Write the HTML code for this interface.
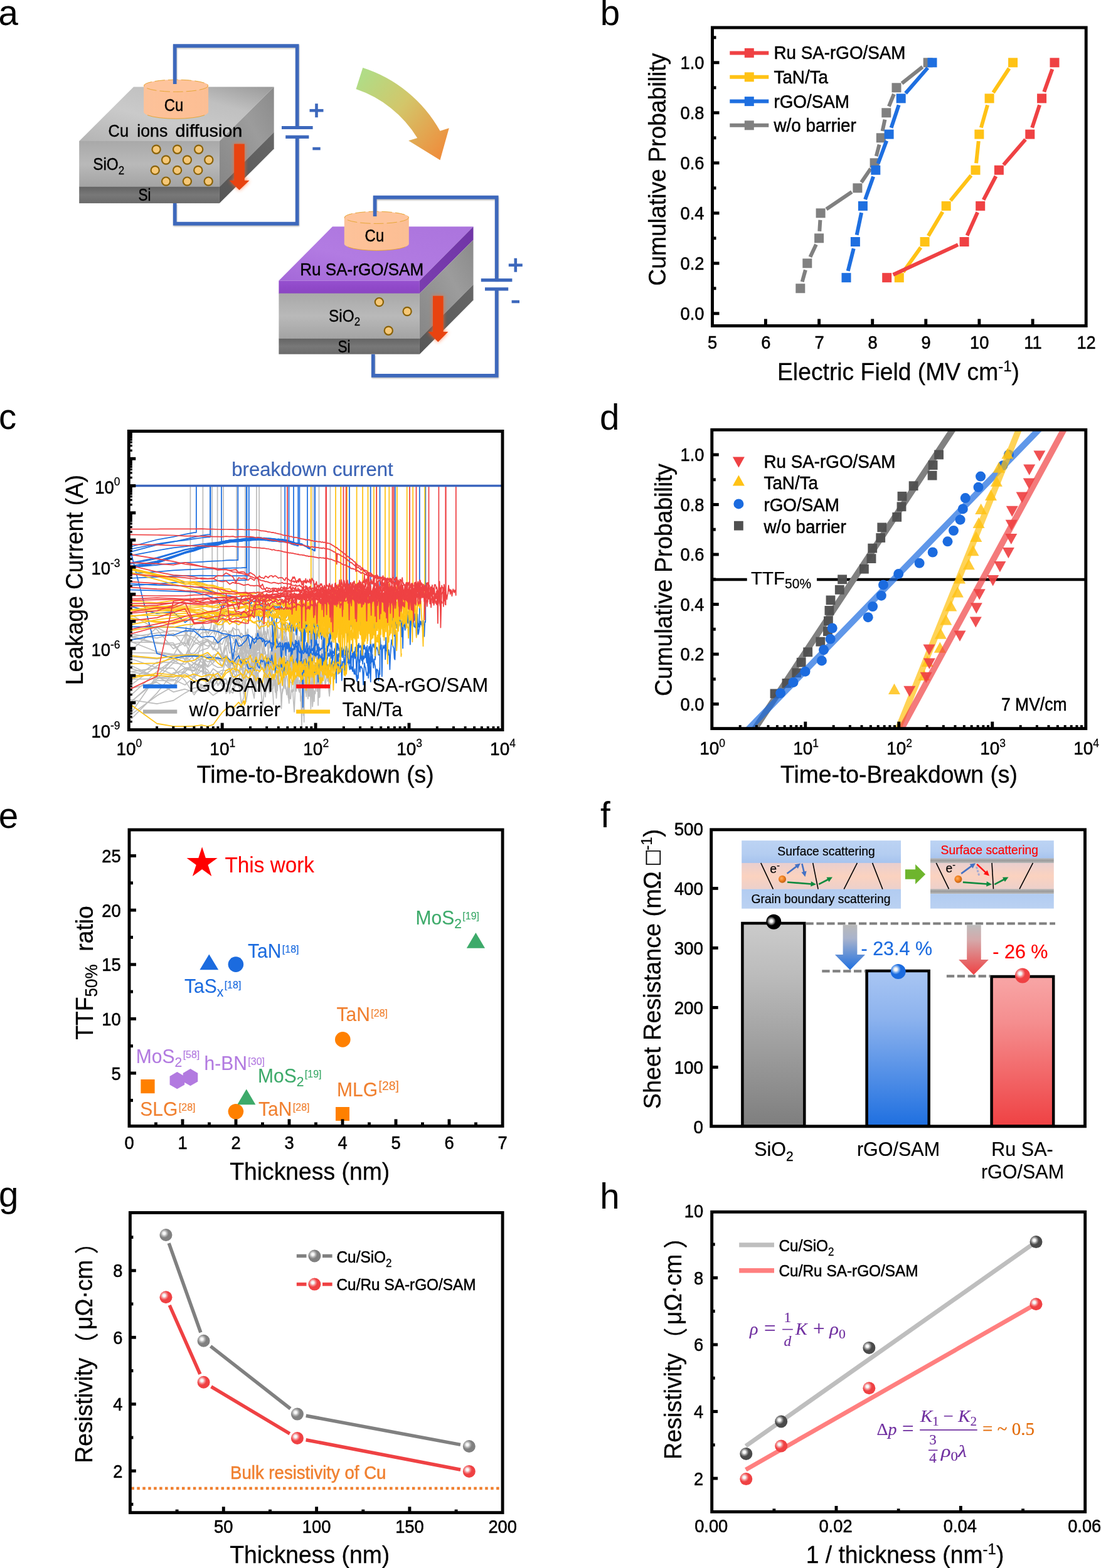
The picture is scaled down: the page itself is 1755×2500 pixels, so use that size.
<!DOCTYPE html>
<html lang="en"><head><meta charset="utf-8"><title>Figure</title>
<style>
html,body{margin:0;padding:0;background:#fff}
body{width:1755px;height:2500px;overflow:hidden}
svg{display:block}
svg text{font-family:"Liberation Sans","Noto Sans CJK SC",sans-serif;white-space:pre}
</style></head><body>
<svg width="1755" height="2500" viewBox="0 0 1755 2500">
<defs>
<linearGradient id="cu" x1="0" y1="0" x2="1" y2="0"><stop offset="0" stop-color="#FCC29A"/><stop offset="0.5" stop-color="#FEC096"/><stop offset="1" stop-color="#FBBE94"/></linearGradient>
<linearGradient id="at" x1="0" y1="1" x2="1" y2="0"><stop offset="0" stop-color="#b4b4b4"/><stop offset="0.4" stop-color="#cacaca"/><stop offset="0.7" stop-color="#c0c0c0"/><stop offset="1" stop-color="#999"/></linearGradient>
<linearGradient id="af" x1="0" y1="0" x2="0" y2="1"><stop offset="0" stop-color="#a9a9a9"/><stop offset="0.5" stop-color="#b9b9b9"/><stop offset="1" stop-color="#a3a3a3"/></linearGradient>
<linearGradient id="afs" x1="0" y1="0" x2="0" y2="1"><stop offset="0" stop-color="#646464"/><stop offset="0.5" stop-color="#787878"/><stop offset="1" stop-color="#6a6a6a"/></linearGradient>
<linearGradient id="ar" x1="0" y1="1" x2="1" y2="0"><stop offset="0" stop-color="#868686"/><stop offset="0.6" stop-color="#9c9c9c"/><stop offset="1" stop-color="#8a8a8a"/></linearGradient>
<linearGradient id="ars" x1="0" y1="1" x2="1" y2="0"><stop offset="0" stop-color="#565656"/><stop offset="1" stop-color="#666"/></linearGradient>
<linearGradient id="pt" x1="0" y1="1" x2="1" y2="0"><stop offset="0" stop-color="#a468d8"/><stop offset="0.4" stop-color="#b27be2"/><stop offset="1" stop-color="#ab74dd"/></linearGradient>
<linearGradient id="pf" x1="0" y1="0" x2="0" y2="1"><stop offset="0" stop-color="#9650cf"/><stop offset="0.5" stop-color="#9049c9"/><stop offset="1" stop-color="#8a45c2"/></linearGradient>
<linearGradient id="pr" x1="0" y1="1" x2="1" y2="0"><stop offset="0" stop-color="#7a3eaf"/><stop offset="1" stop-color="#7035a6"/></linearGradient>
<linearGradient id="ca" gradientUnits="userSpaceOnUse" x1="575" y1="125" x2="710" y2="235"><stop offset="0" stop-color="#b1dc86"/><stop offset="0.45" stop-color="#d3c66a"/><stop offset="1" stop-color="#ee8f3e"/></linearGradient>
<filter id="glow" x="-60%" y="-30%" width="220%" height="160%"><feGaussianBlur stdDeviation="3.2"/></filter>
<filter id="wsh" x="-5%" y="-5%" width="110%" height="110%"><feGaussianBlur stdDeviation="1.2"/></filter>
<linearGradient id="fb1" x1="0" y1="0" x2="0" y2="1"><stop offset="0" stop-color="#cbcbcb"/><stop offset="0.25" stop-color="#bcbcbc"/><stop offset="1" stop-color="#7e7e7e"/></linearGradient>
<linearGradient id="fb2" x1="0" y1="0" x2="0" y2="1"><stop offset="0" stop-color="#a9c6f3"/><stop offset="0.3" stop-color="#8db3ee"/><stop offset="1" stop-color="#1e6fe0"/></linearGradient>
<linearGradient id="fb3" x1="0" y1="0" x2="0" y2="1"><stop offset="0" stop-color="#f8a6a6"/><stop offset="0.3" stop-color="#f58e8f"/><stop offset="1" stop-color="#ef4143"/></linearGradient>
<linearGradient id="fa1" x1="0" y1="0" x2="0" y2="1"><stop offset="0" stop-color="#b9b9b9"/><stop offset="0.3" stop-color="#a9b3cc"/><stop offset="1" stop-color="#1e6fe0"/></linearGradient>
<linearGradient id="fa2" x1="0" y1="0" x2="0" y2="1"><stop offset="0" stop-color="#bdbdbd"/><stop offset="0.3" stop-color="#d5a9aa"/><stop offset="1" stop-color="#ef4143"/></linearGradient>
<linearGradient id="fi1" x1="0" y1="0" x2="0" y2="1"><stop offset="0" stop-color="#bcd3f3"/><stop offset="0.6" stop-color="#b4cdf1"/><stop offset="1" stop-color="#a6c3ee"/></linearGradient>
<linearGradient id="fi2" x1="0" y1="0" x2="0" y2="1"><stop offset="0" stop-color="#e9cfcf"/><stop offset="0.5" stop-color="#fbd2bf"/><stop offset="1" stop-color="#ecd0cb"/></linearGradient>
<linearGradient id="fi3" x1="0" y1="0" x2="0" y2="1"><stop offset="0" stop-color="#b2ccf1"/><stop offset="1" stop-color="#bad1f2"/></linearGradient>
<linearGradient id="fi4" x1="0" y1="0" x2="0" y2="1"><stop offset="0" stop-color="#b9b9b9"/><stop offset="0.5" stop-color="#9a9a9a"/><stop offset="1" stop-color="#bdbdbd"/></linearGradient>
<radialGradient id="so" cx="0.4" cy="0.4" r="0.65"><stop offset="0" stop-color="#ffb060"/><stop offset="0.5" stop-color="#f08020"/><stop offset="1" stop-color="#b85a10"/></radialGradient>
<radialGradient id="sg" cx="0.36" cy="0.37" r="0.36"><stop offset="0" stop-color="#fff"/><stop offset="0.3" stop-color="#f2f2f2"/><stop offset="0.62" stop-color="#b4b4b4"/><stop offset="1" stop-color="#808080"/></radialGradient>
<radialGradient id="sr" cx="0.36" cy="0.37" r="0.36"><stop offset="0" stop-color="#fff"/><stop offset="0.3" stop-color="#f2f2f2"/><stop offset="0.62" stop-color="#f59092"/><stop offset="1" stop-color="#EF4143"/></radialGradient>
<radialGradient id="sk" cx="0.36" cy="0.37" r="0.36"><stop offset="0" stop-color="#fff"/><stop offset="0.3" stop-color="#f2f2f2"/><stop offset="0.62" stop-color="#9a9a9a"/><stop offset="1" stop-color="#4a4a4a"/></radialGradient>
<radialGradient id="sb" cx="0.34" cy="0.36" r="0.34"><stop offset="0" stop-color="#fff"/><stop offset="0.3" stop-color="#f2f2f2"/><stop offset="0.62" stop-color="#7fb0f0"/><stop offset="1" stop-color="#1b6bdf"/></radialGradient>
<radialGradient id="sK" cx="0.34" cy="0.45" r="0.3"><stop offset="0" stop-color="#fff"/><stop offset="0.3" stop-color="#f2f2f2"/><stop offset="0.62" stop-color="#8c8c8c"/><stop offset="1" stop-color="#000"/></radialGradient>
<radialGradient id="sR" cx="0.34" cy="0.36" r="0.34"><stop offset="0" stop-color="#fff"/><stop offset="0.3" stop-color="#f2f2f2"/><stop offset="0.62" stop-color="#f59092"/><stop offset="1" stop-color="#EF4143"/></radialGradient>
</defs>
<rect width="1755" height="2500" fill="#fff"/>
<g>
<text x="-2.4" y="40.3" font-size="56.5">a</text>
<path d="M278.7 134V73.1H473.7V203.5M473.7 218.4V356.6H278.7V324" fill="none" stroke="#000" stroke-opacity="0.28" stroke-width="5.7" transform="translate(0.6 1.6)" filter="url(#wsh)"/>
<polygon points="126.2,224.9 349.9,224.9 436.7,138.6 213,138.6" fill="url(#at)"/>
<rect x="126.2" y="224.9" width="223.7" height="73.4" fill="url(#af)"/>
<rect x="126.2" y="297.8" width="223.7" height="26.3" fill="url(#afs)"/>
<polygon points="349.9,224.9 436.7,138.6 436.7,210.7 349.9,297.8" fill="url(#ar)"/>
<polygon points="349.9,297.8 436.7,210.7 436.7,237.3 349.9,324.1" fill="url(#ars)"/>
<path d="M229.1 136.7A51.5 9.6 0 0 1 332.1 136.7V178.6A51.5 10.6 0 0 1 229.1 178.6Z" fill="url(#cu)"/>
<path d="M235.1 183.6A51.5 10.6 0 0 0 326.1 183.6" fill="none" stroke="#E3A32A" stroke-width="0.9"/>
<ellipse cx="280.6" cy="136.7" rx="51" ry="9.6" fill="#FEC49C" stroke="#E3A32A" stroke-width="0.9" stroke-dasharray="16 5"/>
<path d="M278.7 134V73.1H473.7V203.5M473.7 218.4V356.6H278.7V324" fill="none" stroke="#3D68BC" stroke-width="5.7"/>
<line x1="449" y1="203.5" x2="498.6" y2="203.5" stroke="#3D68BC" stroke-width="5.2"/>
<line x1="455.2" y1="218.4" x2="492.4" y2="218.4" stroke="#3D68BC" stroke-width="5.2"/>
<line x1="493.5" y1="176.2" x2="515.5" y2="176.2" stroke="#3D68BC" stroke-width="4.6"/>
<line x1="504.5" y1="165.2" x2="504.5" y2="187.2" stroke="#3D68BC" stroke-width="4.6"/>
<line x1="498.3" y1="237" x2="510.7" y2="237" stroke="#3D68BC" stroke-width="4.6"/>
<text font-size="26.5" stroke="#000" stroke-width="0.4" transform="translate(261.7 176.7) scale(1 1.02)" textLength="30.6" lengthAdjust="spacingAndGlyphs">Cu</text>
<text font-size="26.5" stroke="#000" stroke-width="0.4" transform="translate(0 218) scale(1 1.02)"><tspan x="172.6" textLength="32.4" lengthAdjust="spacingAndGlyphs">Cu</tspan><tspan> </tspan><tspan x="218.3" textLength="49" lengthAdjust="spacingAndGlyphs">ions</tspan><tspan> </tspan><tspan x="279.6" textLength="106.8" lengthAdjust="spacingAndGlyphs">diffusion</tspan></text>
<text font-size="26.5" stroke="#000" stroke-width="0.4" transform="translate(148.2 271.4) scale(1 1.02)" textLength="50" lengthAdjust="spacingAndGlyphs">SiO<tspan font-size="18.5" dy="6" stroke-width="0.25">2</tspan></text>
<text font-size="26.5" stroke="#000" stroke-width="0.4" transform="translate(220.6 319.5) scale(1 1.02)" textLength="20" lengthAdjust="spacingAndGlyphs">Si</text>
<circle cx="249.1" cy="238.2" r="6.6" fill="#F6C878" stroke="#8A6208" stroke-width="2.2"/>
<circle cx="282.6" cy="238.2" r="6.6" fill="#F6C878" stroke="#8A6208" stroke-width="2.2"/>
<circle cx="316.7" cy="238.2" r="6.6" fill="#F6C878" stroke="#8A6208" stroke-width="2.2"/>
<circle cx="264.6" cy="255" r="6.6" fill="#F6C878" stroke="#8A6208" stroke-width="2.2"/>
<circle cx="298.4" cy="255" r="6.6" fill="#F6C878" stroke="#8A6208" stroke-width="2.2"/>
<circle cx="332.8" cy="255" r="6.6" fill="#F6C878" stroke="#8A6208" stroke-width="2.2"/>
<circle cx="247.2" cy="271.4" r="6.6" fill="#F6C878" stroke="#8A6208" stroke-width="2.2"/>
<circle cx="282.6" cy="271.4" r="6.6" fill="#F6C878" stroke="#8A6208" stroke-width="2.2"/>
<circle cx="315.8" cy="271.4" r="6.6" fill="#F6C878" stroke="#8A6208" stroke-width="2.2"/>
<circle cx="264.6" cy="289.1" r="6.6" fill="#F6C878" stroke="#8A6208" stroke-width="2.2"/>
<circle cx="298.4" cy="289.1" r="6.6" fill="#F6C878" stroke="#8A6208" stroke-width="2.2"/>
<circle cx="332.2" cy="289.1" r="6.6" fill="#F6C878" stroke="#8A6208" stroke-width="2.2"/>
<polygon points="373.2,229.5 389.8,229.5 389.8,287.8 397.5,287.8 381.5,303 365.5,287.8 373.2,287.8" fill="#FF6A30" filter="url(#glow)" opacity="0.85"/>
<polygon points="373.2,229.5 389.8,229.5 389.8,287.8 397.5,287.8 381.5,303 365.5,287.8 373.2,287.8" fill="#E84310"/>
<path d="M578.3 108A216.7 216.7 0 0 1 701.5 208.8L715.8 204.2L701.5 255.3L651.2 224.3L665.2 220A182.6 182.6 0 0 0 567.5 142.1Z" fill="url(#ca)"/>
<path d="M597.6 345V314.7H791.7V446.6M791.7 460.8V598.9H594.8V564.7" fill="none" stroke="#000" stroke-opacity="0.28" stroke-width="5.7" transform="translate(0.6 1.6)" filter="url(#wsh)"/>
<polygon points="444.4,447.5 668.9,447.5 754.5,361.3 530,361.3" fill="url(#pt)"/>
<rect x="444.4" y="447.5" width="224.5" height="20.7" fill="url(#pf)"/>
<rect x="444.4" y="467.7" width="224.5" height="72.7" fill="url(#af)"/>
<rect x="444.4" y="539.9" width="224.5" height="24.8" fill="url(#afs)"/>
<polygon points="668.9,447.5 754.5,361.3 754.5,382.5 668.9,467.7" fill="url(#pr)"/>
<polygon points="668.9,467.7 754.5,382.5 754.5,453.7 668.9,539.9" fill="url(#ar)"/>
<polygon points="668.9,539.9 754.5,453.7 754.5,478.5 668.9,564.7" fill="url(#ars)"/>
<path d="M548.8 346.8A51.5 9.6 0 0 1 651.8 346.8V388.8A51.5 10.6 0 0 1 548.8 388.8Z" fill="url(#cu)"/>
<path d="M554.8 393.8A51.5 10.6 0 0 0 645.8 393.8" fill="none" stroke="#E3A32A" stroke-width="0.9"/>
<ellipse cx="600.3" cy="346.8" rx="51" ry="9.6" fill="#FEC49C" stroke="#E3A32A" stroke-width="0.9" stroke-dasharray="16 5"/>
<path d="M597.6 345V314.7H791.7V446.6M791.7 460.8V598.9H594.8V564.7" fill="none" stroke="#3D68BC" stroke-width="5.7"/>
<line x1="766.8" y1="446.6" x2="816.4" y2="446.6" stroke="#3D68BC" stroke-width="5.2"/>
<line x1="773" y1="460.8" x2="810.2" y2="460.8" stroke="#3D68BC" stroke-width="5.2"/>
<line x1="810.8" y1="422.7" x2="832.8" y2="422.7" stroke="#3D68BC" stroke-width="4.6"/>
<line x1="821.8" y1="411.7" x2="821.8" y2="433.7" stroke="#3D68BC" stroke-width="4.6"/>
<line x1="815.6" y1="481" x2="828" y2="481" stroke="#3D68BC" stroke-width="4.6"/>
<text font-size="26.5" stroke="#000" stroke-width="0.4" transform="translate(581.6 385.2) scale(1 1.02)" textLength="30.6" lengthAdjust="spacingAndGlyphs">Cu</text>
<text font-size="26.5" stroke="#000" stroke-width="0.4" transform="translate(478.2 438.8) scale(1 1.02)" textLength="197" lengthAdjust="spacingAndGlyphs">Ru SA-rGO/SAM</text>
<text font-size="26.5" stroke="#000" stroke-width="0.4" transform="translate(524.1 512.6) scale(1 1.02)" textLength="50" lengthAdjust="spacingAndGlyphs">SiO<tspan font-size="18.5" dy="6" stroke-width="0.25">2</tspan></text>
<text font-size="26.5" stroke="#000" stroke-width="0.4" transform="translate(538.6 561.6) scale(1 1.02)" textLength="20" lengthAdjust="spacingAndGlyphs">Si</text>
<circle cx="604.4" cy="481.6" r="6.6" fill="#F6C878" stroke="#8A6208" stroke-width="2.2"/>
<circle cx="649.1" cy="496.5" r="6.6" fill="#F6C878" stroke="#8A6208" stroke-width="2.2"/>
<circle cx="619.3" cy="527.2" r="6.6" fill="#F6C878" stroke="#8A6208" stroke-width="2.2"/>
<polygon points="690,471.7 706.6,471.7 706.6,529.1 714.3,529.1 698.3,545.2 682.3,529.1 690,529.1" fill="#FF6A30" filter="url(#glow)" opacity="0.85"/>
<polygon points="690,471.7 706.6,471.7 706.6,529.1 714.3,529.1 698.3,545.2 682.3,529.1 690,529.1" fill="#E84310"/>
</g>
<g>
<text x="956.7" y="40.2" font-size="56.5">b</text>
<path d="M1278.7 449.2L1283.9 430.4M1291.5 409.8L1300.9 389.8M1306.3 368.8L1307.4 350.8M1317.2 333.6L1357.8 306M1373 290.7L1387.9 268.9M1396.8 249.1L1401.6 230.5M1406.6 209L1410.5 190.6M1416.9 169.6L1424.9 150M1437.6 132.9L1470.6 106.7" stroke="#808080" stroke-width="6" fill="none"/>
<rect x="1268.3" y="452.3" width="15" height="15" fill="#808080"/>
<rect x="1279.3" y="412.3" width="15" height="15" fill="#808080"/>
<rect x="1298.1" y="372.3" width="15" height="15" fill="#808080"/>
<rect x="1300.6" y="332.3" width="15" height="15" fill="#808080"/>
<rect x="1359.4" y="292.3" width="15" height="15" fill="#808080"/>
<rect x="1386.6" y="252.3" width="15" height="15" fill="#808080"/>
<rect x="1396.8" y="212.3" width="15" height="15" fill="#808080"/>
<rect x="1405.3" y="172.3" width="15" height="15" fill="#808080"/>
<rect x="1421.5" y="132.3" width="15" height="15" fill="#808080"/>
<rect x="1471.7" y="92.3" width="15" height="15" fill="#808080"/>
<path d="M1351.7 432L1360.7 396.2M1365.7 374.7L1373.1 339.1M1379.1 318L1392.1 281.6M1399.6 260.9L1413.2 224.4M1420.6 203.7L1432.7 167.4M1443.5 148.7L1478.8 108.1" stroke="#1E6FE0" stroke-width="6" fill="none"/>
<rect x="1341.5" y="435.2" width="15" height="15" fill="#1E6FE0"/>
<rect x="1355.9" y="378" width="15" height="15" fill="#1E6FE0"/>
<rect x="1367.9" y="320.9" width="15" height="15" fill="#1E6FE0"/>
<rect x="1388.3" y="263.7" width="15" height="15" fill="#1E6FE0"/>
<rect x="1409.6" y="206.6" width="15" height="15" fill="#1E6FE0"/>
<rect x="1428.7" y="149.4" width="15" height="15" fill="#1E6FE0"/>
<rect x="1478.5" y="92.3" width="15" height="15" fill="#1E6FE0"/>
<path d="M1439.7 433.7L1467.7 394.5M1479.7 376.1L1502.5 337.8M1515.1 319.9L1548 279.7M1556.1 260.3L1559.8 225M1563.9 203.5L1574.1 167.5M1583.2 147.7L1608.6 109" stroke="#FFC215" stroke-width="6" fill="none"/>
<rect x="1425.8" y="435.2" width="15" height="15" fill="#FFC215"/>
<rect x="1466.6" y="378" width="15" height="15" fill="#FFC215"/>
<rect x="1500.7" y="320.9" width="15" height="15" fill="#FFC215"/>
<rect x="1547.5" y="263.7" width="15" height="15" fill="#FFC215"/>
<rect x="1553.4" y="206.6" width="15" height="15" fill="#FFC215"/>
<rect x="1569.6" y="149.4" width="15" height="15" fill="#FFC215"/>
<rect x="1607.1" y="92.3" width="15" height="15" fill="#FFC215"/>
<path d="M1423.7 438L1527.1 390.1M1541.6 375.5L1558.2 338.4M1567.7 318.6L1587.4 281M1599.6 262.9L1634.6 222.4M1645.2 203.6L1657.1 167.4M1664.3 146.6L1677.3 110.2" stroke="#EF4143" stroke-width="6" fill="none"/>
<rect x="1406.2" y="435.2" width="15" height="15" fill="#EF4143"/>
<rect x="1529.6" y="378" width="15" height="15" fill="#EF4143"/>
<rect x="1555.2" y="320.9" width="15" height="15" fill="#EF4143"/>
<rect x="1584.9" y="263.7" width="15" height="15" fill="#EF4143"/>
<rect x="1634.3" y="206.6" width="15" height="15" fill="#EF4143"/>
<rect x="1653.1" y="149.4" width="15" height="15" fill="#EF4143"/>
<rect x="1673.5" y="92.3" width="15" height="15" fill="#EF4143"/>
<line x1="1163.3" y1="84.4" x2="1225.3" y2="84.4" stroke="#EF4143" stroke-width="6"/>
<rect x="1186.8" y="76.9" width="15" height="15" fill="#EF4143"/>
<text font-size="27.8" stroke="#000" stroke-width="0.5" transform="translate(1233.5 94.4) scale(1 1.08)">Ru SA-rGO/SAM</text>
<line x1="1163.3" y1="122.8" x2="1225.3" y2="122.8" stroke="#FFC215" stroke-width="6"/>
<rect x="1186.8" y="115.3" width="15" height="15" fill="#FFC215"/>
<text font-size="27.8" stroke="#000" stroke-width="0.5" transform="translate(1233.5 132.8) scale(1 1.08)">TaN/Ta</text>
<line x1="1163.3" y1="161.6" x2="1225.3" y2="161.6" stroke="#1E6FE0" stroke-width="6"/>
<rect x="1186.8" y="154.1" width="15" height="15" fill="#1E6FE0"/>
<text font-size="27.8" stroke="#000" stroke-width="0.5" transform="translate(1233.5 171.6) scale(1 1.08)">rGO/SAM</text>
<line x1="1163.3" y1="199.8" x2="1225.3" y2="199.8" stroke="#808080" stroke-width="6"/>
<rect x="1186.8" y="192.3" width="15" height="15" fill="#808080"/>
<text font-size="27.8" stroke="#000" stroke-width="0.5" transform="translate(1233.5 209.8) scale(1 1.08)">w/o barrier</text>
<rect x="1135.5" y="44" width="595.7" height="475.5" fill="none" stroke="#000" stroke-width="4.9"/>
<line x1="1220.4" y1="519.5" x2="1220.4" y2="508.5" stroke="#000" stroke-width="4.9"/>
<line x1="1305.6" y1="519.5" x2="1305.6" y2="508.5" stroke="#000" stroke-width="4.9"/>
<line x1="1390.7" y1="519.5" x2="1390.7" y2="508.5" stroke="#000" stroke-width="4.9"/>
<line x1="1475.8" y1="519.5" x2="1475.8" y2="508.5" stroke="#000" stroke-width="4.9"/>
<line x1="1560.9" y1="519.5" x2="1560.9" y2="508.5" stroke="#000" stroke-width="4.9"/>
<line x1="1646.1" y1="519.5" x2="1646.1" y2="508.5" stroke="#000" stroke-width="4.9"/>
<line x1="1135.5" y1="499.8" x2="1146.5" y2="499.8" stroke="#000" stroke-width="4.9"/>
<line x1="1135.5" y1="419.8" x2="1146.5" y2="419.8" stroke="#000" stroke-width="4.9"/>
<line x1="1135.5" y1="339.8" x2="1146.5" y2="339.8" stroke="#000" stroke-width="4.9"/>
<line x1="1135.5" y1="259.8" x2="1146.5" y2="259.8" stroke="#000" stroke-width="4.9"/>
<line x1="1135.5" y1="179.8" x2="1146.5" y2="179.8" stroke="#000" stroke-width="4.9"/>
<line x1="1135.5" y1="99.8" x2="1146.5" y2="99.8" stroke="#000" stroke-width="4.9"/>
<line x1="1135.5" y1="459.8" x2="1141.5" y2="459.8" stroke="#000" stroke-width="4.9"/>
<line x1="1135.5" y1="379.8" x2="1141.5" y2="379.8" stroke="#000" stroke-width="4.9"/>
<line x1="1135.5" y1="299.8" x2="1141.5" y2="299.8" stroke="#000" stroke-width="4.9"/>
<line x1="1135.5" y1="219.8" x2="1141.5" y2="219.8" stroke="#000" stroke-width="4.9"/>
<line x1="1135.5" y1="139.8" x2="1141.5" y2="139.8" stroke="#000" stroke-width="4.9"/>
<line x1="1135.5" y1="59.8" x2="1141.5" y2="59.8" stroke="#000" stroke-width="4.9"/>
<text font-size="27.3" text-anchor="middle" stroke="#000" stroke-width="0.5" transform="translate(1135.7 556.2) scale(1 1.08)">5</text>
<text font-size="27.3" text-anchor="middle" stroke="#000" stroke-width="0.5" transform="translate(1220.8 556.2) scale(1 1.08)">6</text>
<text font-size="27.3" text-anchor="middle" stroke="#000" stroke-width="0.5" transform="translate(1306 556.2) scale(1 1.08)">7</text>
<text font-size="27.3" text-anchor="middle" stroke="#000" stroke-width="0.5" transform="translate(1391.1 556.2) scale(1 1.08)">8</text>
<text font-size="27.3" text-anchor="middle" stroke="#000" stroke-width="0.5" transform="translate(1476.2 556.2) scale(1 1.08)">9</text>
<text font-size="27.3" text-anchor="middle" stroke="#000" stroke-width="0.5" transform="translate(1561.3 556.2) scale(1 1.08)">10</text>
<text font-size="27.3" text-anchor="middle" stroke="#000" stroke-width="0.5" transform="translate(1646.5 556.2) scale(1 1.08)">11</text>
<text font-size="27.3" text-anchor="middle" stroke="#000" stroke-width="0.5" transform="translate(1731.6 556.2) scale(1 1.08)">12</text>
<text font-size="27.3" text-anchor="end" stroke="#000" stroke-width="0.5" transform="translate(1122.5 510.2) scale(1 1.08)">0.0</text>
<text font-size="27.3" text-anchor="end" stroke="#000" stroke-width="0.5" transform="translate(1122.5 430.2) scale(1 1.08)">0.2</text>
<text font-size="27.3" text-anchor="end" stroke="#000" stroke-width="0.5" transform="translate(1122.5 350.2) scale(1 1.08)">0.4</text>
<text font-size="27.3" text-anchor="end" stroke="#000" stroke-width="0.5" transform="translate(1122.5 270.2) scale(1 1.08)">0.6</text>
<text font-size="27.3" text-anchor="end" stroke="#000" stroke-width="0.5" transform="translate(1122.5 190.2) scale(1 1.08)">0.8</text>
<text font-size="27.3" text-anchor="end" stroke="#000" stroke-width="0.5" transform="translate(1122.5 110.2) scale(1 1.08)">1.0</text>
<text font-size="37.3" text-anchor="middle" stroke="#000" stroke-width="0.3" transform="translate(1432 605.7) scale(1 1.03)">Electric Field (MV cm<tspan font-size="24" dy="-13" stroke-width="0.25">-1</tspan><tspan dy="13">)</tspan></text>
<text font-size="37.3" text-anchor="middle" stroke="#000" stroke-width="0.3" transform="translate(1061 270.2) rotate(-90) scale(1 1.03)">Cumulative Probability</text>
</g>
<g>
<text x="-2.1" y="683.8" font-size="56.5">c</text>
<clipPath id="cc"><rect x="205.3" y="687.5" width="595.7" height="479.1"/></clipPath>
<g clip-path="url(#cc)" fill="none" stroke-width="1.75" stroke-linejoin="round">
<g stroke-width="1.7">
<path d="M205.3 1023.8L250.1 1024.2L276.3 1028.4L294.9 1023.5L295.8 1002.8L296.7 999.5L297.6 1018.8L298.5 1025.3L299.4 1028.5L300.3 1018.5L301.2 1029.2L302.1 1020L303 1018L303.4 1020.5V774.5" stroke="#BDBDBD"/>
<path d="M205.3 1070.7L250.1 1078.2L276.3 1093.1L294.9 1066.7L309.4 1070.1L321.2 1060.3L322.1 1062.2L323 1068.4L323.4 1075.8V774.5" stroke="#BDBDBD"/>
<path d="M205.3 1094.6L250.1 1061.8L276.3 1045.4L294.9 1012L309.4 1016.4L321.2 999.4L331.1 1008L332 1010.8L332.9 1009.4L333.8 1002.8L334.7 1002L335.6 1002.9L336.5 997.7L337.4 982.7L338.2 981.4V774.5" stroke="#BDBDBD"/>
<path d="M205.3 1016L250.1 1009.4L276.3 1005.4L294.9 1007.6L309.4 1023L321.2 1008.9L331.1 1007.9L339.8 1004.7L340.7 996.7L341.6 1011.2L342.5 1007.4L343.4 992.9L344.3 974.5L345.2 994.3L346.1 1000.6L346.6 989.1V774.5" stroke="#BDBDBD"/>
<path d="M205.3 1040.4L250.1 1000.4L276.3 1014.1L294.9 1012.6L309.4 993.4L321.2 990.4L331.1 1016.2L339.8 1006.3L347.4 1008.6L354.2 999.7L355.1 973.8L356 992.1L356.1 1006V774.5" stroke="#BDBDBD"/>
<path d="M205.3 1115.3L250.1 1122.2L276.3 1116.9L294.9 1104.9L309.4 1096.8L321.2 1096.1L331.1 1100.7L339.8 1072.6L347.4 1093.3L354.2 1084L360.4 1083.5L366 1090.3L371.2 1074.3L376 1059.5L376.9 1067.2L377.2 1076.1V774.5" stroke="#BDBDBD"/>
<path d="M205.3 1098.5L250.1 1087.9L276.3 1103.3L294.9 1098.7L309.4 1104L321.2 1097.7L331.1 1089.4L339.8 1086.5L347.4 1076.3L354.2 1094.3L360.4 1088.8L366 1098.5L371.2 1069L376 1080.9L380.4 1095.2L384.6 1094.4L388.5 1079L389.4 1082L390.3 1076.6L390.9 1076.4V774.5" stroke="#BDBDBD"/>
<path d="M205.3 1141.8L250.1 1109.2L276.3 1094L294.9 1076L309.4 1080.2L321.2 1069.2L331.1 1078.9L339.8 1066.2L347.4 1072L354.2 1068.6L360.4 1069.2L366 1069.8L371.2 1088.4L376 1080.2L380.4 1092L384.6 1052.7L388.5 1047.6L392.2 1055.5L395.7 1058L399 1073.8L402.2 1067.3L405.2 1091.4L408.1 1065.7L408.9 1064.7V774.5" stroke="#BDBDBD"/>
<path d="M205.3 1046.9L250.1 1050.7L276.3 1045.8L294.9 1050.3L309.4 1044.1L321.2 1036.6L331.1 1033.6L339.8 1023.7L347.4 1002.7L354.2 1046.9L360.4 1018.3L366 1007.8L371.2 1003.5L376 1024.6L380.4 1013.7L384.6 1021.4L388.5 1037.6L392.2 1040.1L395.7 1056L399 1037.5L402.2 1014.3L405.2 1026.6L408.1 1032.8L410.8 1026.6L411.7 1019.5L412.6 1028.5L413.1 1036.9V774.5" stroke="#BDBDBD"/>
<path d="M205.3 1111.6L250.1 1070.6L276.3 1052L294.9 1064.4L309.4 1064.8L321.2 1024.6L331.1 1022.5L339.8 1033.7L347.4 1039.2L354.2 1047.4L360.4 1044.4L366 1068.1L371.2 1025.3L376 1023.4L380.4 1032.2L384.6 1027.9L388.5 1046.1L392.2 1015.9L395.7 1044.3L399 1032L402.2 1018.5L405.2 1044.3L408.1 1030L410.8 1037.5L413.5 997.7L416 1004.4L418.4 1018.3L420.8 997.7L423.1 1021L425.2 1017.3L427.4 972.6L429.4 992.1L431.4 1013.2L433.3 1043.1L435.2 1047.8L437 1021.7L438.8 1020.7L440.5 1027.4L442.2 997.9L443.8 1016.9L445.4 1017.1L447 1007.2L447.9 985.8V774.5" stroke="#BDBDBD"/>
<path d="M205.3 1059.5L250.1 1080.6L276.3 1083.3L294.9 1092L309.4 1079.7L321.2 1093.9L331.1 1091.3L339.8 1076.2L347.4 1091.7L354.2 1083.1L360.4 1082.1L366 1105.9L371.2 1096L376 1086L380.4 1082.9L384.6 1094.7L388.5 1080.3L392.2 1119.1L395.7 1096.6L399 1075.2L402.2 1059.8L405.2 1084.9L408.1 1079.4L410.8 1072.6L413.5 1085.6L416 1099.1L418.4 1127.6L420.8 1105.6L423.1 1060.3L425.2 1089.5L427.4 1088.8L429.4 1104.8L431.4 1037.7L433.3 1083.7L435.2 1079.5L437 1093.1L438.8 1083.7L440.5 1113.1L442.2 1089.4L443.8 1065L445.4 1090.9L447 1086.9L448.5 1129.8L450 1098.5L451.5 1098.2L452.9 1094L454.3 1089.4L455.6 1096.4L457 1107.9L458.3 1095.2L459.6 1112.7L460.8 1088.2L462 1113.6L463.3 1114.4L464.4 1100.2L465.6 1103.2L466.7 1101.2L467.9 1120L469 1135.1L470.1 1108.6L471.1 1080.6L472.2 1102.3L473.2 1089.8L474.2 1094.4L475.2 1097.4L476.2 1100.2L477.2 1103.6L478.2 1091.2L479.1 1117.9L480 1110.1L481 1116.8L481.9 1120.8L482.8 1110.7L483.7 1140.7L484.6 1101.8L485.5 1105.2L486.4 1098.6L487.3 1094L488.2 1104.7L489.1 1089.6L490 1100.5L490.9 1114.2L491.8 1089.4L492.7 1109.9L493.6 1099.7L494.5 1086.4L495.4 1130.3L496.3 1105.6L497.2 1069.1L498.1 1126.7L499 1116.9L499 1102V774.5" stroke="#BDBDBD"/>
<path d="M205.3 1064.4L250.1 1079.8L276.3 1079.9L294.9 1072.8L309.4 1080.8L321.2 1061.8L331.1 1047.4L339.8 1060L347.4 1064.2L354.2 1064L360.4 1051.9L366 1066.2L371.2 1064.6L376 1060.6L380.4 1073.5L384.6 1054.5L388.5 1045L392.2 1063.6L395.7 1044.2L399 1074.9L402.2 1062.1L405.2 1063.4L408.1 1069.9L410.8 1066.5L413.5 1038.8L416 1063.6L418.4 1063.8L420.8 1066.8L423.1 1111.3L425.2 1072L427.4 1036.6L429.4 1084L431.4 1067.3L433.3 1084.3L435.2 1084.2L437 1079.3L438.8 1103.9L440.5 1075.6L442.2 1083L443.8 1091.1L445.4 1059L447 1065.6L448.5 1054.1L450 1054.9L451.5 1069L452.9 1070.7L454.3 1048.4L455.6 1062.5L457 1045.6L458.3 1066L459.6 1063.4L460.8 1073.7L462 1045.6L463.3 1043L464.4 1063.9L465.6 1077L466.7 1062.1L467.9 1077.7L469 1049.8L470.1 1076.3L471.1 1062.8L472.2 1048.3L473.2 1053.9L474.2 1061.5L475.2 1039.8L476.2 1051.3L477.2 1049.4L478.2 1074.2L479.1 1023.1L480 1043.8L481 1051.6L481.9 1047.3L482.8 1016.5L483.7 1056.3L484.6 1024L485.5 1006.4L486.4 1031.1L487.3 1061.7L488.2 1029.7L489.1 1043.5L490 1023.5L490.9 1031.7L491.8 1007.9L492.7 1012.6L493.6 1060.8L494.5 1071.4L495.4 1062.9L496.3 1023L497.2 1012.5L498.1 1028.2L499 1014L499.9 1015.6L500.8 1050.5L501.7 1053.1L502.6 1027.3L503.5 1049.1L504.4 1036.4L505.3 1044.3L506.2 1064.6L507.1 1110.5L508 1039.4L508.5 1033.9V774.5" stroke="#BDBDBD"/>
<path d="M205.3 1013.2L250.1 1025.5L276.3 1025L294.9 1052.4L309.4 1064.5L321.2 1070.7L331.1 1072.2L339.8 1094.9L347.4 1083.9L354.2 1072.4L360.4 1105.8L366 1097.4L371.2 1081.7L376 1076.4L380.4 1076.7L384.6 1075L388.5 1102.9L392.2 1081.9L395.7 1063.5L399 1085.1L402.2 1094.4L405.2 1079.3L408.1 1096.4L410.8 1102.1L413.5 1089.6L416 1093.3L418.4 1090.6L420.8 1098.2L423.1 1104.3L425.2 1100.9L427.4 1079.7L429.4 1090.4L431.4 1102.1L433.3 1098.2L435.2 1097.8L437 1077.1L438.8 1070L440.5 1092.6L442.2 1101.1L443.8 1071.6L445.4 1090.7L447 1101.2L448.5 1108.6L450 1105.1L451.5 1098.4L452.9 1061L454.3 1098L455.6 1078.3L457 1077.3L458.3 1085.8L459.6 1109.4L460.8 1121.3L462 1083L463.3 1088.1L464.4 1087.9L465.6 1100.5L466.7 1100.1L467.9 1102.2L469 1085.3L470.1 1082L471.1 1097.4L472.2 1086.8L473.2 1078.3L474.2 1086.7L475.2 1096.6L476.2 1097.7L477.2 1084.6L478.2 1087.7L479.1 1098.6L480 1116.7L481 1158L481.9 1096.5L482.8 1084.1L483.7 1098.2L484.6 1100.2L485.5 1081.6L486.4 1074.6L487.3 1073.9L488.2 1110.8L489.1 1079.2L490 1087.1L490.9 1104L491.8 1093.1L492.7 1095L493.6 1091.9L494.5 1080.8L495.4 1101.3L496.3 1106.9L497.2 1103.4L498.1 1090.3L499 1096.5L499.9 1100.4L500.8 1118.5L501.7 1101.5L502.6 1106L503.5 1084.6L504.4 1075.8L505.3 1102.2L506.2 1068.4L507.1 1124.7L508 1075.6L508.9 1112.2L509.8 1110.8L510.7 1074.1L511.6 1066.4L512.5 1059.5L513.4 1061.5L514.3 1079.1L515.2 1083.2L516.1 1070.8L517 1055.9L517.9 1087.7L518.8 1097L519.7 1084L520.6 1080.2L521.5 1066.4L522.4 1086.1L523.3 1070.8L524.2 1101.7L525.1 1110L526 1098.2L526.4 1092.1V774.5" stroke="#BDBDBD"/>
<path d="M205.3 1015.4L250.1 1025.8L276.3 1028.4L294.9 1046.7L309.4 1058.1L321.2 1064.3L322.1 1061.1L323 1058.8L323.9 1051.9L324.8 1073.5L325.7 1056.7L326.6 1052.8L327.5 1063.4L328.4 1089.8L329.3 1073.4L330 1083.7" stroke="#BDBDBD"/>
<path d="M205.3 1021.7L250.1 1039.3L276.3 1043.2L294.9 1044.1L309.4 1041.2L321.2 1025.6L331.1 1030.2L339.8 1024.7L347.4 1024.3L354.2 1027.2L360.4 1012.2L361.3 1019L362.2 1015.8L363.1 1019L364 1034L364.9 1005.7L365 1018.6" stroke="#BDBDBD"/>
<path d="M205.3 1040.5L250.1 1041.3L276.3 1044.9L294.9 1044.3L309.4 1078.8L321.2 1049.7L331.1 1055.3L339.8 1052.6L347.4 1051.5L354.2 1053.9L360.4 1030.2L366 1067L371.2 1041.3L376 1053.8L380.4 1024.2L384.6 1029.4L388.5 1076.4L392.2 1058.8L395.7 1065.5L399 1068.2L402.2 1017.3L405.2 1049.1L408.1 1034L410.8 1035.9L413.5 1037.3L416 1044.7L418.4 1039.4L419.3 1041.7L420 1052.8" stroke="#BDBDBD"/>
<path d="M205.3 1142L250.1 1077.3L276.3 1051.1L294.9 1045.3L309.4 1027.2L321.2 1022.2L331.1 1019.3L339.8 1027.1L347.4 1025.6L354.2 1043.1L360.4 1030.4L366 1024.7L371.2 1062.2L376 1038.2L380.4 1043.6L384.6 1027.8L388.5 1034.2L392.2 1007.5L395.7 1030.9L399 1040.7L402.2 1045.8L405.2 1028.3L408.1 1010.1L410.8 1035.5L413.5 1007.5L416 1027L418.4 1013.6L420.8 1039.5L423.1 1015L425.2 1016.7L427.4 1038.6L429.4 1031.8L431.4 1016.5L433.3 1013.9L435.2 985.8L437 997.4L438.8 1020.4L440.5 1014L442.2 1011.4L443.8 1066.3L445.4 1033.3L447 1036.4L448.5 993.5L450 1041.2L451.5 1019.9L452.9 1006.8L454.3 1009.5L455.6 998.8L457 996.2L458.3 999.7L459.6 994.2L460.8 998.1L462 1025.3L463.3 1015L464.4 982.8L465.6 999.4L466.7 1019.8L467.9 1031.6L469 1036.1L469.9 1031.1L470 1042.7" stroke="#BDBDBD"/>
<path d="M205.3 1087.6L250.1 1055.8L276.3 1056L294.9 1046.5L309.4 1015.3L321.2 1027.4L331.1 1020.2L339.8 1024.7L347.4 1023.2L354.2 1005.7L360.4 1006.2L366 1014.7L371.2 1016.6L376 1029.1L380.4 1018.9L384.6 1009.3L388.5 1014.5L392.2 1041.4L395.7 1038.6L399 1032.2L402.2 1024L405.2 1021.5L408.1 1034.6L410.8 1005.2L413.5 1016.4L416 1003.9L418.4 987.4L420.8 1012.3L423.1 1008.1L425.2 1012.8L427.4 1003.4L429.4 1021L431.4 1032.8L433.3 1032.3L435.2 1010.5L437 1028.9L438.8 1015.3L440.5 1018.5L442.2 1013.1L443.8 1034.7L445.4 1046.2L447 1044.8L448.5 1019.1L450 1008.1L451.5 1007.2L452.9 1007.3L454.3 988.6L455.6 997.2L457 1028.6L458.3 1024L459.6 1046.8L460.8 1052.1L462 1041.2L463.3 1014.9L464.4 999.9L465.6 1026.5L466.7 1001.1L467.9 1038.6L469 1043.5L470.1 1055.8L471.1 1021.4L472.2 1025.1L473.2 1009.6L474.2 1017.2L475.2 1047.3L476.2 1039.5L477.2 1014.8L478.2 1027.3L479.1 1051.3L480 1048.1L481 1023.6L481.9 1037.5L482.8 1019.8L483.7 1042.6L484.6 1045.8L485 1065.5" stroke="#BDBDBD"/>
<path d="M205.3 1071.4L250.1 1065.2L276.3 1065.3L294.9 1085.1L309.4 1107.9L321.2 1090.8L331.1 1100.8L339.8 1108.6L347.4 1103.5L354.2 1097.4L360.4 1100L366 1101.2L371.2 1105.1L376 1089.6L380.4 1082.8L384.6 1121.2L388.5 1112.7L392.2 1085.7L395.7 1081.9L399 1084.1L402.2 1100L405.2 1113.3L408.1 1077.3L410.8 1089.9L413.5 1080.7L416 1097.6L418.4 1088.9L420.8 1096.5L423.1 1080.1L425.2 1074.7L427.4 1084.7L429.4 1094.2L431.4 1103.7L433.3 1080.7L435.2 1107.7L436 1123.8" stroke="#BDBDBD"/>
<path d="M205.3 1010.4L250.1 1017.4L276.3 1009.9L294.9 1030.2L309.4 1001.1L321.2 1016.4L331.1 1019.7L339.8 1036L347.4 1017L354.2 1012.2L360.4 1014.7L366 1016.2L371.2 1000.7L376 1004.5L380.4 1003.4L384.6 1015.3L388.5 1024.2L392.2 1034.3L393.1 1010.9L394 1022.6L394.9 1029.9L395 1002.6" stroke="#BDBDBD"/>
<path d="M205.3 1150.2L250.1 1105.1L276.3 1072.5L294.9 1071.2L309.4 1057L321.2 1049.1L331.1 1043.2L339.8 1054.2L347.4 1047.2L354.2 1053L360.4 1053.7L366 1058.7L371.2 1047.7L376 1056.6L380.4 1051.7L384.6 1029.8L388.5 1059.4L392.2 1058.6L395.7 1066L399 1035.2L402.2 1028.1L405.2 1058L408.1 1065.3L410.8 1078L413.5 1066.9L416 1042L418.4 1052L420.8 1073.2L423.1 1070.8L425.2 1076.9L427.4 1067.8L429.4 1063.5L431.4 1041.9L433.3 1077.1L435.2 1067.3L437 1036.7L438.8 1062.5L440.5 1054.1L442.2 1069.2L443.8 1064.8L445.4 1062.5L447 1061.3L448.5 1060.8L450 1062.1L451.5 1081.6L452.9 1072.7L454.3 1068.9L455.6 1077.1L457 1062.9L458.3 1068.1L459.6 1061L460.8 1068.1L462 1080.3L463.3 1081L464.4 1060.3L465.6 1063.1L466.7 1046L467.9 1049L469 1048.8L470.1 1057.3L471.1 1044.5L472.2 1046.4L473.2 1054.1L474.2 1061L475.2 1067.4L476.2 1041.8L477.2 1041.3L478.2 1069.6L479.1 1047.1L480 1017L481 1047L481.9 1043.8L482.8 1041.5L483.7 1070.7L484.6 1077.7L485.5 1047.2L486.4 1047.5L487.3 1030.6L488.2 1051.4L489.1 1065.7L490 1058.5L490.9 1061.6L491.8 1045.4L492.7 1030.4L493.6 1062.7L494.5 1082L495.4 1066.1L496.3 1057.4L497.2 1052.8L498.1 1054L499 1050.2L499.9 1037.7L500 1039.8" stroke="#BDBDBD"/>
<path d="M205.3 978L250.1 1003.7L276.3 1034.3L294.9 1024.9L309.4 1053.1L321.2 1046.4L331.1 1044.4L339.8 1052.8L347.4 1049.3L354.2 1062.5L360.4 1052.8L366 1056.1L371.2 1054.5L376 1070.7L380.4 1051.5L384.6 1043.3L388.5 1028.5L392.2 1033L395.7 1071.8L399 1058.1L402.2 1059L405.2 1031.7L408.1 1059.9L410.8 1052.5L413.5 1063.5L416 1066.8L418.4 1034.9L420.8 1043L423.1 1039.2L425.2 1087.5L427.4 1051.1L429.4 1057.6L431.4 1052.2L433.3 1032.2L435.2 1032L437 1052.3L438.8 1042.8L440.5 1053.2L442.2 1038.6L443.8 1063.9L445.4 1022.6L447 1061L448.5 1055.5L450 1024.6L451.5 1017.8L452.9 1049.5L454.3 1049.7L455.6 1050.1L457 1046.9L458.3 1073.2L459.6 1060.5L460.8 1095.3L462 1048.8L463.3 1056.8L464.4 1068.2L465.6 1047.3L466.7 1066.7L467.9 1045.8L469 1068.3L470.1 1066.7L471.1 1042.9L472.2 1061.3L473.2 1088.8L474.2 1093.9L475.2 1084.8L476.2 1062.1L477.2 1055.6L478.2 1053.9L479.1 1082.7L480 1095L481 1074.3L481.9 1069.1L482.8 1089.2L483.7 1089.8L484.6 1151.3L485.5 1085L486.4 1095.3L487.3 1096.2L488.2 1076.4L489.1 1073.8L490 1089.1L490.9 1071.6L491.8 1070.2L492.7 1073.2L493.6 1110.1L494.5 1077.5L495.4 1056.2L496.3 1067.7L497.2 1058.2L498.1 1045.4L499 1054.2L499.9 1028.3L500.8 1047.4L501.7 1063.8L502.6 1074.8L503.5 1060.7L504.4 1089.7L505.3 1077.3L506.2 1064.6L507.1 1062.5L508 1042.9L508.9 1067.7L509.8 1091.5L510.7 1088.7L511.6 1068L512.5 1086.7L513.4 1094.1L514.3 1063.3L515 1068" stroke="#BDBDBD"/>
<path d="M205.3 1082.8L250.1 1082.4L276.3 1057.1L294.9 1059L309.4 1044.5L321.2 1055.6L331.1 1063.7L339.8 1056.9L347.4 1048.2L354.2 1051.9L360.4 1060.4L366 1067.1L371.2 1052L376 1059.1L380.4 1048.9L384.6 1066.3L388.5 1060.8L392.2 1044L395.7 1038.7L399 1047.2L402.2 1054.1L405.2 1021L408.1 1062.2L410.8 1040.7L413.5 1040.8L416 1009.7L418.4 1053.8L420.8 1016.9L423.1 1006.7L425.2 1017.3L427.4 1021.5L429.4 1056.9L431.4 1040.9L433.3 1037.5L435.2 1041.1L437 1031.6L438.8 1027.4L440.5 1023.2L442.2 1055.4L443.8 1044.6L445.4 1078.2L447 1042.1L448.5 1044.7L450 1030.1L451.5 1045.6L452.9 1033L454.3 1016.2L455 1007.7" stroke="#BDBDBD"/>
<path d="M205.3 1122.4L250.1 1082.3L276.3 1076.1L294.9 1053L309.4 1023.2L321.2 1029.6L331.1 1021.3L339.8 1034.3L347.4 1035.2L354.2 1008.6L360.4 1018.3L366 1041.4L371.2 1034.8L376 1039.8L380.4 1033.6L384.6 1035.2L388.5 1056.9L392.2 1043.1L395.7 1030.1L399 1027.2L402.2 1041.4L405.2 1047.6L408.1 1041.5L410.8 1015.4L413.5 1027.5L416 1060.3L418.4 1057.8L420.8 1030L423.1 1042.9L425.2 1049.8L427.4 1046L429.4 1057.2L431.4 1040.7L433.3 1046.6L435.2 1031.2L437 1020.7L438.8 1044L440.5 1054.8L442.2 1013.4L443.8 1026.2L445.4 1051.6L447 1025.5L448.5 1026.5L450 1042.8L451.5 1043.4L452.9 1060L454.3 1019.3L455.6 1020.8L457 1015.3L458.3 1020.9L459.6 1036.7L460.8 1038.4L462 1010.9L463.3 1025.3L464.4 1064.1L465.6 1046L466.7 1064.3L467.9 1034L469 1010.1L470.1 1051L471.1 1044.4L472.2 1033L473.2 1041.1L474.2 1041.7L475.2 1027.2L476.2 1035.5L477.2 1016.9L478.2 1032.9L479.1 1032.6L480 1019.9" stroke="#BDBDBD"/>
<path d="M205.3 1121.5L250.1 1085.1L276.3 1085.3L294.9 1070.7L309.4 1057.8L321.2 1060.9L331.1 1068.4L339.8 1082.9L347.4 1071.2L354.2 1075L360.4 1048.9L366 1062.4L371.2 1070.1L376 1071.5L380.4 1050.6L384.6 1039L388.5 1106.5L392.2 1076.1L395.7 1071.1L399 1072L402.2 1050.9L405.2 1064.2L408.1 1098.5L409 1069L409.9 1077.2L410 1079" stroke="#BDBDBD"/>
<path d="M205.3 1049L250.1 1064.8L276.3 1075.8L294.9 1064.8L309.4 1069L321.2 1049.9L331.1 1062.3L339.8 1044.7L347.4 1042.2L354.2 1043.7L360.4 1061.3L366 1058.2L371.2 1045L376 1043.5L380.4 1043.5L384.6 1067.9L388.5 1065.1L392.2 1066.5L395.7 1046.3L399 1047.8L402.2 1070.2L405.2 1047.5L408.1 1040.2L410.8 1057.1L413.5 1051.6L416 1017.6L418.4 1037.9L420.8 1055.4L423.1 1082.5L425.2 1044.2L427.4 1043.8L429.4 1051.5L431.4 1064.1L433.3 1067.3L435.2 1034.8L437 1063.2L438.8 1032L440.5 1046.5L442.2 1038.8L443.8 1066.8L445.4 1034.5L447 1076.3L448.5 1062.5L450 1032.3L451.5 1037.5L452.9 1014.1L454.3 1020.2L455.6 1031.8L457 1062.3L458.3 1075L459.6 1049.6L460.8 1054.5L462 1053.4L463.3 1026L464.4 1033.6L465.6 1011L466.7 1016.8L467.9 1021.6L469 1024.4L470.1 1058.9L471.1 1037.9L472.2 1026L473.2 1047.2L474.2 1003.9L475.2 1069.1L476.2 1035.2L477.2 1053.9L478.2 1043.5L479.1 1049.4L480 1037.1L481 1051L481.9 1058L482.8 1098.1L483.7 1052.3L484.6 1053.9L485.5 1037.6L486.4 1041.2L487.3 1042.3L488.2 1080.4L489.1 1050L490 1021.3L490.9 1044.5L491.8 1048.1L492.7 1037.9L493.6 1024.8L494.5 1023.9L495.4 995.9L496.3 1003.4L497.2 1029.8L498.1 1011.8L499 1039.2L499.9 1044.4L500.8 1041.9L501.7 1044.3L502.6 995.2L503.5 1031.3L504.4 1040.4L505.3 1027.1L506.2 1067.3L507.1 1079.9L508 1040.2L508.9 1045.1L509.8 1052.1L510.7 1065.4L511.6 1046.1L512.5 1028.4L513.4 1012.9L514.3 1037.6L515.2 1057.8L516.1 1053.5L517 1029L517.9 1063L518.8 1033.8L519.7 1038.3L520 1033.5" stroke="#BDBDBD"/>
</g>
<path d="M205.3 906.3L250.1 897.3L276.3 888.3L294.9 881.8L309.4 878.3L321.2 874.2L331.1 871.7L339.8 870.3L347.4 868.5L354.2 866.6L360.4 865L366 864.1L371.2 863.8L376 863.7L380.4 863.2L384.6 862.8L388.5 862.2L392.2 861.9L395.7 861.5L399 861.3L402.2 861L405.2 860.5L408.1 860.4L410.8 860.5L413.5 860.3L416 860.8L418.4 861.2L420.8 861.2L423.1 861.4L425.2 861.5L427.4 862L429.4 861.8L431.4 862.2L433.3 862.4L435.2 862.6L437 862.4L438.8 862.7L440.5 863.2L442.2 863.2L443.8 863.4L445.4 863.1L447 862.9L448.5 862.7L450 863.3L451.5 863.6L452.9 864L453.8 864.5L454.2 864.5V774.5" stroke="#1E6FE0"/>
<path d="M205.3 906L250.1 896.9L276.3 887.4L294.9 880.2L309.4 875.9L321.2 871L331.1 868.4L339.8 867.3L347.4 865.4L354.2 863.7L360.4 862.3L366 861.4L371.2 860.8L376 860.7L380.4 860.1L384.6 859.8L388.5 859.2L392.2 858.5L395.7 858.4L399 858L402.2 857.9L405.2 857.9L408.1 857.7L410.8 857.5L413.5 857.5L416 857.5L418.4 857.8L420.8 857.6L423.1 857.8L425.2 858.1L427.4 858.3L429.4 858.5L431.4 858.7L433.3 858.7L435.2 858.8L437 859.1L438.8 859.4L440.5 859.8L442.2 860L443.8 859.4L445.4 859.6L447 859.9L448.5 860.2L450 859.9L451.5 859.9L452.9 860.9L454.3 860.8L455.6 861.7L457 862L458.3 862.4L459.6 862.6L460.5 863L460.5 863.1V774.5" stroke="#1E6FE0"/>
<path d="M205.3 903.3L250.1 894.6L276.3 886.4L294.9 880.4L309.4 877.5L321.2 874L331.1 872.1L339.8 870.6L347.4 868.8L354.2 867L360.4 865.7L366 864.7L371.2 863.9L376 863.7L380.4 863.4L384.6 862.9L388.5 862.2L392.2 862.2L395.7 861.9L399 861.8L402.2 861.5L405.2 861.2L408.1 861.1L410.8 860.9L413.5 860.7L416 861L418.4 860.7L420.8 860.9L423.1 861.3L425.2 861.1L427.4 861.9L429.4 862.5L431.4 862.3L433.3 862.7L435.2 862.7L437 862.8L438.8 862.5L440.5 863.1L442.2 863.1L443.8 863.1L445.4 863.8L447 863.6L448.5 864L450 863.8L451.5 863.5L452.9 863.7L454.3 863.8L455.6 864.2L457 865L458.3 865.3L459.6 865.3L460.8 865.9L462 865.9L463.3 866.7L464.4 867.4L465.6 867.8L466.7 868L467.9 868.6L469 868.7L470.1 869.1L471.1 868.8L472.2 869.4L473.2 870L474.2 870L475.2 870.4L475.3 869.9V774.5" stroke="#1E6FE0"/>
<path d="M205.3 906.6L250.1 897.6L276.3 888.1L294.9 881L309.4 877.1L321.2 872.1L331.1 869.5L339.8 868.1L347.4 866.4L354.2 864.8L360.4 863.1L366 862.3L371.2 861.8L376 861.3L380.4 861.2L384.6 861L388.5 860.4L392.2 859.9L395.7 859.6L399 859.4L402.2 858.9L405.2 858.8L408.1 858.2L410.8 858.2L413.5 858.2L416 858.4L418.4 858.3L420.8 859L423.1 859.1L425.2 859.5L427.4 859.7L429.4 859.8L431.4 859.7L433.3 859.9L435.2 860.1L437 860L438.8 860.3L440.5 860.2L442.2 860.4L443.8 860.9L445.4 861.1L447 860.6L448.5 860.9L450 861.6L451.5 861.7L452.9 861.6L454.3 862L455.6 862.3L457 862.7L458.3 863.2L459.6 863.4L460.8 863.2L462 863.5L463.3 864L464.4 864.7L465.6 865.5L466.7 865.9L467.9 866.5L469 866.8L470.1 866.4L471.1 866.9L472.2 867L473.2 867.1L474.2 866.7L475.2 867.3L476.2 867.6L477.2 867.3L477.4 867.5V774.5" stroke="#1E6FE0"/>
<path d="M205.3 898L250.1 889L276.3 881.5L294.9 876L309.4 873.7L321.2 870.6L331.1 868.6L339.8 867L347.4 865.3L354.2 863.7L360.4 862.4L366 861.3L371.2 860.8L376 860.3L380.4 860.1L384.6 859.6L388.5 859.4L392.2 858.7L395.7 858.5L399 858.2L402.2 857.8L405.2 857.5L408.1 857.4L410.8 857.5L413.5 857.3L416 857.5L418.4 857.9L420.8 857.9L423.1 857.8L425.2 858.1L427.4 858.3L429.4 858.4L431.4 858.6L433.3 859L435.2 859L437 859.2L438.8 859.5L440.5 859.8L442.2 860.3L443.8 860.1L445.4 860.1L447 860.1L448.5 860.4L450 860.7L451.5 861L452.9 861L454.3 860.9L455.6 860.9L457 860.9L458.3 861.6L459.6 861.9L460.8 862.4L462 863L463.3 862.9L464.4 863.5L465.6 863.3L466.7 864.3L467.9 865L469 865L470.1 866.1L471.1 866.2L472.2 865.7L473.2 865.9L474.2 866.1L475.2 866.1L476.2 866.3L477.2 866.7L478.2 866.9L479.1 867.3L480 867.8L481 867.4L481.9 868.1L482.8 868.6L483.7 868.9L484.6 869.4L485.5 870L486.4 870.3L487.3 871L488.2 871.8L489.1 871.8L490 872L490.9 872.6L491.8 873.1L492.7 873.6L493.6 873.9L494.5 873.1L495.4 874.5L496.3 874.9L497.2 875.4L498.1 876L499 876.7L499.9 876.9L500.8 877.3L501.7 878.5L501.7 877.7V774.5" stroke="#1E6FE0"/>
<path d="M205.3 905.3L250.1 896.2L276.3 887.2L294.9 880.3L309.4 876.4L321.2 871.8L331.1 869.4L339.8 868.1L347.4 866.2L354.2 864.4L360.4 862.8L366 861.9L371.2 861.2L376 860.8L380.4 860.7L384.6 860.5L388.5 860L392.2 859.5L395.7 859.3L399 858.8L402.2 858.6L405.2 858.4L408.1 858.1L410.8 858L413.5 858.3L416 858.3L418.4 858.7L420.8 858.8L423.1 858.5L425.2 858.9L427.4 858.8L429.4 858.6L431.4 859L433.3 859.6L435.2 860L437 860.2L438.8 860L440.5 860.5L442.2 860.6L443.8 860.2L445.4 860.4L447 860.6L448.5 860.5L450 860.6L451.5 861.2L452.9 861.6L454.3 861.7L455.6 861.9L457 862.4L458.3 863L459.6 862.9L460.8 863.5L462 863.7L463.3 864.1L464.4 864.1L465.6 864.5L466.7 866.2L467.9 865.6L469 866.1L470.1 865.7L471.1 866.2L472.2 866.6L473.2 867.1L474.2 867.6L475.2 867.8L476.2 868.1L477.2 868.2L478.2 868.3L479.1 868.1L480 868.3L481 868.2L481.9 868.7L482.8 868.9L483.7 869.4L484.6 869.9L485.5 870.6L486.4 871.1L487.3 871L488.2 871.5L489.1 872L490 872.9L490.9 874.1L491.8 874L492.7 874.8L493.6 874.8L494.5 874.6L495.4 875.5L496.3 875.9L497.2 876.3L498.1 876.2L499 876.7L499.9 877.3L500.8 877.8L501.7 877.9L502.1 877.8V774.5" stroke="#1E6FE0"/>
<path d="M205.3 906.9L250.1 897.9L276.3 888.7L294.9 881.9L309.4 878.2L321.2 873.4L331.1 870.7L339.8 869.2L347.4 867.6L354.2 866.1L360.4 864.6L366 863.3L371.2 862.7L376 862.4L380.4 862L384.6 861.7L388.5 861.2L392.2 860.9L395.7 860.5L399 860.5L402.2 860L405.2 860.1L408.1 859.8L410.8 859.5L413.5 859.3L416 859.6L418.4 859.4L420.8 859.5L423.1 859.8L425.2 859.8L427.4 860.2L429.4 860.4L431.4 861L433.3 861.1L435.2 861.4L437 861.5L438.8 861.7L440.5 861.9L442.2 862L443.8 862.1L445.4 862.1L447 862.5L448.5 862.6L450 862.8L451.5 863L452.9 863.3L454.3 863.9L455.6 863.9L457 864.2L458.3 864.5L459.6 865.2L460.8 865.2L462 865.5L463.3 865.5L464.4 866.2L465.6 866.7L466.7 866.7L467.9 867.1L468 867.6V774.5" stroke="#1E6FE0"/>
<path d="M205.3 899.6L250.1 890.6L276.3 882.6L294.9 876.9L309.4 874L321.2 870.4L331.1 868.4L339.8 866.8L347.4 865.4L354.2 863.6L360.4 862.3L366 861.3L371.2 860.8L376 860.4L380.4 860.1L384.6 859.6L388.5 859.2L392.2 859.2L395.7 858.9L399 858.4L402.2 858L405.2 857.8L408.1 857.8L410.8 857.4L413.5 857.4L416 857.4L418.4 857.8L420.8 857.8L423.1 858.4L425.2 858.5L427.4 858.6L429.4 859L431.4 858.6L433.3 859.2L435.2 859.4L437 859.9L438.8 859.5L440.5 859.6L442.2 859.7L443.8 859.5L445.4 859.8L447 860L448.5 860.6L450 860.8L451.5 860.4L452.9 860.7L454.3 861.2L455.6 861.7L457 862.2L458.3 862.6L459.6 863.6L460.8 863L462 863.6L463.3 863.6L464.4 863.9L465.6 864.1L466.7 864.8L467.9 865.4L469 864.9L470.1 865.2L471.1 865.7L472.2 866.3L473.2 866.4L474.2 866.1L475.2 866.7L476.2 866.2L477.2 866.6L478.2 867.1L479.1 866.7L480 867.3L481 867.1L481.9 867.7L482.8 868.8L483.7 868.9L484.6 869.4L485.5 870.2L486.4 870.7L487.3 870.7L488.2 871L489.1 871.7L490 871.8L490 871.6V774.5" stroke="#1E6FE0"/>
<path d="M205.3 872.5L250.1 860.5L276.3 855.9L294.9 851.9L309.4 849.1L310.3 849L311.2 849L312.1 849L312.9 848.9V774.5" stroke="#1E6FE0"/>
<path d="M205.3 880.7L250.1 868.7L276.3 863.8L294.9 859.9L309.4 856.4L321.2 853.9L331.1 852.4L332 852.4L332.9 852.4L333.8 852.3L334.7 852.3L335 852.1V774.5" stroke="#1E6FE0"/>
<path d="M205.3 886.3L250.1 877.9L276.3 873.4L294.9 871.3L309.4 869.3L321.2 867.7L331.1 866.4L339.8 865.3L347.4 864.5L348.3 864.4L349.2 864.4L350.1 864.4L351 864.1L351.9 863.9L352.8 864.1L353 864.1V774.5" stroke="#1E6FE0"/>
<path d="M205.3 876L250.1 867.3L276.3 863.4L294.9 861.5L309.4 859.1L321.2 857.5L331.1 856.3L332 856.3L332.9 856.3L333.8 856.3L334.7 856.2L335.5 855.9V774.5" stroke="#1E6FE0"/>
<path d="M205.3 904.9L250.1 900.8L276.3 898.2L294.9 897L309.4 896.5L321.2 895.9L331.1 895.2L339.8 894.6L347.4 894.3L354.2 894L360.4 893.4L366 893.2L371.2 893.1L376 893L376.9 892.9L377.8 892.9L378.7 893L379.3 893.1V774.5" stroke="#1E6FE0"/>
<path d="M205.3 914.9L250.1 911.6L276.3 909.3L294.9 908.3L309.4 907.8L321.2 907.4L331.1 907L339.8 906.8L347.4 906.5L354.2 906.3L360.4 905.8L366 905.9L371.2 905.7L376 905.5L380.4 905.5L384.6 905.4L388.5 905.2L392.2 905.1L393 905V774.5" stroke="#1E6FE0"/>
<path d="M205.3 922L250.1 919.8L276.3 918.7L294.9 917.9L309.4 917.9L321.2 917.7L331.1 917.8L339.8 917.9L347.4 918L354.2 918.2L360.4 918L366 918.1L371.2 918L376 918.1L380.4 918.2L384.6 918.1L388.5 918L392.2 918L395.7 918.1L396.6 918.1L396.8 918V774.5" stroke="#1E6FE0"/>
<path d="M205.3 934L250.1 931L276.3 928.9L294.9 927.8L309.4 927.5L321.2 927.4L331.1 926.9L339.8 926.6L347.4 926L354.2 925.7L360.4 925.5L366 925.3L371.2 925.2L376 925L380.4 925.1L384.6 924.9L388.5 924.7L392.2 924.9L393.1 924.9L393.5 924.9V774.5" stroke="#1E6FE0"/>
<path d="M205.3 867.6L250.1 1042L276.3 1049.5L294.9 1046L309.4 1045.9L321.2 1046.1L331.1 1048.7L339.8 1047.9L347.4 1049.3L354.2 1050.4L360.4 1046.7L366 1051.7L371.2 1058.5L376 1050.9L380.4 1045.3L384.6 1057.5L388.5 1051.2L392.2 1055L395.7 1065.6L399 1066.5L402.2 1062.8L405.2 1068.8L408.1 1051.6L410.8 1061.8L413.5 1065.1L416 1052.5L418.4 1055.4L420.8 1050.3L423.1 1065.9L425.2 1049.5L427.4 1061.7L429.4 1049.8L431.4 1056.2L433.3 1044.5L435.2 1059.4L437 1058.1L438.8 1072.3L440.5 1059.9L442.2 1060.9L443.8 1060.1L445.4 1064.2L447 1060.8L448.5 1058.8L450 1066.2L451.5 1080.1L452.9 1066.6L454.3 1060.3L455.6 1056.4L457 1057.1L458.3 1053.5L459.6 1070L460.8 1067.9L462 1055.6L463.3 1050L464.4 1037.5L465.6 1048.3L466.7 1051.1L467.9 1058.3L469 1063L470.1 1066.3L471.1 1056.1L472.2 1052.8L473.2 1049.4L474.2 1053.7L475.2 1062.7L476.2 1056.2L477.2 1055.3L478.2 1053.8L479.1 1060.1L480 1044.9L481 1055.6L481.9 1074.4L482.8 1127.5L483.7 1055L484.6 1052L485.5 1072.3L486.4 1065.7L487.3 1050.5L488.2 1053.1L489.1 1060L490 1061.8L490.9 1064.5L491.8 1080.8L492.7 1047.8L493.6 1050.2L494.5 1044.7L495.4 1066.7L496.3 1051.6L497.2 1049.1L498.1 1059L499 1074.4L499.9 1078.4L500.8 1072.3L501.7 1072.1L502.6 1066.9L503.5 1057.4L504.4 1071.6L505.3 1070.3L506.2 1059.4L507.1 1087.4L508 1057.7L508.9 1052.4L509.8 1058.4L510.7 1060.3L511.6 1051.6L512.5 1059.9L513.4 1064.2L514.3 1050.7L515.2 1060L516.1 1056.4L517 1066L517.9 1067.8L518.8 1053.2L519.7 1056.3L520.6 1053.9L521.5 1063.1L522.4 1061L523.3 1074.8L524.2 1060.5L525.1 1062.1L526 1057.6L526.9 1056.9L527.8 1067.2L528.7 1054.8L529.6 1052.1L530.5 1058.6L531.4 1069L532.3 1059.6L533.2 1062.3L534.1 1045.7L535 1056.3L535.9 1051.6L536.8 1061.3L537.7 1066.2L538.6 1053.3L539.5 1049.2L540.4 1073.6L541.3 1070L542.2 1065L543.1 1051.5L544 1065L544.9 1084.9L545.8 1054.7L546.7 1058.5L547.6 1058.5L548.5 1047.1L549.4 1058.3L550.3 1075.7L551.2 1071L552.1 1062.2L553 1056.4L553.9 1056L554.8 1056.2L555.7 1050.4L556.6 1062L557.5 1067.6L558.4 1065.8L559.3 1055.8L560.2 1066.9L561.1 1063.3L562 1070.5L562.9 1065.6L563.8 1070.6L564.7 1074.8L565.6 1066.3L566.5 1075L567.4 1075L568.3 1080.1L569.2 1086.5L570.1 1076.7L571 1081.5L571.9 1056.4L572.8 1055.9L573.7 1071.1L574.6 1063.5L575.5 1062.2L576.4 1064.8L577.3 1065L578.2 1071.9L579.1 1091.6L580 1072.5L580.9 1057.1L581.8 1063.3L582.7 1064.1L583.6 1071.6L584.5 1076.9L585.4 1076.8L586.3 1071.5L587.2 1069.6L588.1 1073.3L589 1055.4L589.9 1069.8L590.8 1087.2L591.7 1046.6L592.6 1055.5L593.5 1043.9L594.4 1055.5L595.3 1064.9L596.2 1050.9L597.1 1057.9L598 1062.2L598.9 1068.9L599.8 1084.5L600.7 1066.8L601.6 1068.3L602.5 1068.9L603.4 1085L604.3 1079.1L605.2 1064.9L605.5 1075.3V774.5" stroke="#1E6FE0"/>
<path d="M205.3 965.9L250.1 978.1L276.3 975.7L294.9 992.2L309.4 982.4L321.2 983.5L331.1 987.8L339.8 987.3L347.4 986.8L354.2 978L360.4 974.5L366 978L371.2 979L376 981.2L380.4 983L384.6 980.1L388.5 981.2L392.2 982.2L395.7 980.2L399 980.8L402.2 977.1L405.2 978.7L408.1 982.5L410.8 979.3L413.5 992.1L416 989.6L418.4 984L420.8 980.2L423.1 973.8L425.2 980.7L427.4 981.6L429.4 984.6L431.4 978.1L433.3 983.8L435.2 1031.4L437 988.5L438.8 1017.4L440.5 989.9L442.2 981.6L443.8 984.9L445.4 984L447 988L448.5 994.8L450 998.7L451.5 994.5L452.9 995.9L454.3 998.3L455.6 1004.2L457 1003.9L458.3 1002.6L459.6 1000.4L460.8 1003.8L462 992.9L463.3 997.4L464.4 1007.3L465.6 998.7L466.7 987.7L467.9 1006.2L469 990.9L470.1 997.2L471.1 1001.1L472.2 1012.3L473.2 1006.1L474.2 990.6L475.2 999.9L476.2 997.6L477.2 995.3L478.2 994.7L479.1 995.6L480 1010.7L481 1003L481.9 998.9L482.8 1001L483.7 1004.9L484.6 1026.5L485.5 1018.2L486.4 1008.6L487.3 1000.5L488.2 996.4L489.1 993.6L490 1006.5L490.9 1009.9L491.8 1012L492.7 1005.4L493.6 1008L494.5 1000.9L495.4 1007.3L496.3 1037.1L497.2 999.3L498.1 1003.8L499 1002.9L499.9 1009.1L500.8 1012.4L501.7 1021.3L502.6 1007.2L503.5 1013L504.4 1011L505.3 1018.3L506.2 1005.1L507.1 1012.2L508 1001.2L508.9 992.4L509.8 1010.9L510.7 1003.6L511.6 1011.9L512.5 1019.2L513.4 1009.9L514.3 1005.5L515.2 1005.8L516.1 1024.9L517 1052.2L517.9 1009.7L518.8 1003.3L519.7 1004.9L520.6 1010L521.5 1014.3L522.4 1008.4L523.3 1027.3L524.2 1018.7L525.1 1017.4L526 1010.5L526.9 1018.8L527.8 1004.3L528.7 994.9L529.6 1005.6L530.5 1010.5L531.4 1004.7L532.3 1004.9L533.2 1007.2L534.1 1004.1L535 1011.2L535.9 1005.1L536.8 999.8L537.7 994L538.6 987.7L539.5 994.2L540.4 992L541.3 996.8L542.2 985L543.1 988.2L544 983.1L544.9 999.3L545.8 985.4L546.7 992.6L547.6 997L548.5 1001.3L549.4 993.9L550.3 998.6L551.2 988L552.1 989.5L553 990.5L553.9 1004L554.8 1002.1L555.7 991.3L556.6 990.7L557 986.8V774.5" stroke="#1E6FE0"/>
<path d="M205.3 999.4L250.1 999.7L276.3 999.6L294.9 1001.5L309.4 1003.6L321.2 1003.7L331.1 1004.1L339.8 1005.5L347.4 1006.9L354.2 1010.1L360.4 1010.8L366 1012L371.2 1014.1L376 1013.6L380.4 1013.2L384.6 1016.7L388.5 1013.6L392.2 1013.5L395.7 1012L399 1014.7L402.2 1017.5L405.2 1019.6L408.1 1016.3L410.8 1019.2L413.5 1016.8L416 1018.8L418.4 1017.9L420.8 1020L423.1 1023.4L425.2 1021.8L427.4 1023.4L429.4 1023.5L431.4 1024.9L433.3 1025.2L435.2 1030L437 1026.2L438.8 1027.9L440.5 1033L442.2 1029.8L443.8 1031.4L445.4 1031.1L447 1028.9L448.5 1030.7L450 1032.2L451.5 1030.4L452.9 1030L454.3 1030.9L455.6 1024.9L457 1028.8L458.3 1030.5L459.6 1025.7L460.8 1026.9L462 1033L463.3 1038.6L464.4 1030.4L465.6 1023.5L466.7 1026.4L467.9 1030.2L469 1027.9L470.1 1027.2L471.1 1027.5L472.2 1032.1L473.2 1029.6L474.2 1070.6L475.2 1025.7L476.2 1037.9L477.2 1039.9L478.2 1040.9L479.1 1032.9L480 1044L481 1038.2L481.9 1037.5L482.8 1040.3L483.7 1042L484.6 1040.9L485.5 1037L486.4 1039.4L487.3 1035.4L488.2 1041.5L489.1 1041.6L490 1034.3L490.9 1035.6L491.8 1057.2L492.7 1044L493.6 1038.5L494.5 1035.1L495.4 1037.7L496.3 1040L497.2 1043.1L498.1 1043.8L499 1042.6L499.9 1035L500.8 1029.5L501.7 1045.8L502.6 1040.9L503.5 1046.4L504.4 1037.4L505.3 1044.4L506.2 1043.7L507.1 1041.9L508 1047.1L508.9 1044L509.8 1044.5L510.7 1047L511.6 1053.2L512.5 1047.6L513.4 1042.5L514.3 1067.2L515.2 1048.9L516.1 1052.7L517 1050.6L517.9 1050.6L518.8 1039.6L519.7 1042.6L520.6 1052.9L521.5 1050.5L522.4 1047.2L523.3 1041L524.2 1045.8L525.1 1046.2L526 1035.2L526.9 1040.3L527.8 1049.6L528.7 1036.6L529.6 1039.8L530.5 1052.5L531.4 1045.2L532.3 1045L533.2 1043.7L534.1 1037.8L535 1044.8L535.9 1057.9L536.8 1049.8L537.7 1043.7L538.6 1056.9L539.5 1043L540.4 1041.4L541.3 1048.4L542.2 1046.3L543.1 1043.4L544 1033.1L544.9 1039.1L545.8 1048.4L546.7 1036.6L547.6 1037.6L548.5 1052.3L549.4 1052L550.3 1060.2L551.2 1042.8L552.1 1042.8L553 1048.7L553.9 1039.1L554.8 1049.6L555.7 1058.4L556.6 1057.6L557.5 1057.4L558.4 1043.6L559.3 1062.9L560.2 1045.9L561.1 1048.1L562 1039.7L562.9 1040L563.8 1044.4L564.7 1038.9L565.6 1049.9L566.5 1042.5L567.4 1045.2L568.3 1077.6L569.2 1059.6L570.1 1046.4L571 1038.8L571.9 1059.4L572.8 1052.1L573.7 1056L574.6 1037.5L575.5 1048.7L576.4 1053L577.3 1043.7L578.2 1058.8L579.1 1045.8L580 1050.8L580.9 1048.7L581.8 1041.2L582.7 1048.4L583.6 1031.6L584.5 1045.7L585.4 1047.3L586.3 1062.2L587.2 1081.1L588.1 1041.5L589 1050.1L589.9 1058.2L590.7 1052.5V774.5" stroke="#1E6FE0"/>
<path d="M205.3 1020.8L250.1 1012.9L276.3 1012.7L294.9 1005.7L309.4 1006.2L321.2 1016L331.1 1014.6L339.8 1015L347.4 1025.1L354.2 1018L360.4 1015.5L366 1011.6L371.2 1051L376 1019.4L380.4 1030.1L384.6 1029.2L388.5 1024.6L392.2 1021.1L395.7 1013.2L399 1033.8L402.2 1019.1L405.2 1025.6L408.1 1023L410.8 1009.6L413.5 1017.9L416 1016.4L418.4 1023.2L420.8 1019.8L423.1 1030.7L425.2 1025.1L427.4 1025L429.4 1021.2L431.4 1026.2L433.3 1038.2L435.2 1026.6L437 1024.1L438.8 1029.4L440.5 1018.4L442.2 1024.5L443.8 1029.3L445.4 1025.3L447 1024.5L448.5 1063.9L450 1025.4L451.5 1036.3L452.9 1027L454.3 1025.1L455.6 1045.2L457 1024.6L458.3 1034.7L459.6 1023.8L460.8 1039.3L462 1029.4L463.3 1038.4L464.4 1026.6L465.6 1044.5L466.7 1034.2L467.9 1036.4L469 1030.6L470.1 1035.5L471.1 1020.9L472.2 1027.1L473.2 1022.5L474.2 1026.7L475.2 1030.1L476.2 1021.2L477.2 1028.2L478.2 1030.6L479.1 1037.2L480 1035.1L481 1049L481.9 1030.7L482.8 1037.3L483.7 1022.3L484.6 1020.9L485.5 1033.6L486.4 1036.8L487.3 1037L488.2 1031.8L489.1 1024.6L490 1028.4L490.9 1042.1L491.8 1034.2L492.7 1032.6L493.6 1029.9L494.5 1049.4L495.4 1041.1L496.3 1038L497.2 1034.5L498.1 1037.4L499 1033.5L499.9 1032.9L500.8 1049.6L501.7 1022.4L502.6 1029.8L503.5 1028.2L504.4 1018.6L505.3 1027.7L506.2 1038.1L507.1 1026.9L508 1070.4L508.9 1031.9L509.8 1036.8L510.7 1036.5L511.6 1033.6L512.5 1034.2L513.4 1034.4L514.3 1032.4L515.2 1020.2L516.1 1032L517 1063.3L517.9 1045L518.8 1050.2L519.7 1041L520.6 1046.2L521.5 1030.2L522.4 1038.5L523.3 1022L524.2 1029.7L525.1 1019.1L526 1027.1L526.9 1025L527.8 1031.6L528.7 1022.4L529.6 1053.3L530.5 1038.1L531.4 1040.6L532.3 1042.1L533.2 1034.3L534.1 1036.8L535 1029.8L535.9 1088.7L536.8 1025.5L537.7 1036.8L538.6 1026.6L539.5 1030.9L540.4 1037.7L541.3 1033.9L542.2 1051.2L543.1 1041.4L544 1046.7L544.9 1034.3L545.8 1030.7L546.7 1034.6L547.6 1037.9L548.5 1036.1L549.4 1036.1L550.3 1045.4L551.2 1039.8L552.1 1030.4L553 1030.4L553.9 1038.2L554.8 1039.5L555.7 1039.7L556.6 1033.5L557.5 1042.7L558.4 1048.4L559.3 1037.7L560.2 1027.4L561.1 1038.3L562 1031.1L562.9 1069.6L563.8 1042.8L564.7 1047.6L565.6 1044.5L566.5 1031.9L567.4 1035.4L568.3 1040L569.2 1036.9L570.1 1028.4L571 1049.6L571.9 1025.8L572.8 1032.4L573.7 1031.7L574.6 1029.1L575.5 1032.3L576.4 1039.6L577.3 1053.8L578.2 1050L579.1 1018.9L580 1034.8L580.9 1028.3L581.8 1034.7L582.7 1035.7L583.6 1046L584.5 1057L585.4 1029.4L586.3 1061.2L587.2 1038.2L588.1 1031.3L589 1030.8L589.9 1038.5L590.8 1018.7L591.7 1034.9L592.6 1046.4L593.5 1031.9L594.4 1026.8L595.3 1027.9L596.2 1032L597.1 1025.9L598 1051.9L598.9 1036.9L599.8 1032.4L600.7 1031.9L601.6 1034.9L602.5 1037.8L603.4 1044.4L604.3 1044.2L605.2 1029L606.1 1017.3L607 1035.3L607.9 1028.3L608.8 1078.4L609.7 1037.1L610.6 1029.1L611.5 1033.6L612.4 1032.8L613.3 1028.5L614.2 1051.3L615.1 1016.6L616 1037.5L616.9 1037.7L617.8 1044L618.7 1044.5L619.6 1036.1L620.5 1044.9L621.4 1067.4L622.3 1043.8L623.2 1033.1L624.1 1020.2L625 1026.6L625.9 1027.8L626.8 1031.8L627.7 1033.2L628.6 1049.7L629.5 1051.6L629.8 1044.6V774.5" stroke="#1E6FE0"/>
<path d="M205.3 940.4L250.1 941.7L276.3 942.7L294.9 943.1L309.4 944L321.2 947.2L331.1 949.5L339.8 953.1L347.4 956.1L354.2 972.1L360.4 957.6L366 957.9L371.2 958.3L376 961.1L380.4 959.6L384.6 961.5L388.5 961.3L392.2 962.6L395.7 962.1L399 964.7L402.2 966.4L405.2 966.3L408.1 969.3L410.8 966.8L413.5 966.9L416 965L418.4 966.7L420.8 975.2L423.1 966.3L425.2 972.8L427.4 976.1L429.4 973.1L431.4 976.9L433.3 974.3L435.2 973.8L437 972.5L438.8 974.1L440.5 971.6L442.2 975L443.8 983.1L445.4 974.6L447 963.8L448.5 973.3L450 978L451.5 973.2L452.9 974.9L454.3 979.6L455.6 985.3L457 983.1L458.3 972.3L459.6 981L460.8 989.2L462 988.8L463.3 981L464.4 983.6L465.6 986.2L466.7 983.9L467.9 986.6L469 980.2L470.1 973.5L471.1 972.7L472.2 980.9L473.2 976.8L474.2 973L475.2 979.3L476.2 982.6L477.2 1003.6L478.2 990.6L479.1 991.1L480 978.5L481 980.6L481.9 983.3L482.8 981.7L483.7 983.9L484.6 985.4L485.5 987.2L486.4 1022.7L487.3 997.7L488.2 983.5L489.1 986L490 992.8L490.9 984.1L491.8 985.5L492.7 981.4L493.6 986.2L494.5 986.9L495.4 987.9L496.3 983.8L497.2 992L498.1 989.7L499 993.2L499.9 991.9L500.8 998.6L501.7 992.3L502.6 989.5L503.5 993.4L504.4 986L505.3 999.4L506.2 988.9L507.1 982.6L508 1008.8L508.9 977.7L509.8 988.3L510.7 990.9L511.6 992L512.5 993.5L513.4 983.5L514.3 992.7L515.2 986.5L516.1 983.2L517 989.3L517.9 981L518.8 989L519.7 982L520.6 976.3L521.5 983.8L522.4 986.5L523.3 1010.9L524.2 976.2L525.1 971.3L526 983L526.9 986.8L527.8 989.3L528.7 990L529.6 979L530.5 981L531.4 971.8L532.3 980.4L533.2 985.4L534.1 987.8L535 979L535.9 978.5L536.8 982.2L537.7 980.3L538.6 987.5L539.5 985.7L540.4 980.2L541.3 989L542.2 986.5L543.1 988.2L544 982.8L544.9 979.3L545.8 991.4L546.7 996.7L547.6 997L548.5 1013.3L549.4 992.7L550.3 983.5L551.2 974.4L552.1 991L553 987.8L553.9 988.6L554.8 1017.7L555.7 986.4L556.6 966.2L557.5 976.2L558.4 991L559.3 988.4L560.2 999.2L561.1 979.4L562 983.3L562.9 986.4L563.8 994.5L564.7 994.4L565.6 993.1L566.5 991.4L567.4 1000L568.3 989.5L569.2 984.7L570.1 985.1L571 986.3L571.9 989.5L572.8 994.9L573.7 996.6L574.6 992.5L575.5 993.4L576.4 990.4L577.3 994.1L578.2 998.3L579.1 1002.2L580 984.3L580.9 982.4L581.8 986.5L582.7 999.2L583.6 1003.2L584.5 993.1L585.4 987.7L586.3 994L587.2 983.7L588.1 978.4L589 987.7L589.9 984L590.8 976.3L591.7 977L592.6 971.6L593.5 979.8L594.4 993.6L595.3 985.3L596.2 979.8L597.1 993.8L598 1013.1L598.9 1006.9L599.8 981.3L600.7 990.8L601.6 983.8L602.5 978.4L603.4 972.3L604.3 981.9L605.2 975.5L606.1 979.2L607 982.5L607.9 987.1L608.8 995.7L609.7 986.3L610.6 980.1L611.5 995.4L612.4 989.2L613.3 993.6L614.2 988.6L615.1 979.7L616 996.6L616.9 996.7L617.8 996.9L618.7 995.9L619.6 990.4L620.5 988L621.4 992.9L622.3 990.9L623.2 984.1L624.1 985.7L625 999.8L625.9 985L626.8 982.9L627.7 983.6L628.6 1014.1L629.5 1005.4L630.4 988.8L631.3 987.1L632.2 990.8L633.1 1002.2L634 994L634.9 993.9L635.8 985.6L636.7 982.6L637.6 991.8L638.5 990.8L639.4 989.2L640.3 1015.1L641.2 998L642.1 1033.5L643 987.6L643.9 998.2L644.8 990L645.7 984L646.6 989.8L647.5 979.3L648.4 970.8L649.3 989.5L650.2 993.7L651.1 981.5L652 991L652.9 981.8L653.8 1027.6L654.7 994.3L655.6 987.2L656.5 991.5L657.4 994.3L658.3 986.4L659.2 987.3L660.1 989.5L661 978.5L661.9 984.7L662.8 996.8L663.7 990.6L664.6 1010L665.5 979.3L666.4 1000.2L667.3 994.6L668.2 999.9L668.8 977.7V774.5" stroke="#1E6FE0"/>
<path d="M205.3 930.7L250.1 932.9L276.3 933.4L294.9 934.4L309.4 935.8L321.2 937.2L331.1 941.4L339.8 944.4L347.4 946.1L354.2 948.9L360.4 949.5L366 950L371.2 951.4L376 952L380.4 955.7L384.6 955L388.5 956.6L392.2 956.1L395.7 957.8L399 963.9L402.2 958.5L405.2 958.8L408.1 956.4L410.8 958.8L413.5 958.1L416 962.2L418.4 961.4L420.8 963.2L423.1 962.6L425.2 965.6L427.4 966.6L429.4 963.4L431.4 962.1L433.3 960.8L435.2 963.6L437 965.9L438.8 968.3L440.5 967.9L442.2 967.2L443.8 973.5L445.4 962.8L447 963L448.5 968.1L450 968.8L451.5 970.2L452.9 972.9L454.3 970.5L455.6 968.9L457 969.8L458.3 981.2L459.6 968L460.8 982.2L462 967L463.3 973.8L464.4 978.3L465.6 989.2L466.7 980.3L467.9 976.4L469 972.1L470.1 974.9L471.1 975.1L472.2 969.6L473.2 977.3L474.2 980L475.2 978.9L476.2 982L477.2 981.4L478.2 982.1L479.1 974.9L480 1021.9L481 973L481.9 968.6L482.8 981.3L483.7 987.6L484.6 1040.2L485.5 976.6L486.4 967.7L487.3 969.5L488.2 981.1L489.1 985L490 992.1L490.9 973.8L491.8 979.9L492.7 985.5L493.6 972.3L494.5 985.7L495.4 980.9L496.3 983.8L497.2 975.7L498.1 977.6L499 976.2L499.9 978.4L500.8 985.8L501.7 1042.6L502.6 984.1L503.5 979L504.4 978L505.3 967.9L506.2 973.6L507.1 990.3L508 986L508.9 971.3L509.8 972.7L510.7 971.3L511.6 973L512.5 980.8L513.4 974.1L514.3 986.5L515.2 981.7L516.1 978.9L517 974.6L517.9 984.8L518.8 978.8L519.7 987.9L520.6 981.9L521.5 986.1L522.4 967.1L523.3 974.2L524.2 979.6L525.1 983.4L526 992.9L526.9 987.1L527.8 988.1L528.7 995.2L529.6 988.6L530.5 991.4L531.4 987.2L532.3 977.8L533.2 998.3L534.1 984.1L535 991.7L535.9 992.3L536.8 984.9L537.7 993.5L538.6 985.1L539.5 992.1L540.4 980.1L541.3 979.2L542.2 975.7L543.1 976.4L544 983.9L544.9 986.3L545.8 977.3L546.7 986.1L547.6 989.3L548.5 1003.2L549.4 987.4L550.3 982.9L551.2 976.9L552.1 978L553 980L553.9 967.5L554.8 969.7L555.7 972.6L556.6 987.1L557.5 977.1L558.4 986.7L559.3 994.8L560.2 994.9L561.1 983.9L562 988.1L562.9 983.7L563.8 976.1L564.7 988L565.6 985.7L566.5 975.6L567.4 978.2L568.3 972.4L569.2 962.9L570.1 988.8L571 974L571.9 963.8L572.8 972.4L573.7 972L574.6 1009.4L575.5 974.9L576.4 975L577.3 964.6L578.2 975.8L579.1 983L580 972.8L580.9 972.8L581.8 977.6L582.7 995.9L583.6 972.1L584.5 972.5L585.4 976.7L586.3 994.5L587.2 973.3L588.1 979.5L589 993.2L589.9 981.8L590.8 977L591.7 984.4L592.6 989.3L593.5 985.3L594.4 984.5L595.3 1009.7L596.2 989.7L597.1 993.5L598 978.3L598.9 974.1L599.8 978.1L600.7 987.2L601.6 980.5L602.5 983L603.4 981.8L604.3 989.3L605.2 979L606.1 983.4L607 993.9L607.9 981.3L608.8 967.8L609.7 976.3L610.6 991.1L611.5 977L612.4 973.1L613.3 988.6L614.2 992.9L615.1 977.3L616 992.6L616.9 990L617.8 991.4L618.7 981.3L619.6 980.2L620.5 975.3L621.4 994.6L622.3 996.3L623.2 987.8L624.1 988.2L625 992L625.9 991.8L626.8 980.9L627.7 993L628.6 990.6L629.5 984.9L630.4 992.9L631.3 988.5L632.2 997.1L633.1 977.4L634 981.5L634.9 989.5L635.8 991.3L636.7 992.7L637.6 993.7L638.5 998.9L639.4 995.8L640.3 996.3L641.2 989.8L642.1 999.1L643 989.7L643.9 997.7L644.8 997.3L645.7 1004.6L646.6 988.1L647.5 982.1L648.4 968.5L649.3 979.4L650.2 975.3L651.1 984.2L652 983L652.9 989.4L653.8 1000.5L654.7 995.8L655.6 986.8L656.5 981.4L657.4 984.1L658.3 974L659.2 991.4L660.1 998.8L661 998.8L661.9 1000.7L662.8 987.3L663.7 1014.5L664.6 999.6L665.5 994.3L666.4 1011.6L667.3 1009L668.2 1002.2L669.1 999.3L670 990.4L670.9 995.6L671.8 991.2L672.7 998.6L673.6 997L674.5 989.9L675.4 995.1L676.3 1014.8L677.2 991.2L678.1 992.2L678.3 988.2V774.5" stroke="#1E6FE0"/>
<path d="M205.3 913L250.1 919L276.3 926L294.9 931.6L309.4 928.7L321.2 931.8L331.1 934.3L339.8 934.7L347.4 939L354.2 944.5L360.4 943.1L366 945.1L371.2 946.8L376 947.8L380.4 947.2L384.6 946.5L388.5 948.9L392.2 945.8L395.7 948.3L399 947.1L402.2 949.8L405.2 951.3L408.1 953.5L410.8 952.2L413.5 953.3L416 955L418.4 956.9L420.8 953.8L423.1 957.2L425.2 957.2L427.4 955.6L429.4 959L431.4 956.1L433.3 955.7L435.2 955.1L437 959.6L438.8 957.5L440.5 958.3L442.2 957.5L443.8 958.2L445.4 956L447 957.2L448.5 958.9L450 958.5L451.5 957.6L452.9 956.9L454.3 959L455.6 962L457 958.6L458.3 960.2L459.6 962.5L460.8 960L462 955.3L463.3 958.3L464.4 956.8L465.6 958.9L466.7 961.2L467.9 960.3L469 960.5L470.1 962.7L471.1 962.5L472.2 962.4L473.2 963.2L474.2 965.7L475.2 970.2L476.2 962.1L477.2 959.9L478.2 958.7L479.1 963L480 962.6L481 964.3L481.9 960.9L482.8 955L483.7 959.9L484.6 963.9L485.5 962.4L486.4 961.7L487.3 964.3L488.2 960.6L489.1 958.5L490 967.8L490.9 960.7L491.8 963.3L492.7 965.9L493.6 973.5L494.5 957.3L495.4 966.9L495.8 974.2V774.5" stroke="#FFC215"/>
<path d="M205.3 983.6L250.1 976.9L276.3 978.6L294.9 977.8L309.4 983.4L321.2 978.4L331.1 979L339.8 984.2L347.4 980.4L354.2 979.8L360.4 975.6L366 974.1L371.2 980.5L376 980.7L380.4 982.6L384.6 984.6L388.5 980.4L392.2 972.1L395.7 979.1L399 978.2L402.2 981.4L405.2 983.2L408.1 975.7L410.8 980.7L413.5 981.5L416 983.5L418.4 980.3L420.8 986.7L423.1 982.8L425.2 982.4L427.4 985.7L429.4 978.7L431.4 980.9L433.3 982.6L435.2 978.8L437 980.9L438.8 983.2L440.5 985.3L442.2 984.5L443.8 976.2L445.4 978.8L447 981.2L448.5 986.6L450 976.9L451.5 983.5L452.9 981.3L454.3 983.3L455.6 980.7L457 977.4L458.3 980.8L459.6 977.7L460.8 989.4L462 986.9L463.3 987.9L464.4 982.4L465.6 975.3L466.7 981.2L467.9 979.8L469 994.9L470.1 995L471.1 986.8L472.2 989.8L473.2 993.1L474.2 984.3L475.2 985.4L476.2 987.3L477.2 984L478.2 979.9L479.1 982L480 984.1L481 989.6L481.9 981.9L482.8 974.4L483.7 979.6L484.6 970.4L485.5 963.3L486.4 980.9L487.3 984.5L488.2 978L489.1 985.7L490 977.2L490.9 969.9L491.8 983.7L492.7 982.6L493.6 987.8L494.5 978L495.4 975.3L496.3 988.4L497.2 971.6L498.1 962.2L499 973.9L499.9 980.2L500.8 970.2L501.7 979.2L502.6 970L503.5 967.3L504.4 965.4L505.3 984.8L506.2 976.6L507.1 978L508 974.9L508.9 984.6L509.8 988.5L510.7 975.2L511.6 977.1L512.5 1013.3L513.4 978.3L514.3 977.7L515.2 973.2L516.1 978.9L517 975.7L517.9 962.8L518.8 962.1L519.7 966.4L520.6 977.2L521.5 970.3L522.4 984L523.3 987.8L524.2 964.5L525.1 955.8L526 982.2L526.9 961.7L527.8 983.4L528.7 1004.5L529.6 975L530.5 943.3L531.4 951.8L532.3 962.7L533.2 958.3L534.1 960.7L535 977.5L535.9 967.9L536.8 975.4L537.7 983.7L538.6 962.5L539.5 964.8L540.4 958.3L541.3 977.9L542.2 960.5L543.1 985.6L543.3 990.1V774.5" stroke="#FFC215"/>
<path d="M205.3 964.4L250.1 966.9L276.3 967.7L294.9 969.1L309.4 968.8L321.2 967.6L331.1 965.5L339.8 966.6L347.4 964.2L354.2 964L360.4 962.2L366 959.1L371.2 961.7L376 960.7L380.4 962.5L384.6 962.9L388.5 960.8L392.2 960.4L395.7 959.7L399 959.4L402.2 958.4L405.2 960.5L408.1 961.3L410.8 960.7L413.5 960.5L416 962.9L418.4 961.7L420.8 963.9L423.1 965.3L425.2 966.2L427.4 967.1L429.4 964.9L431.4 967.6L433.3 964L435.2 964.3L437 964.3L438.8 964.9L440.5 966L442.2 965.3L443.8 964.3L445.4 964L447 967.2L448.5 961.6L450 962.8L451.5 964.6L452.9 963.7L454.3 965.5L455.6 971L457 963L458.3 966.5L459.6 964.6L460.8 965.1L462 966.2L463.3 964.2L464.4 964L465.6 960.3L466.7 964.9L467.9 965.1L469 967.9L470.1 960.7L471.1 978.6L472.2 962.3L473.2 960.9L474.2 965.3L475.2 963L476.2 972.4L477.2 962.8L478.2 967.5L479.1 972.3L480 959.3L481 969.8L481.9 974L482.8 961.6L483.7 966.6L484.6 968L485.5 973.2L486.4 972.9L487.3 972.5L488.2 988.5L489.1 967.3L490 971.9L490.9 970.3L491.8 983L492.7 973.6L493.6 973.9L494.5 962L495.4 966.2L496.3 975.9L497.2 972.4L498.1 965.7L499 967L499.9 957.2L500.8 974.1L501.7 978.3L502.6 964.3L503.5 965.7L504.4 968.1L505.3 964.9L506.2 975.9L507.1 963L508 968.7L508.9 958.2L509.8 977.3L510.7 975.7L511.6 968.4L512.5 1003L513.4 964.3L514.3 959.1L515.2 957.2L516.1 980.5L517 971.9L517.9 967.2L518.8 972.5L519.7 981.9L520.6 965.3L521.5 958.7L522.4 974L523.3 961.4L524.2 951.1L525.1 967.7L526 971.8L526.9 967.5L527.8 956.1L528.7 976.9L529.6 954.2L530.5 966.5L531.4 955.8L532.3 967.6L533.2 968.1L534.1 989.3L535 978.1L535.9 975.9L536.8 976.4L537.7 982L538.6 987L539.5 972.2L540.4 957.7L541.3 962L542.2 949.5L543.1 948.1L544 950.9L544.9 966.2L545.8 970.3L546.7 981.1L547.6 971.3L548.5 961.8L549.4 977.3L550.3 959.6L551.2 950.1L552.1 946.9L552.8 951.5V774.5" stroke="#FFC215"/>
<path d="M205.3 965.5L250.1 966.7L276.3 970.4L294.9 972.1L309.4 975L321.2 977.2L331.1 976L339.8 978.2L347.4 977.3L354.2 977.8L360.4 979.2L366 976.9L371.2 977.3L376 978.3L380.4 978.3L384.6 978.7L388.5 980.7L392.2 979.3L395.7 978.2L399 980.6L402.2 980.4L405.2 981.5L408.1 978.6L410.8 976.7L413.5 979.4L416 980.8L418.4 980.7L420.8 981.2L423.1 979.7L425.2 979.1L427.4 982.6L429.4 981.7L431.4 981.5L433.3 982.1L435.2 981.6L437 985.1L438.8 981.8L440.5 982.7L442.2 983.3L443.8 980L445.4 976L447 978.6L448.5 980.5L450 1020.1L451.5 984.6L452.9 985.7L454.3 986.3L455.6 984.3L457 983.7L458.3 979.9L459.6 981.5L460.8 983.8L462 987L463.3 990.8L464.4 983L465.6 983.9L466.7 988.9L467.9 986.4L469 983.1L470.1 988L471.1 985.2L472.2 989.7L473.2 988L474.2 984.1L475.2 983.9L476.2 986L477.2 982.5L478.2 979.1L479.1 980.3L480 986.6L481 984L481.9 982.7L482.8 979.9L483.7 987.5L484.6 986.9L485.5 981.3L486.4 978.6L487.3 980.2L488.2 980L489.1 986.5L490 979.7L490.9 978L491.8 976.3L492.7 982.1L493.6 988.5L494.5 976.8L495.4 978.8L496.3 982.3L497.2 985.6L498.1 981.8L499 983.1L499.9 981.8L500.8 986.4L501.7 987L502.6 988.3L503.5 978.7L504.4 992.6L505.3 979.2L506.2 976L507.1 979L508 986.5L508.9 973.2L509.8 979L510.7 988.7L511.6 983.3L512.5 992.5L513.4 987.4L514.3 968.2L515.2 974.9L516.1 986.5L517 973.3L517.9 976.9L518.8 973.2L519.7 965.8L520.6 982L521.5 959.9L522.4 977.8L523.3 965.8L524.2 981.4L525.1 999.1L526 993.5L526.9 981.4L527.8 983.4L528.7 981.5L529.6 966.4L530.5 965.1L531.4 965L532.3 997L533.2 991.9L534.1 992.6L535 1005.6L535.9 984.7L536.8 969.3L537.7 967L538.6 993.1L539.5 985.8L540.4 1007.7L541.3 983.3L542.2 1020.2L543.1 980.2L544 1005L544.9 996.7L545.8 983.7L546.7 999.5L547.6 1006.7L548.5 996L549.4 1008.5L550.3 992.1L551.2 971.9L552.1 1005.1L553 992.8L553.9 998.6L554.8 969.7L555.7 989.4L556.6 981.5L557.5 1007.1L558.4 1008.8L559.3 1005L560.2 1014.1L561.1 991.9L562 980.6L562.9 972.4L563.8 1005.5L564.7 992.3L565.6 1012.3L566.5 1007.2L567.4 1002.4L568.3 976.6L568.6 980.9V774.5" stroke="#FFC215"/>
<path d="M205.3 906.4L250.1 916.3L276.3 922L294.9 928L309.4 927.3L321.2 929.6L331.1 932.5L339.8 933.2L347.4 935.8L354.2 938.9L360.4 939.1L366 939L371.2 942.1L376 944.4L380.4 945.5L384.6 948.5L388.5 946.1L392.2 947.8L395.7 946L399 946.6L402.2 946.6L405.2 946.5L408.1 945.7L410.8 944.1L413.5 946.7L416 946.2L418.4 948.2L420.8 948.7L423.1 951.4L425.2 951L427.4 950.2L429.4 951.1L431.4 952.1L433.3 955.4L435.2 955.5L437 956.3L438.8 956L440.5 953L442.2 959.5L443.8 961.2L445.4 959.9L447 960.8L448.5 959.6L450 959.9L451.5 960.4L452.9 957.9L454.3 962.3L455.6 960.4L457 959.5L458.3 961.4L459.6 964L460.8 965.3L462 966.4L463.3 971.3L464.4 968.1L465.6 968.6L466.7 995.9L467.9 964.5L469 966.6L470.1 960.6L471.1 964.1L472.2 973.2L473.2 967.4L474.2 970.8L475.2 973.3L476.2 969L477.2 977.2L478.2 976.6L479.1 966.1L480 966.3L481 969.1L481.9 971.5L482.8 974L483.7 978.4L484.6 971.2L485.5 977.4L486.4 975L487.3 977.1L488.2 973.4L489.1 977.3L490 990.2L490.9 979.8L491.8 971.8L492.7 970.1L493.6 974.5L494.5 984.8L495.4 976.3L496.3 974.8L497.2 972.5L498.1 975.2L499 975.1L499.9 978.7L500.8 980.2L501.7 986L502.6 969.6L503.5 971.2L504.4 972.3L505.3 971.8L506.2 973L507.1 969.3L508 975L508.9 966.7L509.8 967.7L510.7 1007.6L511.6 975.9L512.5 979.1L513.4 969.3L514.3 966.8L515.2 966.5L516.1 965.3L517 963.7L517.9 983L518.8 977.6L519.7 971.4L520.6 974.6L521.5 969.5L522.4 964.4L523.3 965.7L524.2 955.2L525.1 960.5L526 974.1L526.9 962.4L527.8 965.4L528.7 968.3L529.6 972.8L530.5 965L531.4 972.3L532.3 962.4L533.2 972.3L534.1 978.4L535 967.9L535.9 991.8L536.8 956.8L537.7 989.8L538.6 931.7L539.5 939.8L540.4 957.2L541.3 967.5L542.2 1021.2L543.1 982.9L544 963.8L544.9 952L545.8 944L546.7 966.1L547.6 963.9L548.5 954.3L549.4 981L550.3 981.7L551.2 980.6L552.1 967.2L553 985.2L553.9 960.1L554.8 962.9L555.7 947.4L556.6 968.8L557.5 973.1L558.4 964L559.3 952.4L560.2 969.2L561.1 949.3L562 940.6L562.9 954.3L563.8 957.8L564.7 972.2L565.6 959.5L566.5 973.5L567.4 964.7L568.3 961L569.2 972.1L570.1 957.4L571 958.8L571.9 952.2L572.8 977.8L573.7 961L574.6 988.1L575.5 942.8L576.4 963.7L577.3 962.7L578.1 955.1V774.5" stroke="#FFC215"/>
<path d="M205.3 957.9L250.1 961L276.3 957.6L294.9 957.1L309.4 954.3L321.2 960.5L331.1 964.8L339.8 968.5L347.4 968L354.2 963.6L360.4 964.9L366 964.6L371.2 966.5L376 961.5L380.4 967.1L384.6 967.3L388.5 966.6L392.2 963.8L395.7 968.6L399 976.4L402.2 968.8L405.2 961.8L408.1 964.5L410.8 965.5L413.5 966.1L416 972.4L418.4 972.3L420.8 966.9L423.1 963.4L425.2 966.7L427.4 968.7L429.4 969.1L431.4 966.5L433.3 970.9L435.2 970.8L437 977.1L438.8 981.6L440.5 973.9L442.2 973.8L443.8 970.4L445.4 975.2L447 972.6L448.5 976.5L450 974.9L451.5 973.1L452.9 981.3L454.3 974.5L455.6 973.8L457 966.5L458.3 974.4L459.6 981.1L460.8 974.2L462 971L463.3 974.6L464.4 974.5L465.6 974.8L466.7 968.5L467.9 967.4L469 969.6L470.1 988.1L471.1 972.2L472.2 976.4L473.2 980.7L474.2 974.9L475.2 968.2L476.2 977L477.2 971.7L478.2 971.8L479.1 956.1L480 961.2L481 963.7L481.9 974.8L482.8 968.9L483.7 969.3L484.6 966.6L485.5 965.3L486.4 962.6L487.3 960.3L488.2 962.9L489.1 972L490 988.3L490.9 971.8L491.8 968.3L492.7 968.8L493.6 975.2L494.5 981.5L495.4 964.8L496.3 970.1L497.2 976.7L498.1 957.3L499 969.4L499.9 966.4L500.8 964.1L501.7 973.7L502.6 973.6L503.5 977.7L504.4 983.4L505.3 975.3L506.2 966.3L507.1 970.9L508 973.3L508.9 980.4L509.8 971.4L510.7 978.1L511.6 988.2L512.5 982L513.4 986.3L514.3 976.1L515.2 987.8L516.1 976.9L517 978.4L517.9 963.9L518.8 970.4L519.7 975.5L520.6 990.5L521.5 968.6L522.4 985.3L523.3 979.9L524.2 985.4L525.1 979.8L526 999L526.9 992.3L527.8 996.3L528.7 966.8L529.6 950.4L530.5 958.4L531.4 954.4L532.3 952.2L533.2 959.1L534.1 962L535 963.3L535.9 975.1L536.8 956.5L537.7 966.5L538.6 953.8L539.5 956.4L540.4 968L541.3 956.1L542.2 926.7L543.1 973.8L544 979.4L544.9 971.3L545.8 972.4L546.7 970.7L547.6 1016.3L548.5 967L549.4 970.5L550.3 973.6L551.2 966.4L552.1 991.5L553 970.9L553.9 981.2L554.8 986L555.7 977.6L556.6 990.8L557.5 969.9L558.4 977.6L559.3 981.3L560.2 981.8L561.1 980.4L562 984.2L562.9 961L563.8 974.7L564.7 1003L565.6 991.2L566.5 987.3L567.4 1023.8L568.3 987.8L569.2 975.3L570.1 957.1L571 985.8L571.9 993.9L572.8 969.2L573.7 991.5L574.6 972.9L575.5 962.3L576.4 992.7L577.3 988.8L578.2 990.2L579.1 974.8L580 957.3L580.9 981L581.8 970.7L582.7 991.6L583.6 982.4L584.5 962.2L585.4 944.7L586.3 991L586.5 959.1V774.5" stroke="#FFC215"/>
<path d="M205.3 986.5L250.1 990.9L276.3 991.3L294.9 986.7L309.4 981.9L321.2 982.3L331.1 985L339.8 987.6L347.4 986.7L354.2 982.8L360.4 978.4L366 986.4L371.2 982.9L376 978.3L380.4 980.7L384.6 983.5L388.5 977.5L392.2 981.8L395.7 979.9L399 982.9L402.2 980.6L405.2 979.7L408.1 977.4L410.8 973.2L413.5 974.9L416 976.8L418.4 978.7L420.8 980.9L423.1 976.9L425.2 976.3L427.4 980.9L429.4 978.5L431.4 972.9L433.3 974.4L435.2 982.9L437 984L438.8 981.5L440.5 977.9L442.2 976.6L443.8 978.3L445.4 975.7L447 978.1L448.5 976.8L450 973.4L451.5 978.6L452.9 971.2L454.3 998.9L455.6 969.5L457 978.1L458.3 977.1L459.6 977.2L460.8 981.8L462 981.8L463.3 977.6L464.4 981.2L465.6 995L466.7 978.6L467.9 982L469 984.6L470.1 981.8L471.1 978.5L472.2 979.4L473.2 989.3L474.2 971.5L475.2 982.2L476.2 976.6L477.2 984.2L478.2 983.2L479.1 1003.1L480 982L481 972.1L481.9 969.5L482.8 971.2L483.7 973.6L484.6 979L485.5 986.7L486.4 978.1L487.3 981.3L488.2 969.7L489.1 968.8L490 985.1L490.9 977.3L491.8 1011.4L492.7 977.9L493.6 977.3L494.5 986L495.4 973L496.3 993.2L497.2 980.4L498.1 978L499 975.1L499.9 977.7L500.8 971.2L501.7 957.8L502.6 976.9L503.5 971.7L504.4 986.4L505.3 987.2L506.2 959.6L507.1 973.1L508 983.9L508.9 983L509.8 970L510.7 984.5L511.6 971.7L512.5 988.3L513.4 988.3L514.3 978.9L515.2 982.3L516.1 976.8L517 974.7L517.9 988.1L518.8 987.8L519.7 965.3L520.6 967.9L521.5 976.1L522.4 973.5L523.3 970.6L524.2 981.3L525.1 969.7L526 976.9L526.9 983.6L527.8 980.2L528.7 978.2L529.6 992.1L530.5 956.8L531.4 967.7L532.3 965L533.2 975L534.1 989.7L535 980.2L535.9 968.8L536.8 992.6L537.7 961.8L538.6 939.8L539.5 944.1L540.4 960.1L541.3 970.1L542.2 971.3L543.1 983.4L544 965.2L544.9 1011.3L545.8 947.9L546.7 964.2L547.6 982.6L548.5 992.9L549.4 1043.9L550.3 973L551.2 977.9L552.1 978.4L553 983.5L553.9 991.7L554.8 973.5L555.7 974.9L556.6 982.1L557.5 990.5L558.4 983.8L559.3 973.2L560.2 956L561.1 989.5L562 992.6L562.9 972.8L563.8 972.8L564.7 951.7L565.6 951.2L566.5 975.8L567.4 958L568.3 975.9L569.2 958.1L570.1 1006.9L571 988.9L571.9 978.1L572.8 968.8L573.7 967.3L574.6 947.9L575.5 972.6L576.4 958.9L577.3 953.6L578.2 947.1L579.1 980.3L580 984.4L580.9 981.1L581.8 963.6L582.7 972.7L583.6 1002.8L584.5 971.7L585.4 983L586.3 993.8L587.2 1004L588.1 958L589 1000.5L589.9 982.6L590.8 978.9L591.7 989.8L592.6 989.5L593.5 996.4L594.4 976.2L595.3 978.5L596 965.9V774.5" stroke="#FFC215"/>
<path d="M205.3 905.2L250.1 915.6L276.3 920.9L294.9 927.7L309.4 929.6L321.2 934.7L331.1 938L339.8 937L347.4 937L354.2 936.5L360.4 942.8L366 943.6L371.2 941.9L376 941.5L380.4 945.8L384.6 951.3L388.5 947.8L392.2 949.2L395.7 953.1L399 952.8L402.2 950.9L405.2 955.4L408.1 953.5L410.8 953.3L413.5 956L416 956.1L418.4 954.9L420.8 960.6L423.1 957.9L425.2 959.6L427.4 960.9L429.4 965L431.4 960.6L433.3 961.4L435.2 963L437 961L438.8 962.4L440.5 962.9L442.2 964.1L443.8 965.5L445.4 963.4L447 962.9L448.5 960.7L450 960.7L451.5 960.6L452.9 966.5L454.3 966.2L455.6 963L457 966.7L458.3 972.3L459.6 965.6L460.8 967.9L462 965.3L463.3 970.7L464.4 972.2L465.6 970.7L466.7 968.4L467.9 970.8L469 963.2L470.1 968.2L471.1 960.6L472.2 970.1L473.2 966.8L474.2 971.3L475.2 974.5L476.2 977.7L477.2 965.7L478.2 966.4L479.1 969.3L480 963L481 974.9L481.9 974.3L482.8 977.6L483.7 966.9L484.6 969.6L485.5 969L486.4 972.5L487.3 981.8L488.2 978.2L489.1 972.7L490 969.7L490.9 968.7L491.8 973.1L492.7 979.6L493.6 977.4L494.5 971.6L495.4 972.8L496.3 971.3L497.2 978.1L498.1 976.6L499 986.9L499.9 967.5L500.8 978.2L501.7 973.3L502.6 974.9L503.5 980.6L504.4 982.3L505.3 975L506.2 979.4L507.1 990.4L508 973.1L508.9 980.2L509.8 986.9L510.7 985.8L511.6 971.1L512.5 989.8L513.4 977.4L514.3 983.9L515.2 984.2L516.1 990.4L517 982.3L517.9 987.6L518.8 980.9L519.7 986.2L520.6 988.9L521.5 996.6L522.4 989.1L523.3 978.5L524.2 1000.4L525.1 973.2L526 969.4L526.9 959L527.8 984.2L528.7 992.3L529.6 962.5L530.5 955L531.4 974.7L532.3 979.2L533.2 974.1L534.1 997.2L535 977.2L535.9 973L536.8 974.2L537.7 990.4L538.6 992.3L539.5 974.9L540.4 974.1L541.3 1004L542.2 970.7L543.1 986.3L544 983.9L544.9 974.6L545.8 988.7L546.7 980.2L547.6 984.8L548.5 981.9L549.4 969.9L550.3 971.3L551.2 985.9L552.1 970.8L553 964.9L553.9 963L554.8 983.9L555.7 972.8L556.6 956.9L557.5 976.5L558.4 978.3L559.3 983.5L560.2 994.1L561.1 958.5L562 993.9L562.9 970.9L563.8 967.7L564.7 983.5L565.6 991.7L566.5 972.8L567.4 970.3L568.3 977L569.2 981.8L570.1 986L571 974.9L571.9 960.7L572.8 980.8L573.7 960.4L574.6 978.5L575.5 975.7L576.4 968.7L577.3 980L578.2 994.1L579.1 988.3L580 942L580.9 964.3L581.8 987.3L582.7 981.4L583.6 967.4L584.5 958.1L585.4 974.8L586.3 993.3L587.2 958L588.1 988.6L589 973.3L589.9 956.3L590.8 1012L591.7 989.5L592.6 1018.8L593.5 1000L594.4 990.8L595.3 991.5L596.2 960.1L597.1 958.7L598 968.1L598.9 980.4L599.8 981.1L600.2 951.2V774.5" stroke="#FFC215"/>
<path d="M205.3 1005.6L250.1 999.3L276.3 1000.1L294.9 996.4L309.4 995L321.2 992.6L331.1 987.1L339.8 985.9L347.4 995.5L354.2 987.7L360.4 986.2L366 979L371.2 982.7L376 980.6L380.4 980.2L384.6 986.6L388.5 983.7L392.2 980.1L395.7 981.2L399 986.9L402.2 976.1L405.2 974.2L408.1 973.5L410.8 973.4L413.5 977.2L416 975.7L418.4 974.3L420.8 981.1L423.1 978.1L425.2 977.5L427.4 983L429.4 976.5L431.4 979.3L433.3 982.5L435.2 980.2L437 983.9L438.8 981.9L440.5 979.2L442.2 984.4L443.8 984L445.4 974.3L447 974.1L448.5 980.5L450 983L451.5 976.7L452.9 985.2L454.3 976L455.6 981L457 977.6L458.3 970.1L459.6 974.2L460.8 971.9L462 977.7L463.3 972.6L464.4 982.8L465.6 973.5L466.7 982L467.9 976.2L469 977.6L470.1 964.6L471.1 972.6L472.2 971.5L473.2 985.7L474.2 984.9L475.2 981.2L476.2 983.9L477.2 976L478.2 979.3L479.1 975.7L480 981.9L481 983.6L481.9 984.3L482.8 978.2L483.7 984.3L484.6 1001.1L485.5 987.1L486.4 985.7L487.3 978.3L488.2 978.8L489.1 976.2L490 982.9L490.9 976.9L491.8 987.3L492.7 979L493.6 966.1L494.5 971.8L495.4 983.8L496.3 980L497.2 987.4L498.1 976.1L499 989.4L499.9 982.7L500.8 975.1L501.7 981.3L502.6 995.9L503.5 983L504.4 973.4L505.3 978L506.2 983.9L507.1 983.1L508 973.4L508.9 978.4L509.8 970.7L510.7 978.1L511.6 976.5L512.5 971.1L513.4 980.8L514.3 975L515.2 984.6L516.1 985.7L517 982.4L517.9 978.5L518.8 962.7L519.7 987.4L520.6 982.1L521.5 978.4L522.4 990.1L523.3 983.2L524.2 950.8L525.1 965.4L526 958L526.9 965.7L527.8 977.4L528.7 972.1L529.6 957.8L530.5 980.4L531.4 982.7L532.3 964.9L533.2 964.7L534.1 967.4L535 972.2L535.9 958.8L536.8 957.8L537.7 958.8L538.6 960L539.5 959.1L540.4 967.2L541.3 948.3L542.2 963.8L543.1 975.4L544 966.5L544.9 962.9L545.8 957.8L546.7 974.7L547.6 979.4L548.5 973.5L549.4 960.4L550.3 964.1L551.2 998.6L552.1 982L553 969.3L553.9 943.8L554.8 971.5L555.7 971.2L556.6 981.5L557.5 968.3L558.4 997.1L559.3 972.6L560.2 970.1L561.1 953.7L562 951.6L562.9 969.3L563.8 996.8L564.7 948.5L565.6 958.4L566.5 966.1L567.4 957.7L568.3 980.8L569.2 944.6L570.1 973L571 1016.8L571.9 980.9L572.8 958.1L573.7 996.1L574.6 976.7L575.5 967.6L576.4 960L577.3 974.1L578.2 971.4L579.1 973.2L580 991.2L580.9 959.1L581.8 967.8L582.7 962.7L583.6 962.5L584.5 987.9L585.4 975.9L586.3 964.3L587.2 954.5L588.1 960.3L589 970.9L589.9 971.1L590.8 958.4L591.7 982.5L592.6 957.9L593.5 952.8L594.4 960.1L595.3 964.5L596.2 973L597.1 959.4L598 998L598.9 984L599.8 978L600.7 1000.4L601.6 988.1L602.5 973.7L603.4 969.2L604.3 978.7L605.2 994.7L606.1 971.9L607 982L607.9 983.5L608.8 965.8L609.7 966.9L610.6 971.9L611.5 972.2L612.4 978.4L613.3 964.1L613.9 970.8V774.5" stroke="#FFC215"/>
<path d="M205.3 908L250.1 917.6L276.3 924.6L294.9 930.5L309.4 932.2L321.2 934.2L331.1 939.3L339.8 942.4L347.4 946.7L354.2 949.4L360.4 950.7L366 953.7L371.2 953.3L376 954L380.4 956L384.6 957.1L388.5 959.6L392.2 960L395.7 962.4L399 964.5L402.2 964.7L405.2 964.1L408.1 961.8L410.8 963.8L413.5 966.3L416 969.2L418.4 969.6L420.8 966.7L423.1 969.2L425.2 970.1L427.4 970.8L429.4 971.2L431.4 971.4L433.3 969.7L435.2 969.8L437 968.3L438.8 972.1L440.5 975.3L442.2 973.5L443.8 972.6L445.4 972L447 970.9L448.5 973.7L450 973.1L451.5 974.3L452.9 976.9L454.3 976.6L455.6 974.1L457 973.7L458.3 973.7L459.6 975.6L460.8 974.4L462 977.7L463.3 976.8L464.4 974.9L465.6 979.6L466.7 975.6L467.9 979.8L469 979.7L470.1 979.8L471.1 975.1L472.2 980.8L473.2 980L474.2 978.6L475.2 1002.7L476.2 977.3L477.2 978.2L478.2 980.8L479.1 982.1L480 982L481 976.2L481.9 979.3L482.8 979.9L483.7 982.2L484.6 975L485.5 981.9L486.4 979L487.3 980L488.2 974.2L489.1 977.2L490 975.3L490.9 1001.2L491.8 977.4L492.7 974L493.6 979.7L494.5 988L495.4 1008.9L496.3 981.3L497.2 982.8L498.1 976.9L499 974.4L499.9 980L500.8 977.3L501.7 970.3L502.6 984.4L503.5 980.5L504.4 981.1L505.3 984.9L506.2 985.1L507.1 985.8L508 972L508.9 981.9L509.8 978L510.7 977.6L511.6 972.4L512.5 981.7L513.4 991.6L514.3 989.1L515.2 975L516.1 988.7L517 978.7L517.9 993.9L518.8 999.9L519.7 1010.5L520.6 991.9L521.5 994.1L522.4 980.7L523.3 995.5L524.2 986.7L525.1 988.2L526 979.6L526.9 991L527.8 979.7L528.7 977.6L529.6 967.1L530.5 984.4L531.4 964.7L532.3 973.2L533.2 971.7L534.1 987.2L535 998.8L535.9 975.9L536.8 983.7L537.7 971.9L538.6 977.4L539.5 968L540.4 971.6L541.3 964.9L542.2 956.7L543.1 983.2L544 967.1L544.9 989.1L545.8 966.2L546.7 984.7L547.6 994.3L548.5 969.1L549.4 979.3L550.3 999.4L551.2 986.7L552.1 974L553 974.2L553.9 968.3L554.8 970L555.7 989L556.6 967.4L557.5 975.4L558.4 961.5L559.3 987.1L560.2 960.6L561.1 983.5L562 984.4L562.9 986L563.8 968.4L564.7 983.2L565.6 974.3L566.5 964L567.4 973.3L568.3 992.1L569.2 972.6L570.1 982.5L571 980.6L571.9 977.7L572.8 1005.5L573.7 960.1L574.6 977.4L575.5 980.5L576.4 961.5L577.3 1042.3L578.2 992.4L579.1 987.4L580 983.4L580.9 976.6L581.8 964.1L582.7 997.5L583.6 1013.4L584.5 981.3L585.4 984.1L586.3 995.2L587.2 1001.9L588.1 985.9L589 976.5L589.9 976.2L590.8 989.9L591.7 991.4L592.6 973L593.5 991.9L594.4 996.3L595.3 984.9L596.2 985.7L597.1 992.6L598 993.8L598.9 1003.5L599.8 1005L600.7 978.1L601.6 985.5L602.5 982.6L603.4 992.7L604.3 1003.9L605.2 994.9L606.1 997L607 980.9L607.9 968.4L608.8 996.1L609.7 1003.9L610.6 975.9L611.5 989.1L612.4 1001.2L613.3 983.9L614.2 985L615.1 987.8L616 979.2L616.9 980.2L617.8 966.7L618.7 988.4L619.6 983L620.3 988.3V774.5" stroke="#FFC215"/>
<path d="M205.3 972.3L250.1 968.1L276.3 965.4L294.9 966.7L309.4 966L321.2 965.5L331.1 967.5L339.8 968.5L347.4 968.5L354.2 971.2L360.4 970.9L366 969.5L371.2 969.8L376 969.3L380.4 968.8L384.6 968.1L388.5 968.3L392.2 967.1L395.7 969.7L399 970.4L402.2 969.6L405.2 968.8L408.1 967.4L410.8 967.8L413.5 968.6L416 967.2L418.4 969.4L420.8 966.5L423.1 964.4L425.2 964.9L427.4 963.5L429.4 963.6L431.4 967.6L433.3 966.3L435.2 966.4L437 965L438.8 965.5L440.5 966.2L442.2 963.7L443.8 965.6L445.4 963.6L447 961.9L448.5 963.1L450 963.1L451.5 967.4L452.9 961.8L454.3 961.3L455.6 965.2L457 967.7L458.3 962.4L459.6 964.9L460.8 964.8L462 965.5L463.3 967.2L464.4 970.6L465.6 968.1L466.7 963.1L467.9 963.4L469 959.6L470.1 1006.3L471.1 964.8L472.2 961.2L473.2 969.7L474.2 968.2L475.2 965L476.2 965.1L477.2 968.9L478.2 971.8L479.1 963.2L480 961.9L481 962.7L481.9 964.8L482.8 960.3L483.7 969.2L484.6 966.9L485.5 967.8L486.4 963.7L487.3 966.9L488.2 960.1L489.1 954.8L490 964L490.9 966L491.8 961.4L492.7 962.3L493.6 951.8L494.5 951.7L495.4 957.8L496.3 957.3L497.2 998.1L498.1 957.4L499 959.7L499.9 961.9L500.8 962.2L501.7 966L502.6 971.5L503.5 966.9L504.4 974.9L505.3 973.5L506.2 974.1L507.1 980L508 968L508.9 969.5L509.8 975.8L510.7 964.1L511.6 964.3L512.5 965.4L513.4 966.1L514.3 959.5L515.2 959.3L516.1 972.5L517 976.3L517.9 969.5L518.8 971.9L519.7 965L520.6 972.4L521.5 1005.8L522.4 955.9L523.3 958.2L524.2 952.6L525.1 950.7L526 975.4L526.9 960.9L527.8 977.4L528.7 972.6L529.6 962.4L530.5 957.9L531.4 983.2L532.3 978.3L533.2 986.5L534.1 958.5L535 995.4L535.9 978.2L536.8 957.5L537.7 943.8L538.6 972L539.5 966.8L540.4 947.9L541.3 946.4L542.2 951.4L543.1 954.8L544 977.5L544.9 952.8L545.8 978.1L546.7 969.6L547.6 970.4L548.5 961.6L549.4 982L550.3 967L551.2 958.9L552.1 977.1L553 967.5L553.9 938.3L554.8 968.8L555.7 962.7L556.6 950.4L557.5 980.5L558.4 972.4L559.3 963.6L560.2 965L561.1 954L562 951.3L562.9 943.3L563.8 949.7L564.7 950.4L565.6 965.7L566.5 931L567.4 953.9L568.3 974.9L569.2 1001.6L570.1 962.5L571 964.9L571.9 957.4L572.8 994.8L573.7 970.9L574.6 973.2L575.5 973.1L576.4 968L577.3 970.6L578.2 970L579.1 964.5L580 947.5L580.9 975.6L581.8 959.8L582.7 947.1L583.6 951.5L584.5 979.8L585.4 969.2L586.3 971.6L587.2 987.7L588.1 983.5L589 974.6L589.9 985.8L590.8 954L591.7 952.2L592.6 958.9L593.5 966.5L594.4 965.8L595.3 949.4L596.2 951.5L597.1 951.7L598 974.5L598.9 962.1L599.8 947.5L600.7 978.6L601.6 984.2L602.5 967.3L603.4 959.5L604.3 946.3L605.2 956.5L606.1 979.7L607 960L607.9 956.8L608.8 967.9L609.7 967.3L610.6 974.1L611.5 960.2L612.4 945.2L613.3 962.6L614.2 969.3L615.1 942.9L616 972L616.9 983.9L617.8 971.5L618.7 991.6L619.6 996.5L620.5 988.2L621.4 951.5L622.3 978.5L623.2 973.6L624.1 971.2L625 971.1L625.9 971.2L626.8 987.2L627.7 954.4L628.6 962.3L629.5 970.7L630.4 940.2L631.3 953.4L632.2 941.2L632.9 956.1V774.5" stroke="#FFC215"/>
<path d="M205.3 981.5L250.1 981.1L276.3 981.1L294.9 981.8L309.4 982L321.2 980.9L331.1 983.8L339.8 983.5L347.4 980.5L354.2 981.1L360.4 982.5L366 981.7L371.2 980.5L376 983.3L380.4 981.5L384.6 981.8L388.5 982.9L392.2 983.8L395.7 980.9L399 982.9L402.2 983L405.2 983.5L408.1 981.5L410.8 980.2L413.5 982.1L416 981.8L418.4 981L420.8 982.6L423.1 982.5L425.2 982L427.4 982.3L429.4 979.4L431.4 981.4L433.3 983.4L435.2 983.7L437 986.7L438.8 984.2L440.5 983.6L442.2 985.1L443.8 983.8L445.4 986.1L447 985.1L448.5 989.1L450 986.6L451.5 989.6L452.9 989.4L454.3 985.8L455.6 988.8L457 989.9L458.3 987.6L459.6 986.5L460.8 986.4L462 991.2L463.3 992.4L464.4 986.3L465.6 992.5L466.7 990.9L467.9 984.5L469 988.5L470.1 990.4L471.1 990.4L472.2 988.1L473.2 987.8L474.2 987.2L475.2 983.3L476.2 984.9L477.2 984.2L478.2 985.7L479.1 979.3L480 982.5L481 982.2L481.9 981.5L482.8 976.4L483.7 979.3L484.6 984.8L485.5 988.9L486.4 985.6L487.3 984.1L488.2 995.7L489.1 994.8L490 984.1L490.9 975.8L491.8 986.5L492.7 992.1L493.6 989.2L494.5 979.6L495.4 986.4L496.3 981L497.2 987.3L498.1 985.1L499 997L499.9 978.9L500.8 977.9L501.7 981.3L502.6 977.9L503.5 991.1L504.4 982.8L505.3 971.9L506.2 972.9L507.1 983.7L508 979.8L508.9 987.5L509.8 984.4L510.7 983L511.6 992.1L512.5 988.8L513.4 980.4L514.3 985.2L515.2 976.5L516.1 976.1L517 985.4L517.9 1012.7L518.8 976.6L519.7 977.7L520.6 987.1L521.5 983.4L522.4 980.1L523.3 974.9L524.2 988.7L525.1 969.3L526 983.7L526.9 977.4L527.8 973.7L528.7 983.7L529.6 1004.1L530.5 962L531.4 970.8L532.3 970.7L533.2 1005.5L534.1 977.9L535 976.9L535.9 977.4L536.8 975.9L537.7 949.3L538.6 971.6L539.5 995.2L540.4 987.6L541.3 986.8L542.2 987L543.1 991.9L544 983L544.9 1001L545.8 1002.8L546.7 992.8L547.6 982.9L548.5 968.7L549.4 985.3L550.3 984.7L551.2 985.1L552.1 983.1L553 986.3L553.9 994.5L554.8 977.2L555.7 1007.2L556.6 1004.9L557.5 984.1L558.4 994.4L559.3 983L560.2 996.2L561.1 995.8L562 980.7L562.9 983L563.8 995.1L564.7 979.6L565.6 999L566.5 977.9L567.4 976.5L568.3 979.2L569.2 958.3L570.1 966.8L571 978.5L571.9 994.3L572.8 990.2L573.7 967.5L574.6 982.1L575.5 959.4L576.4 948.9L577.3 979.2L578.2 978.3L579.1 975.1L580 988.2L580.9 1006.9L581.8 1001.1L582.7 978.4L583.6 971.2L584.5 955.9L585.4 1026.1L586.3 992.1L587.2 975.8L588.1 961L589 988L589.9 1014.3L590.8 979.9L591.7 965.7L592.6 991.5L593.5 988.3L594.4 971.7L595.3 974.7L596.2 984.7L597.1 992.6L598 972.2L598.9 978.3L599.8 994L600.7 971.1L601.6 975.6L602.5 974.5L603.4 992.2L604.3 987.4L605.2 994.9L606.1 971.9L607 1011.8L607.9 983.1L608.8 989.3L609.7 987.4L610.6 965L611.5 998.7L612.4 968.3L613.3 964.5L614.2 980.7L615.1 987.8L616 995.7L616.9 978.6L617.8 1058.4L618.7 981.9L619.6 971.8L620.5 975.6L621.4 983.2L622.3 994.3L623.2 986.3L624.1 980.7L625 967.1L625.9 977.9L626.8 984.6L627.7 989.1L628.6 977.9L629.5 1006L630.4 999.5L631.3 1001.5L632.2 962.4L633.1 968.2L634 981.3L634.9 986.4L635.8 979.5L636.7 985.5L637.6 972.5L638.5 966.9L639.4 969.1L640.3 982.2L641.2 980.1L642.1 999.3L643 972.8L643.9 957.5L644.8 994.2L645.7 984.9L646.6 992.2L647.5 972.1L648.4 990.3L648.7 986.6V774.5" stroke="#FFC215"/>
<path d="M205.3 963.7L250.1 970.5L276.3 970.5L294.9 970.2L309.4 971.8L321.2 974.1L331.1 978.1L339.8 976.4L347.4 976.2L354.2 972.8L360.4 972.9L366 974.3L371.2 974.8L376 979L380.4 979.4L384.6 978.6L388.5 979.7L392.2 978.8L395.7 980.5L399 980.1L402.2 979.9L405.2 978L408.1 974.6L410.8 977.9L413.5 973.3L416 974.9L418.4 976.2L420.8 977L423.1 976.5L425.2 977.6L427.4 976.4L429.4 975.8L431.4 971.5L433.3 967.6L435.2 969.3L437 971.3L438.8 971.7L440.5 976L442.2 978.7L443.8 976.9L445.4 979.8L447 975.1L448.5 976.1L450 974.8L451.5 991.9L452.9 978L454.3 975.1L455.6 978.7L457 980.4L458.3 978L459.6 979.2L460.8 981L462 977.1L463.3 971.2L464.4 981.5L465.6 970.4L466.7 974L467.9 973.6L469 979.3L470.1 982.4L471.1 985L472.2 982.5L473.2 982.1L474.2 977.5L475.2 977L476.2 978.1L477.2 978.2L478.2 972.4L479.1 970.8L480 977.2L481 977.1L481.9 980.5L482.8 982.4L483.7 977L484.6 977.7L485.5 990.3L486.4 984.3L487.3 977.9L488.2 975.7L489.1 979.8L490 989.8L490.9 991.9L491.8 969.4L492.7 978L493.6 977.8L494.5 976.9L495.4 986.5L496.3 973.6L497.2 987.7L498.1 982.5L499 990.4L499.9 981.5L500.8 986.7L501.7 979.5L502.6 985.9L503.5 989.8L504.4 981.8L505.3 981.6L506.2 983.1L507.1 977.8L508 978.4L508.9 987L509.8 983.9L510.7 994.6L511.6 1000.8L512.5 988.2L513.4 985.3L514.3 991.4L515.2 988.2L516.1 991.9L517 988.8L517.9 979.9L518.8 975.7L519.7 989.5L520.6 999.7L521.5 997.2L522.4 969.9L523.3 975.4L524.2 986.4L525.1 993L526 979.8L526.9 978.4L527.8 966.9L528.7 964.6L529.6 972.3L530.5 991.8L531.4 979.6L532.3 980.6L533.2 993L534.1 974.9L535 977.4L535.9 981.1L536.8 1001.5L537.7 991.1L538.6 988.7L539.5 982.9L540.4 961L541.3 976.7L542.2 972.5L543.1 983.1L544 991.5L544.9 982.7L545.8 987.3L546.7 967L547.6 967.9L548.5 978.6L549.4 984.5L550.3 974.2L551.2 984.7L552.1 984.7L553 982.6L553.9 949.9L554.8 996.5L555.7 967.6L556.6 986.8L557.5 975.9L558.4 934.4L559.3 981.5L560.2 974.8L561.1 1009.6L562 987.4L562.9 989L563.8 1017.2L564.7 997.1L565.6 1018.9L566.5 1010.9L567.4 1014.8L568.3 973.5L569.2 973.2L570.1 976.1L571 961.1L571.9 957.5L572.8 965.9L573.7 981.3L574.6 978.9L575.5 990.9L576.4 960.7L577.3 953.8L578.2 986.5L579.1 1005.7L580 992.3L580.9 982.7L581.8 990L582.7 987L583.6 995.8L584.5 977.1L585.4 965.4L586.3 997.8L587.2 1009.9L588.1 995.8L589 974.5L589.9 990.3L590.8 984.2L591.7 983.7L592.6 981.7L593.5 986.5L594.4 986.2L595.3 1000.2L596.2 984.2L597.1 966.9L598 996L598.9 1006.1L599.8 1000.8L600.7 1004.8L601.6 982.2L602.5 1001.7L603.4 996.3L604.3 1042.8L605.2 983.2L606.1 987.7L607 986.6L607.9 1002.2L608.8 950.3L609.7 980.2L610.6 979.1L611.5 978.9L612.4 995.1L613.3 988.5L614.2 975.1L615.1 1007.1L616 980.9L616.9 967.7L617.8 971.4L618.7 986.1L619.6 992.2L620.5 996.8L621.4 984.7L622.3 963.8L623.2 1009.5L624.1 966L625 973.8L625.9 975.2L626.8 986.3L627.7 976.5L628.6 1011.5L629.5 982.1L630.4 967.3L631.3 970.3L632.2 994.2L633.1 968.4L634 978.8L634.9 1006.4L635.8 980.1L636.7 987.7L637.6 986.8L638.5 986.9L639.4 973.6L640.3 976.1L641.2 987.2L642.1 980.5L643 976L643.9 969.5L644.8 983.3L645.7 982.1L646.6 984.8L647.5 981.9L648.4 991.4L649.3 1000.1L650.2 1000L651.1 1017.5L652 986.9L652.9 964.2L653.8 988.4L654.7 989.1L655.6 978.9L656.5 977.1L657.4 959.6L658.2 977.8V774.5" stroke="#FFC215"/>
<path d="M205.3 996.3L250.1 988.1L276.3 984.9L294.9 982L309.4 981.5L321.2 985.1L331.1 981.4L339.8 983.3L347.4 979.1L354.2 976.8L360.4 976L366 975.4L371.2 975.5L376 972.8L380.4 970.6L384.6 969.7L388.5 968.6L392.2 967.1L395.7 969.4L399 967.6L402.2 969.9L405.2 971.4L408.1 969.7L410.8 968.5L413.5 970.9L416 972L418.4 970.1L420.8 970.7L423.1 970.2L425.2 968.4L427.4 970.8L429.4 971.2L431.4 971.7L433.3 970.3L435.2 972.5L437 972.5L438.8 970.8L440.5 971.4L442.2 971L443.8 971.8L445.4 970.7L447 971.5L448.5 976L450 970.5L451.5 969.1L452.9 972L454.3 973.1L455.6 973L457 968.2L458.3 969.9L459.6 974.3L460.8 974.8L462 974.1L463.3 970.2L464.4 973.2L465.6 976.1L466.7 976.7L467.9 976.3L469 975.7L470.1 977.6L471.1 976.2L472.2 971.2L473.2 971.3L474.2 970.6L475.2 973.3L476.2 974L477.2 970.7L478.2 970.4L479.1 966L480 967.2L481 969.1L481.9 973.3L482.8 967.8L483.7 963.4L484.6 966.4L485.5 970.9L486.4 971.5L487.3 978.1L488.2 976.5L489.1 972.9L490 967.3L490.9 963.6L491.8 967.2L492.7 968.9L493.6 966L494.5 963.2L495.4 959.5L496.3 970.4L497.2 978L498.1 1010.1L499 957.9L499.9 966.5L500.8 967.7L501.7 965.2L502.6 957.8L503.5 966.4L504.4 964.7L505.3 965.1L506.2 958.2L507.1 957.5L508 962.8L508.9 968.6L509.8 957.7L510.7 973.8L511.6 968.3L512.5 960.9L513.4 966.2L514.3 969.7L515.2 959.4L516.1 954L517 962.8L517.9 971.5L518.8 963.4L519.7 970.8L520.6 974.7L521.5 989.3L522.4 1025L523.3 975.8L524.2 970L525.1 969.4L526 956.8L526.9 963.3L527.8 965.1L528.7 975L529.6 967.4L530.5 979.5L531.4 979.6L532.3 987.7L533.2 964.4L534.1 981.1L535 975.4L535.9 972L536.8 996.2L537.7 981.6L538.6 987.5L539.5 963.9L540.4 959.7L541.3 958.6L542.2 962.8L543.1 969.3L544 986.1L544.9 967.3L545.8 965.6L546.7 981.7L547.6 967.7L548.5 966L549.4 952.6L550.3 972.3L551.2 981.1L552.1 962.2L553 987.6L553.9 974.5L554.8 972.9L555.7 962.2L556.6 965L557.5 972.1L558.4 975L559.3 995.7L560.2 981.7L561.1 955.4L562 974L562.9 980.7L563.8 1001.4L564.7 964L565.6 973L566.5 968.9L567.4 997.4L568.3 991.9L569.2 980.2L570.1 974.6L571 969.6L571.9 982.1L572.8 968.9L573.7 963.2L574.6 987.7L575.5 983L576.4 993.3L577.3 968.4L578.2 985.6L579.1 979.8L580 961.1L580.9 982.9L581.8 978.5L582.7 979.4L583.6 976.9L584.5 961.5L585.4 951.1L586.3 960.5L587.2 972.8L588.1 955.5L589 965.2L589.9 969.8L590.8 969.2L591.7 984.9L592.6 991.3L593.5 978.2L594.4 960.9L595.3 964.7L596.2 984L597.1 971.4L598 963.5L598.9 1032.4L599.8 965.5L600.7 949.7L601.6 982.2L602.5 947.1L603.4 975.9L604.3 988L605.2 1028.5L606.1 960.8L607 954.4L607.9 998.2L608.8 948.7L609.7 946.9L610.6 970.7L611.5 981.6L612.4 976.9L613.3 972.6L614.2 985.4L615.1 968.8L616 948.6L616.9 955.6L617.8 948.1L618.7 968.5L619.6 985.6L620.5 994.2L621.4 1011.1L622.3 976.9L623.2 957.3L624.1 956.1L625 953L625.9 968.1L626.8 968.6L627.7 993L628.6 976.4L629.5 971.4L630.4 990.6L631.3 971.4L632.2 964.1L633.1 963L634 985L634.9 943.3L635.8 967.6L636.7 985.8L637.6 951.7L638.5 970.4L639.4 971.5L640.3 952.1L641.2 963.4L642.1 963.9L643 996L643.9 984.8L644.8 958.1L645.7 975.3L646.6 982.9L647.5 1001.9L648.4 962.8L649.3 956.5L650.2 963.6L651.1 952L652 985.4L652.9 936.7L653.8 985.2L654.7 970.1L655.6 979.9L656.5 976.3L657.4 1023.3L658.3 949.3L659.2 967.8L660.1 977L661 975.2L661.9 954.4L662.8 973.3L663.7 1016.5L664.6 982.9L665.5 966.2L666.4 954.8L667.3 966.2L668.2 960.8L669.1 969.3L670 957.1L670.9 958.6L671.8 980.5L672.7 991.6L673.6 1006.9L674.5 1030.2L675.4 984.8L676.3 964.3L677.2 949.8L677.2 956.9V774.5" stroke="#FFC215"/>
<path d="M205.3 985L250.1 992.3L276.3 994.8L294.9 989.5L309.4 987.4L321.2 989.4L331.1 987.8L339.8 991.7L347.4 996.1L354.2 995.7L360.4 988.6L366 995.4L371.2 991.1L376 993.6L380.4 996L384.6 992.7L388.5 986.7L392.2 992.3L395.7 988.9L399 987.7L402.2 992.2L405.2 991.8L408.1 990.9L410.8 989.9L413.5 990.6L416 989.3L418.4 992L420.8 994.6L423.1 992.5L425.2 994L427.4 989.1L429.4 996L431.4 991.6L433.3 992.6L435.2 989.9L437 988.5L438.8 993.7L440.5 994.5L442.2 992.6L443.8 993.3L445.4 991.4L447 988.6L448.5 993.4L450 993.3L451.5 995.4L452.9 993.1L454.3 993.6L455.6 992.8L457 993.1L458.3 993.4L459.6 997.6L460.8 997.5L462 1000.9L463.3 994L464.4 989.6L465.6 992.5L466.7 994L467.9 985.7L469 997.2L470.1 998L471.1 991.8L472.2 987.3L473.2 989.2L474.2 985.1L475.2 984.1L476.2 993.6L477.2 999.7L478.2 994.6L479.1 991.1L480 982.2L481 986.2L481.9 1035.9L482.8 993.5L483.7 989L484.6 990L485.5 998.6L486.4 989.1L487.3 988.2L488.2 989.4L489.1 978.4L490 991.1L490.9 985.3L491.8 994.3L492.7 994.3L493.6 986.2L494.5 994.5L495.4 979.1L496.3 982L497.2 983.9L498.1 997.4L499 994.7L499.9 991.3L500.8 990.2L501.7 997.4L502.6 981.8L503.5 992.5L504.4 995.1L505.3 985.5L506.2 990.9L507.1 996.4L508 988.5L508.9 1009.5L509.8 994.4L510.7 987.7L511.6 1000.5L512.5 979.7L513.4 985.8L514.3 995.4L515.2 1008.9L516.1 991.8L517 990.1L517.9 989.8L518.8 996.9L519.7 980.3L520.6 988.7L521.5 988.3L522.4 988.3L523.3 988.2L524.2 990.3L525.1 992.6L526 998.2L526.9 986.3L527.8 976.2L528.7 991.4L529.6 1009.8L530.5 1009.9L531.4 970.1L532.3 1000.7L533.2 1003.4L534.1 985L535 984.2L535.9 982.8L536.8 1016.2L537.7 1002.8L538.6 983.6L539.5 989L540.4 980L541.3 995.7L542.2 1058.7L543.1 991.7L544 971.8L544.9 988.3L545.8 985.6L546.7 972.1L547.6 1007.2L548.5 980.2L549.4 1002.8L550.3 969.4L551.2 1008.9L552.1 1008.8L553 1010.8L553.9 1009.3L554.8 1001.5L555.7 981.2L556.6 977.9L557.5 1003.3L558.4 1003.2L559.3 968.6L560.2 983.4L561 998.5" stroke="#FFC215"/>
<path d="M205.3 973.7L250.1 970.7L276.3 972.9L294.9 975.1L309.4 976.6L321.2 979.9L331.1 978.6L339.8 978.2L347.4 984L354.2 987.3L360.4 991.5L366 987.6L371.2 992.1L376 988.5L380.4 989.6L384.6 993.4L388.5 986.2L392.2 988.3L395.7 990.1L399 989.1L402.2 990.6L405.2 993.5L408.1 993.3L410.8 997.2L413.5 1002.5L416 998.5L418.4 999L420.8 997.9L423.1 997.1L425.2 995.2L427.4 999.8L429.4 994.7L431.4 996.2L433.3 993.6L435.2 996.1L437 998.9L438.8 1034.9L440.5 992.9L442.2 999.5L443.8 1001.2L445.4 1002.2L447 1001.8L448.5 1005.5L450 998.3L451.5 1003.9L452.9 1003.9L454.3 1000.3L455.6 1007.3L457 1004L458.3 997.3L459.6 1006.5L460.8 1001.1L462 1006.8L463.3 1031.4L464.4 1023.8L465.6 999L466.7 998.9L467.9 990.2L469 1001.9L470.1 1004.2L471.1 1000L472.2 997.9L473.2 996.3L474.2 999.4L475.2 1002.1L476.2 998.5L477.2 1005.4L478.2 1006.3L479.1 997.1L480 999.7L481 1007.5L481.9 1006.4L482.8 1006.9L483.7 998.7L484.6 994.4L485.5 992.7L486.4 1002.7L487.3 1003.8L488.2 1008L489.1 999.8L490 1003.3L490.9 1024.5L491.8 990L492.7 994L493.6 1005L494.5 1001.6L495.4 1001.7L496.3 997L497.2 1000.3L498.1 996.3L499 999.2L499.9 999.8L500.8 1006.3L501.7 1009L502.6 1000.4L503.5 1003.5L504.4 1000.5L505.3 999.7L506.2 1000.5L507.1 1014.5L508 1007.7L508.9 1017.6L509.8 1005.2L510.7 1003.1L511.6 1007.3L512.5 997.5L513.4 1012.5L514.3 1001.8L515.2 1008.3L516.1 1015.1L517 1001.6L517.9 1003.5L518.8 994.8L519.7 1006.7L520.6 1000.7L521.5 1007.4L522.4 999.8L523.3 1009.6L524.2 1010.5L525.1 1008L526 1007L526.9 984.5L527.8 1000.1L528.7 1006.1L529.6 1023.3L530.5 1013.2L531.4 1003L532.3 1024.1L533.2 1002.2L534.1 989.7L535 1025.1L535.9 993.3L536.8 983.3L537.7 979.4L538.6 1000.3L539.5 1020.7L540.4 1024.6L541.3 992.8L542.2 1001.5L543.1 1011.2L544 1001L544.9 992.6L545.8 1035.9L546.7 1013.2L547.6 978.9L548.5 1005.4L549.4 991.7L550.3 1002.6L551.2 991.4L552.1 1001.5L553 1012.2L553.9 1024.1L554.8 1019.4L555.7 1001.2L556.6 977.3L557.5 1034.5L558.4 1005.9L559.3 1009.3L560.2 1020.2L561.1 995L562 1040.3L562.9 1010.9L563.8 1005.7L564.7 1013.9L565.6 986.2L566.5 965.5L567.4 995.6L568.3 1004.1L569.2 985.3L570.1 991.5L571 1017.8L571.9 988.9L572.8 963.3L573.7 1010.7L574.6 1011.4L575.5 999.9L576.4 1019.1L577.3 1003.5L578.2 995.1L579.1 1006.2L580 1027.6L580.9 990.4L581.8 988.2L582.7 1018.4L583.6 1012.1L584.5 990.5L585.4 1004.9L586.3 998.3L587.2 993.7L588.1 987.6L589 1010L589.9 1003.1L590.8 1026.2L591.7 995.7L592.6 987.6L593.5 1001.4L594.4 1017.1L595.3 996.8L596.2 1012.2L597.1 1002.5L598 1045.7L598.9 1014.4L599.8 1017L600.7 1023.5L601.6 1012.6L602.5 1024L603.4 1011.2L604.3 1021.5L605.2 1006.3L606 997.7" stroke="#FFC215"/>
<path d="M205.3 911.7L250.1 924.1L276.3 931.4L294.9 936L309.4 939.8L321.2 941.8L331.1 942.4L339.8 947.7L347.4 948.7L354.2 950.5L360.4 954.1L366 955.1L371.2 960.4L376 960L380.4 960.1L384.6 962.6L388.5 962L392.2 965.5L395.7 966L399 967.3L402.2 967.8L405.2 969.4L408.1 965.4L410.8 968.2L413.5 967.5L416 969.2L418.4 970.6L420.8 971.5L423.1 970.4L425.2 968.9L427.4 967.2L429.4 970.2L431.4 970.7L433.3 971.1L435.2 970.7L437 971.4L438.8 973L440.5 972.5L442.2 971.9L443.8 974.9L445.4 975.9L447 975.5L448.5 974.1L450 977.1L451.5 981.1L452.9 981.6L454.3 979.9L455.6 978.8L457 979.9L458.3 977.9L459.6 978.8L460.8 978.2L462 981.7L463.3 977.6L464.4 976.5L465.6 981.9L466.7 982.5L467.9 981.5L469 984.8L470.1 977.6L471.1 979L472.2 977.7L473.2 979.8L474.2 982.1L475.2 983.5L476.2 988.1L477.2 990.7L478.2 985.9L479.1 980.8L480 979.2L481 984.6L481.9 992.5L482.8 983L483.7 991.9L484.6 981.1L485.5 984L486.4 981.2L487.3 979L488.2 984.2L489.1 988.1L490 984.7L490.9 985.5L491.8 979.3L492.7 981.8L493.6 982.2L494.5 985.3L495.4 983.2L496.3 1018.9L497.2 989L498.1 991.8L499 986.7L499.9 990.5L500.8 990.2L501.7 987.1L502.6 984.6L503.5 1019.2L504.4 987.7L505.3 994.8L506.2 989.2L507.1 985.1L508 993.8L508.9 993.9L509.8 1002.4L510.7 991.8L511.6 996.5L512.5 994.8L513.4 994.4L514.3 993.2L515.2 999.4L516.1 994.9L517 990.1L517.9 1016.6L518.8 1009.8L519.7 992L520.6 996.4L521.5 989.5L522.4 989.1L523.3 1005.4L524.2 978.1L525.1 999L526 1000.7L526.9 983.5L527.8 976.1L528.7 989.1L529.6 986.7L530.5 1000.5L531.4 992.2L532.3 995L533.2 1019.5L534.1 992.3L535 996L535.9 990.2L536.8 994.9L537.7 996.4L538.6 1003.4L539.5 999.3L540.4 996.9L541.3 989L542.2 1014.8L543.1 1000.4L544 993.7L544.9 1010.5L545.8 993.5L546.7 996.4L547.6 989.9L548.5 990.7L549.4 990.2L550.3 971L551.2 1000.9L552.1 998.4L553 1031.8L553.9 982.4L554.8 994.2L555.7 1000.6L556.6 1050.6L557.5 998.1L558.4 984.2L559.3 984.2L560.2 985.4L561.1 987.1L562 1001.8L562.9 983.9L563.8 1000.3L564.7 998.9L565.6 1006.8L566.5 979.2L567.4 1012.3L568.3 1046.3L569.2 1001L570.1 1000.5L571 985.2L571.9 971.8L572.8 977.2L573.7 1006L574.6 1012.3L575.5 990.1L576.4 1002.5L577.3 1000.8L578.2 1023.3L579.1 986.9L580 1007.2L580.9 997.8L581.8 1022.5L582.7 1000.1L583.6 999.2L584.5 989L585.4 992.7L586.3 1021.5L587.2 997L588.1 982.6L589 970.7L589.9 1007.1L590.8 1002.3L591.7 992.1L592.6 995.1L593.5 1016.4L594.4 1003.3L595.3 989.9L596.2 970.4L597.1 994.9L598 1004.1L598.9 1004.6L599.8 1001.1L600.7 989.1L601.6 1005.3L602.5 988.6L603.4 982.7L604.3 974.3L605.2 1007.4L606.1 1009.3L607 997.8L607.9 990.5L608.8 980.3L609.7 998.9L610.6 1015.2L611.5 999.2L612.4 1020.9L613.3 1007.5L614.2 987.5L615.1 996.3L616 997.9L616.9 997L617.8 1016.8L618.7 1020.2L619.6 1023.9L620.5 1004.6L621.4 1012.6L622.3 1000.9L623.2 995.5L624.1 985.3L625 990.8L625.9 1028.9L626.8 987.7L627.7 1001L628.6 978.1L629.5 998.3L630.4 1010.9L631.3 1005.1L632.2 1037.3L633.1 1021.1L634 984.6L634.9 1004.2L635.8 995.8L636.7 991.4L637.6 992.5L638.5 997.5L639.4 1046.6L640 1041.9" stroke="#FFC215"/>
<path d="M205.3 972.6L250.1 974L276.3 973.8L294.9 970.1L309.4 973.6L321.2 970.5L331.1 975.1L339.8 974.1L347.4 980.3L354.2 974L360.4 975.7L366 977.3L371.2 975.9L376 977.4L380.4 977L384.6 976L388.5 978.3L392.2 969.9L395.7 970.6L399 973.2L402.2 976.1L405.2 976.2L408.1 979.6L410.8 981.4L413.5 978.4L416 976.4L418.4 979.8L420.8 971.2L423.1 975.8L425.2 975.6L427.4 974L429.4 976.1L431.4 971.9L433.3 969.8L435.2 970.5L437 970.1L438.8 974.1L440.5 970.7L442.2 975.2L443.8 977.5L445.4 976.1L447 975.3L448.5 973.7L450 973.7L451.5 979.1L452.9 974.5L454.3 977.4L455.6 981.9L457 982L458.3 978.8L459.6 972.4L460.8 983L462 981L463.3 988.5L464.4 979.8L465.6 973.9L466.7 975.2L467.9 973.3L469 998.2L470.1 975.2L471.1 981.3L472.2 979.5L473.2 972.4L474.2 977.1L475.2 982.6L476.2 977.4L477.2 975.6L478.2 972.7L479.1 977.9L480 979.3L481 975.9L481.9 976.2L482.8 968.7L483.7 974.6L484.6 976.6L485.5 981.4L486.4 981.7L487.3 966.7L488.2 976.2L489.1 976.9L490 974.2L490.9 976.8L491.8 973.2L492.7 981.5L493.6 971.9L494.5 979.7L495.4 982.5L496.3 975.5L497.2 973.9L498.1 964.7L499 969.8L499.9 966.7L500.8 967.3L501.7 979.3L502.6 971.8L503.5 977.9L504.4 969.1L505.3 970.4L506.2 982.2L507.1 984.3L508 965.1L508.9 977.2L509.8 961.3L510.7 982.2L511.6 978.7L512.5 974.5L513.4 975.1L514.3 982.6L515.2 979.1L516.1 975.7L517 985.6L517.9 976.6L518.8 979.9L519.7 977.4L520.6 958.2L521.5 979.7L522.4 982.5L523.3 969.5L524.2 956.8L525.1 977.9L526 967.9L526.9 963.9L527.8 1011.5L528.7 971.6L529.6 973.3L530.5 984.3L531.4 985.1L532.3 981.6L533.2 974.8L534.1 1010.9L535 971.7L535.9 967.3L536.8 968.7L537.7 965.1L538.6 977L539.5 979.1L540.4 992.5L541.3 962L542.2 986.5L543.1 966L544 946.9L544.9 962.8L545.8 948.4L546.7 961.4L547.6 983.5L548.5 985.8L549.4 968.1L550.3 975.4L551.2 1006.1L552.1 976.8L553 991.7L553.9 973.8L554.8 963.2L555.7 982.8L556.6 992.1L557.5 992.9L558.4 972L559.3 972.3L560.2 978.6L561.1 976L562 966.5L562.9 959.5L563.8 971.2L564.7 969.3L565.6 963.4L566.5 961L567.4 988.4L568.3 989.7L569.2 954.8L570.1 976.7L571 951.9L571.9 944.4L572.8 971.9L573.7 970.4L574.6 950.4L575.5 980.3L576.4 971.6L577.3 1044.6L578.2 985.8L579.1 990.6L580 990.1L580.9 977.8L581.8 976.3L582.7 974L583.6 987L584.5 982.7L585.4 940.3L586.3 975L587.2 974.4L588.1 971.7L589 974.6L589.9 989L590.8 992.6L591.7 977.6L592.6 978.7L593.5 979.8L594.4 985.7L595.3 978.2L596.2 980.6L597.1 973.9L598 988.2L598.9 982L599.8 975.9L600.7 986.8L601.6 975.1L602.5 986.7L603.4 975.9L604.3 993.2L605.2 982.3L606.1 985.7L607 975.5L607.9 977.2L608.8 970.3L609.7 985.4L610.6 1011.9L611.5 988.1L612.4 975.7L613.3 978.1L614.2 988.1L615.1 957.1L616 954.4L616.9 985.6L617.8 985.9L618.7 963.5L619.6 948.7L620.5 984.5L621.4 973.5L622.3 973.7L623.2 973.7L624.1 990.2L625 959.6L625.9 981.1L626.8 989.5L627.7 967.4L628.6 928.2L629.5 977.4L630.4 949L631.3 961L632.2 960.2L633.1 965.6L634 952.7L634.9 987.7L635.8 997.3L636.7 975.8L637.6 975.1L638.5 974.6L639.4 992.3L640.3 971.7L641.2 969L642.1 964.1L643 955.9L643.9 970.5L644.8 968.9L645.7 949.3L646.6 979.6L647.5 965.7L648.4 949.7L649.3 968L650.2 979.4L651.1 980.2L652 989.4L652.9 969.2L653.8 970.9L654.7 946.9L655.6 972.5L656.5 937.9L657.4 965.3L658.3 976.3L659.2 987.6L660.1 947.9L661 961.1L661.9 970.5L662.8 990.9L663.7 983.2L664.6 970.9L665.5 956.5L666.4 963.5L667.3 959.8L668 959.2" stroke="#FFC215"/>
<path d="M205.3 1082.2L250.1 1073.5L276.3 1076L294.9 1079.6L309.4 1074.7L321.2 1079.1L331.1 1076.1L339.8 1075.6L347.4 1084.1L354.2 1079.1L360.4 1068.7L366 1066.1L371.2 1078.6L376 1079.8L380.4 1076L384.6 1073.6L388.5 1082L392.2 1077L395.7 1081.2L399 1078.4L402.2 1071.9L405.2 1065.7L408.1 1069.5L410.8 1068.4L413.5 1071.2L416 1067.5L418.4 1066L420.8 1071.9L423.1 1074.2L425.2 1077.1L427.4 1077.4L429.4 1070.5L431.4 1075.7L433.3 1080.9L435.2 1079.4L437 1075.4L438.8 1076.5L440.5 1068.7L442.2 1072.9L443.8 1072.6L445.4 1065.6L447 1077.9L448.5 1065.2L450 1065.3L451.5 1070.4L452.9 1074.4L454.3 1070.4L455.6 1062.4L457 1071.3L458.3 1072.8L459.6 1069.5L460.8 1095.8L462 1070L463.3 1075.6L464.4 1082L465.6 1071.2L466.7 1070.5L467.9 1086.5L469 1070.7L470.1 1066L471.1 1071.1L472.2 1067.9L473.2 1057.5L474.2 1068.1L475.2 1064.1L476.2 1060L477.2 1078.6L478.2 1078.6L479.1 1079.7L480 1068.7L481 1058.3L481.9 1071.5L482.8 1062.7L483.7 1066.3L484.6 1067L485.5 1062.3L486.4 1072.7L487.3 1088.4L488.2 1071.9L489.1 1064.1L490 1071.2L490.9 1060.6L491.8 1077.6L492.7 1077.3L493.6 1061.3L494.5 1073.2L495.4 1060L496.3 1079.8L497.2 1073.4L498.1 1063.2L499 1070.3L499.9 1076.3L500.8 1065.5L501.7 1070.1L502.6 1069.2L503.5 1072.3L504.4 1063.8L505.3 1065.5L506.2 1051.3L507.1 1070.6L508 1072.9L508.9 1067.8L509.8 1073.6L510.7 1056.6L511.6 1063L512.5 1069.3L513.4 1070.8L514.3 1075.9L515.2 1068.5L516.1 1060.5L517 1075.1L517.9 1070.1L518.8 1070.5L519.7 1065.7L520.6 1065.9L521.5 1067.9L522.4 1081.2L523.3 1064.9L524.2 1071.6L525.1 1085.5L526 1087.6L526.9 1090.6L527.8 1068.1L528.7 1060.3L529.6 1059.2L530.5 1073.9L531.4 1072.6L532.3 1062.6L533.2 1062.6L534.1 1070.3L535 1067.5L535.9 1058.2L536.8 1065.3L537.7 1061.8L538.6 1074.9L539.5 1070.7L540.4 1062.7L541.3 1071.9L542.2 1068.4L543.1 1071.4L544 1064.4L544.9 1062.5L545.8 1064.9L546.7 1063.1L547.6 1057.3L548.5 1076.3L549.4 1070.1L550.3 1077.7L551.2 1060.7L552.1 1074.8L552.8 1065.3V774.5" stroke="#FFC215"/>
<path d="M205.3 1077.2L250.1 1076.9L276.3 1078.9L294.9 1076L309.4 1086.3L321.2 1084L331.1 1086.4L339.8 1076.5L347.4 1073.5L354.2 1082.5L360.4 1073.2L366 1070.2L371.2 1065.9L376 1068.2L380.4 1068.4L384.6 1074.7L388.5 1076.8L392.2 1067L395.7 1072.7L399 1069.1L402.2 1076.1L405.2 1077.2L408.1 1085.5L410.8 1079.9L413.5 1086.5L416 1088L418.4 1088.4L420.8 1075.1L423.1 1079.9L425.2 1079.5L427.4 1078.7L429.4 1080.7L431.4 1082.5L433.3 1083.2L435.2 1074.9L437 1082.9L438.8 1074.5L440.5 1073L442.2 1069.6L443.8 1091.3L445.4 1089.3L447 1088.5L448.5 1073.2L450 1093.2L451.5 1072L452.9 1080.3L454.3 1070.9L455.6 1077L457 1075.4L458.3 1071.7L459.6 1075.9L460.8 1080.1L462 1082L463.3 1072.9L464.4 1081.8L465.6 1086.5L466.7 1091.7L467.9 1070.2L469 1057.3L470.1 1083.1L471.1 1077.3L472.2 1080.1L473.2 1069.1L474.2 1077.8L475.2 1067.6L476.2 1078.5L477.2 1070.2L478.2 1079.9L479.1 1077.7L480 1087L481 1077L481.9 1083.4L482.8 1082.2L483.7 1074.1L484.6 1077L485.5 1078.1L486.4 1071.1L487.3 1076.3L488.2 1081.3L489.1 1075.2L490 1057.7L490.9 1078.3L491.8 1076.2L492.7 1069L493.6 1067.2L494.5 1072.7L495.4 1072L496.3 1074L497.2 1074.1L498.1 1072.4L499 1080L499.9 1074.9L500.8 1092.5L501.7 1074.4L502.6 1073.3L503.5 1075.9L504.4 1073.3L505.3 1074.2L506.2 1067.6L507.1 1074.6L508 1073.1L508.9 1082.2L509.8 1081L510.7 1093L511.6 1079.5L512.5 1088L513.4 1082.6L514.3 1080.5L515.2 1085.4L516.1 1068.2L517 1069.5L517.9 1073.1L518.8 1076.2L519.7 1070.7L520.6 1080.4L521.5 1077.7L522.4 1074.6L523.3 1079.4L524.2 1073.1L525.1 1068.7L526 1076.8L526.9 1067L527.8 1078.5L528.7 1078.1L529.6 1074.2L530.5 1072.8L531.4 1100.2L532.3 1074.3L533.2 1082.6L534.1 1073.2L535 1067.7L535 1070V774.5" stroke="#FFC215"/>
<path d="M205.3 1058.4L250.1 1057.4L276.3 1049.4L294.9 1055.4L309.4 1052.9L321.2 1044.4L331.1 1050.5L339.8 1051.1L347.4 1040L354.2 1050.5L360.4 1048.3L366 1054.2L371.2 1055.8L376 1069.8L380.4 1052.1L384.6 1050.9L388.5 1059L392.2 1049.8L395.7 1050.8L399 1044.7L402.2 1054.9L405.2 1055.6L408.1 1047.6L410.8 1054.8L413.5 1052.7L416 1043.1L418.4 1043.4L420.8 1052.5L423.1 1045.9L425.2 1055.5L427.4 1048.8L429.4 1053.7L431.4 1054.9L433.3 1055L435.2 1061.5L437 1068.4L438.8 1051.6L440.5 1061.9L442.2 1063.8L443.8 1059.4L445.4 1051.2L447 1047.8L448.5 1058.5L450 1053L451.5 1056.6L452.9 1047L454.3 1062.8L455.6 1059.8L457 1057.2L458.3 1054.4L459.6 1055.6L460.8 1073L462 1057.9L463.3 1047.3L464.4 1054.1L465.6 1044.5L466.7 1057.4L467.9 1073L469 1064.8L470.1 1057.8L471.1 1053.6L472.2 1065L473.2 1062.2L474.2 1062.4L475.2 1062.7L476.2 1061.4L477.2 1057.7L478.2 1063.6L479.1 1071.6L480 1064.7L481 1061.6L481.9 1060.4L482.8 1059.4L483.7 1067.7L484.6 1061.1L485.5 1056.7L486.4 1051.1L487.3 1057.1L488.2 1060L489.1 1059.3L490 1060.2L490.9 1055.2L491.8 1052L492.7 1046.9L493.6 1053.8L494.5 1064.3L495.4 1042.5L496.3 1061.9L497.2 1065.7L498.1 1071.7L499 1055L499.9 1052L500.8 1046.1L501.7 1058L502.6 1056.9L503.5 1060L504.4 1065.4L505.3 1049L506.2 1053.6L507.1 1060L508 1052.6L508.9 1050.7L509.8 1063.3L510.7 1067.8L511.6 1051.2L512.5 1067.3L513.4 1063.1L514.3 1061.8L515.2 1067.5L516.1 1055.4L517 1063.7L517.9 1052.8L518.8 1064.1L519.7 1042.2L520.6 1068.7L521.5 1069.3L522.4 1061.1L523.3 1059.6L524.2 1068.8L525.1 1051.7L526 1048.9L526.9 1068.8L527.8 1075.6L528.7 1067.1L529.6 1060.4L530.5 1056.9L531.4 1054L532.3 1056.5L533.2 1064.1L534.1 1074.1L535 1062L535.9 1063.6L536.8 1058.7L537.7 1055.9L538.6 1056.5L539.5 1055.6L540.4 1059L541.3 1058L542.2 1045L543.1 1050.8L543.3 1045.3V774.5" stroke="#FFC215"/>
<path d="M205.3 1045.1L250.1 1049.4L276.3 1046.4L294.9 1044.4L309.4 1044L321.2 1044.8L331.1 1040.4L339.8 1049.2L347.4 1057.3L354.2 1062.3L360.4 1046.3L366 1056L371.2 1053.8L376 1059.4L380.4 1058.6L384.6 1064.3L388.5 1051.4L392.2 1058.4L395.7 1054.3L399 1063.4L402.2 1063.2L405.2 1065.2L408.1 1056.4L410.8 1056L413.5 1056.6L416 1064.1L418.4 1065.6L420.8 1069.7L423.1 1067.3L425.2 1059L427.4 1059.8L429.4 1068.4L431.4 1061.9L433.3 1066.7L435.2 1068.1L437 1059.2L438.8 1041.5L440.5 1061.5L442.2 1066.2L443.8 1065.7L445.4 1064.2L447 1054.8L448.5 1055.2L450 1048.8L451.5 1065.2L452.9 1055.5L454.3 1061.4L455.6 1067.2L457 1058L458.3 1055L459.6 1072.6L460.8 1059.7L462 1068.4L463.3 1064.9L464.4 1075.4L465.6 1075.4L466.7 1067.7L467.9 1062.7L469 1058.8L470.1 1058.9L471.1 1067.2L472.2 1071.6L473.2 1062.3L474.2 1065.6L475.2 1061.2L476.2 1055.2L477.2 1053.5L478.2 1063.3L479.1 1057.1L480 1054.9L481 1070.9L481.9 1060.9L482.8 1064.2L483.7 1060.5L484.6 1056.5L485.5 1052.4L486.4 1058.5L487.3 1066.2L488.2 1100.3L489.1 1075.9L490 1065.5L490.9 1070.4L491.8 1073.1L492.7 1096.3L493.6 1084.1L494.5 1069.5L495.4 1057.7L496.3 1060L497.2 1064.6L498.1 1054.7L499 1064.6L499.9 1069.8L500.8 1059.9L501.7 1069.9L502.6 1065.9L503.5 1058.7L504.4 1059.7L505.3 1071.3L506.2 1074.8L507.1 1061.9L508 1069.9L508.9 1076.6L509.8 1061L510.7 1049.7L511.6 1068.7L512.5 1066.8L513.4 1067.9L514.3 1066.7L515.2 1060.7L516.1 1065.7L517 1058.8L517.9 1069.9L518.8 1066.4L519.7 1066.6L520 1070.3V774.5" stroke="#FFC215"/>
<path d="M205.3 1121.3L250.1 1153.6L276.3 1158L294.9 1158L309.4 1157.7L321.2 1156.1L331.1 1158L339.8 1155.4L347.4 1145.1L354.2 1135.9L360.4 1130.1L366 1126.1L371.2 1129.1L376 1124.5L380.4 1119.6L384.6 1125.1L388.5 1117.2L389.4 1124.1L390.3 1118.2L391 1121.8L391.3 1103" stroke="#FFC215"/>
<path d="M205.3 915.2L250.1 918.7L276.3 920L294.9 921.2L309.4 923L321.2 921.7L331.1 922.5L339.8 922.2L347.4 926.1L354.2 927.5L360.4 926.2L366 931.4L371.2 928.6L376 930.2L380.4 930.1L384.6 931.6L388.5 933.1L392.2 932.3L395.7 931.7L399 933.7L402.2 933.6L405.2 934.2L408.1 933.6L410.8 933.5L413.5 934.9L416 937L418.4 939.3L420.8 939.1L423.1 939.1L425.2 936.7L427.4 938.3L429.4 937.8L431.4 939.7L433.3 938.4L435.2 937.7L437 937.9L438.8 938.1L440.5 939.1L442.2 939.2L443.8 937.8L445.4 940.5L447 937.8L448.5 936.1L450 936.9L451.5 939.4L452.9 939.4L454.3 938.8L455.6 936.4L457 938.7L457.9 939.6L458 937.9V774.5" stroke="#EF4143"/>
<path d="M205.3 955.1L250.1 953.2L276.3 954L294.9 955.5L309.4 960.4L321.2 957.9L331.1 954.7L339.8 959.3L347.4 956.7L354.2 956.8L360.4 955L366 958.6L371.2 956.4L376 956.6L380.4 956.7L384.6 957.9L388.5 955.1L392.2 955.9L395.7 955L399 955.4L402.2 956.6L405.2 954.3L408.1 955.3L410.8 955L413.5 956.5L416 957.9L418.4 958.6L420.8 955.7L423.1 957L425.2 954.3L427.4 952.6L429.4 955.1L431.4 952.3L433.3 953.5L435.2 953.4L437 954.2L438.8 951.8L440.5 950.9L442.2 952.4L443.8 952.9L445.4 952.7L447 952.3L448.5 950.9L450 950.7L451.5 950.5L452.9 950.7L454.3 950.7L455.6 952.4L457 953.8L458.3 954.4L459.6 954.9L460.8 959.3L462 955.6L463.3 952.5L464.4 950.1L465.6 951.8L466.7 954.5L467.9 952.3L469 953.4L470.1 948.7L471.1 950.2L472.2 950.4L473.2 951.1L474.2 952.5L475.2 950.8L476.2 953.8L477.2 955.8L478.2 952.3L479.1 954L480 957.1L481 963.4L481.9 950.4L482.8 950.4L483.7 953.7L484.6 955.5L485.5 952.4L486.4 950.6L487.3 952.2L488.2 950.6L489.1 950.6L490 948.8L490.9 949.3L491.8 952.1L492.7 951.1L493.6 949.8L494.5 947.4L495.4 951.8L496.3 949.7L497.2 947.9L498.1 950.6L499 948.4L499.9 948.7L500.8 945.8L501.7 946.6L502.6 946.8L503.5 945.9L504.4 951L505.3 945L506.2 944L507.1 945.6L508 948.7L508.9 947.5L509.8 948.4L510.7 947.7L511.6 947.1L512.5 947.4L513.4 947.1L514.3 951.7L515.2 952.1L516.1 949.1L517 951.4L517.9 954.2L518.8 954L519.6 948.2V774.5" stroke="#EF4143"/>
<path d="M205.3 1004.1L250.1 994.9L276.3 988.9L294.9 982.8L309.4 980L321.2 978.5L331.1 975.9L339.8 974.6L347.4 972.8L354.2 970.3L360.4 967.5L366 966.6L371.2 964.2L376 963.9L380.4 961.6L384.6 960L388.5 958.3L392.2 955.4L395.7 953.9L399 953.3L402.2 952.3L405.2 953.1L408.1 952.2L410.8 951.6L413.5 950.2L416 949.6L418.4 950.1L420.8 948.8L423.1 948.4L425.2 948.3L427.4 948.4L429.4 948.2L431.4 948.3L433.3 948.1L435.2 948.5L437 948.2L438.8 948.3L440.5 947.2L442.2 946.7L443.8 946.8L445.4 946.2L447 945.7L448.5 946.4L450 946L451.5 945.6L452.9 946L454.3 946.3L455.6 946.9L457 945.9L458.3 945.4L459.6 944.4L460.8 943.7L462 943.6L463.3 943L464.4 942.6L465.6 942.8L466.7 942.2L467.9 941L469 940.7L470.1 940.8L471.1 941.1L472.2 941.3L473.2 941.5L474.2 941L475.2 942L476.2 940.9L477.2 939.4L478.2 941.9L479.1 941.5L480 942.4L481 943.6L481.9 942.4L482.8 941.7L483.7 941.2L484.6 941.8L485.5 941.3L486.4 941.4L487.3 947.1L488.2 942.1L489.1 942.7L490 943.7L490.9 945.7L491.8 943.5L492.7 942.7L493.6 944L494.5 943.6L495.4 941.5L496.3 942.8L497.2 944.7L498.1 941.8L499 942.7L499.9 942.9L500.8 943L501.7 944.2L502.6 940.8L503.5 940.9L504.4 942L505.3 942.3L506.2 940.6L507.1 941.1L508 942.1L508.9 941L509.8 957.5L510.7 938L511.6 937L512.5 938.8L513.4 935.4L514.3 939.2L515.2 939.3L516.1 936.9L517 936.8L517.9 938.1L518.8 936.2L519.7 938.8L520.1 935.8V774.5" stroke="#EF4143"/>
<path d="M205.3 936.3L250.1 939.2L276.3 939.7L294.9 941.8L309.4 942.7L321.2 944.2L331.1 944.8L339.8 944.3L347.4 945.4L354.2 946.2L360.4 946.1L366 989.9L371.2 991.7L376 990.6L380.4 991.3L384.6 992.1L388.5 993.1L392.2 994L395.7 993.8L399 950.2L402.2 950.5L405.2 950.9L408.1 951.5L410.8 951.2L413.5 951.8L416 951.8L418.4 950.5L420.8 951.4L423.1 952.4L425.2 951.9L427.4 951.4L429.4 950.6L431.4 950.4L433.3 950.7L435.2 951.2L437 951.3L438.8 950.7L440.5 950.7L442.2 950.7L443.8 949.3L445.4 949.4L447 949.5L448.5 950.8L450 950.9L451.5 949.6L452.9 950.2L454.3 950.9L455.6 950.7L457 950.2L458.3 949.5L459.6 950.5L460.8 951.3L462 949.8L463.3 950.5L464.4 951L465.6 950.8L466.7 950.8L467.9 951.7L469 951.7L470.1 951L471.1 951.1L472.2 950.9L473.2 951L474.2 950.3L475.2 949.9L476.2 950.5L477.2 950.5L478.2 950.8L479.1 951.8L480 949.8L481 949.3L481.9 950.5L482.8 948.8L483.7 950.4L484.6 948.8L485.5 949.7L486.4 947.7L487.3 948.4L488.2 947.9L489.1 946.5L490 948L490.9 947L491.8 947.8L492.7 949.6L493.6 948.9L494.5 947.7L495.4 947.6L496.3 947.5L497.2 947.5L498.1 949.7L499 948.7L499.9 949.8L500.8 952.1L501.7 950.8L502.6 952.3L503.5 951.3L504.4 950.8L505.3 948.2L506.2 948.8L507.1 951L508 948.3L508.9 945.4L509.8 947.8L510.7 950.7L511.6 952.3L512.5 950.9L513.4 950.4L514.3 951.5L515.2 949.4L516.1 965.9L517 949.2L517.9 948.8L518.8 962.2L519.7 948.5L520.6 947.9L521.5 948.3L522.4 950L523.3 947.8L524.2 950.6L525.1 950L526 955.3L526.9 951.9L527.8 950.3L528.7 950L529.6 947.4L530.5 950.9L531.4 950.6L532.3 954.4L533.2 952L534.1 956.8L535 963.9L535.9 953.4L536.8 950.3L537.7 952.3L538.6 950.9L539.5 947.1L540.4 955.6L541.3 955.3L542.2 949.9L543.1 955.6L544 952.9L544.9 949.1L545.8 944.2L546.7 952L547.5 944.5V774.5" stroke="#EF4143"/>
<path d="M205.3 978L250.1 973.8L276.3 965.6L294.9 957.5L309.4 957.3L321.2 960.7L331.1 959.7L339.8 960.7L347.4 958.5L354.2 961.4L360.4 960.8L366 964.8L371.2 963.3L376 975.9L380.4 975L384.6 977L388.5 974.6L392.2 976.6L395.7 982.2L399 982.3L402.2 977.3L405.2 965.4L408.1 963.8L410.8 964.3L413.5 963.7L416 963.8L418.4 962L420.8 955.3L423.1 960.4L425.2 965.9L427.4 961.3L429.4 966.6L431.4 961.9L433.3 960.3L435.2 959.2L437 959.4L438.8 958.6L440.5 959.3L442.2 962.4L443.8 963.1L445.4 961.5L447 964.3L448.5 957.9L450 959.7L451.5 962.2L452.9 958.5L454.3 960.2L455.6 958.7L457 959.9L458.3 959.8L459.6 959.2L460.8 963.4L462 963L463.3 961.7L464.4 959.3L465.6 959.6L466.7 955.6L467.9 960.7L469 960L470.1 961.9L471.1 956.5L472.2 951.3L473.2 952.3L474.2 954.9L475.2 951.4L476.2 956L477.2 955.8L478.2 952.5L479.1 955.1L480 961.9L481 957.7L481.9 956.8L482.8 952.7L483.7 951.6L484.6 954.2L485.5 951.1L486.4 954.5L487.3 952L488.2 951.5L489.1 947.8L490 952.6L490.9 951.8L491.8 952L492.7 948.6L493.6 951.2L494.5 952.5L495.4 950.6L496.3 950.2L497.2 949.9L498.1 950.9L499 955.4L499.9 948.5L500.8 951L501.7 953L502.6 948L503.5 947.6L504.4 949.5L505.3 953.3L506.2 951.6L507.1 950.3L508 956.9L508.9 954.8L509.8 950.7L510.7 940.7L511.6 947.3L512.5 948.3L513.4 972L514.3 947.1L515.2 952.5L516.1 946.9L517 946.1L517.9 949L518.8 951.6L519.7 953.3L520.6 954.6L521.5 948.8L522.4 948.9L523.3 948.4L524.2 942.9L525.1 947.2L526 944.2L526.9 951L527.8 947.5L528.7 953.3L529.6 949.5L530.5 951.5L531.4 948.7L532.3 951L533.2 949.6L534.1 950.2L535 952.3L535.9 944.9L536.8 957.4L537.7 949.8L538.6 946.6L539.5 947.9L540.4 943.1L541.3 951.7L542.2 945.8L543.1 942.6L544 946.2L544.9 945.5L545.8 982.8L546.7 943.1L547.6 950.3L548.5 957.1L549.4 946.7L550.3 951L551.2 952L551.7 946.3V774.5" stroke="#EF4143"/>
<path d="M205.3 897.1L250.1 898.7L276.3 900.7L294.9 896.9L309.4 900L321.2 903.2L331.1 904.9L339.8 906.5L347.4 908.9L354.2 908.4L360.4 908.2L366 909.4L371.2 908.8L376 908.1L380.4 912.6L384.6 911.7L388.5 911.8L392.2 914.9L395.7 915.6L399 913L402.2 914.9L405.2 916.7L408.1 920.5L410.8 922L413.5 918L416 921.1L418.4 921.1L420.8 922.4L423.1 918.5L425.2 919.4L427.4 921.4L429.4 918.9L431.4 918L433.3 917.9L435.2 920.2L437 918.5L438.8 918L440.5 919.1L442.2 920.4L443.8 921.9L445.4 921.2L447 921.2L448.5 921.2L450 921.2L451.5 922.8L452.9 924.7L454.3 925.1L455.6 921.4L457 921.4L458.3 923.1L459.6 923.6L460.8 924.6L462 926L463.3 926.2L464.4 925.8L465.6 926.4L466.7 927.2L467.9 926.1L469 928.5L470.1 926.6L471.1 927.4L472.2 928.8L473.2 927.1L474.2 925.6L475.2 927.1L476.2 923.1L477.2 924.7L478.2 926.7L479.1 926.3L480 926.4L481 928.2L481.9 927.5L482.8 926.5L483.7 929.9L484.6 956.1L485.5 954.6L486.4 957L487.3 955.9L488.2 955.9L489.1 957.6L490 957.2L490.9 958L491.8 954.7L492.7 956.7L493.6 953.8L494.5 968.4L495.4 956.1L496.3 956.8L497.2 955.7L498.1 954.4L499 959L499.9 959.8L500.8 959.4L501.7 971.9L502.6 956.5L503.5 955.3L504.4 953.1L505.3 956.5L506.2 955.4L507.1 957.2L508 952.8L508.9 959.4L509.8 955.4L510.7 961.6L511.6 959.5L512.5 954.9L513.4 953.3L514.3 952.9L515.2 952.5L516.1 961.9L517 960.2L517.9 959.1L518.8 954.7L519.7 957.1L520.6 957.2L521.5 957.3L522.4 953.3L523.3 959.7L524.2 961.3L525.1 957L526 962.2L526.9 962.5L527.8 962L528.7 958.4L529.6 961L530.5 952.3L531.4 957.3L532.3 963.7L533.2 958.2L534.1 964.8L535 961.6L535.9 961.2L536.8 957.5L537.7 961L538.6 963L539.5 936.2L540.4 935.7L541.3 929.7L542.2 934.8L543.1 935.5L544 937.1L544.9 934.9L545.8 941.1L546.7 935.8L547.6 929.8L548.5 925.6L549.4 929.9L550.3 931.6L551.2 934.6L552.1 927.9L553 932.3L553.9 925.2L554.8 933.7L555.7 931.2L556.6 940.8L557.5 935.6L558.4 938.3L559.3 952.4L560.2 932.1L561.1 936L562 933.1L562.9 932.4L563.8 927.3L564.7 926.5L565.6 933.2L566.5 938.3L567.4 932.5L568.3 934.9L569.2 935.6L570.1 931.7L571 929.3L571.9 933.6L572.8 925.5L573.7 931.4L574.6 927.8L575.5 931.5L576.4 951.4L577.3 928.2L578.2 929.9L579.1 926.1L580 928.9L580.9 916.5L581.8 932.9L582.7 926.7L583.6 923.1L584.5 929.4L585.4 925.4L586.3 918.9L587.2 925.6L588.1 918.9L589 933.3L589.9 928.9L590.8 928.7L591.7 925.5L592.6 927.5L593.5 930.2L594.4 926.4L595.3 922.5L596.2 930.7L597.1 936L598 932.8L598.9 933.3L599.8 932.8L600.2 991.2V774.5" stroke="#EF4143"/>
<path d="M205.3 852.4L250.1 853L276.3 853.5L294.9 854.6L309.4 854.6L321.2 854.9L331.1 854.9L339.8 855.6L347.4 855.7L354.2 855.8L360.4 855.2L366 855.7L371.2 855.2L376 856.3L380.4 855.7L384.6 855.6L388.5 855.6L392.2 855.7L395.7 856.2L399 855.8L402.2 856.1L405.2 856.5L408.1 857.6L410.8 856.7L413.5 857.2L416 857.7L418.4 857.9L420.8 858.8L423.1 858.7L425.2 859.3L427.4 859.9L429.4 860.5L431.4 860.5L433.3 860.9L435.2 861.3L437 861.2L438.8 861.6L440.5 862L442.2 862.7L443.8 863.2L445.4 863.3L447 862.9L448.5 863L450 863.2L451.5 863.5L452.9 864.1L454.3 864.2L455.6 864.8L457 864.9L458.3 865.5L459.6 865.1L460.8 865.2L462 865.8L463.3 865.7L464.4 866.4L465.6 866.8L466.7 866.7L467.9 867.4L469 866.8L470.1 867L471.1 867.6L472.2 867.8L473.2 867.8L474.2 868.3L475.2 868L476.2 868.5L477.2 868.5L478.2 868.7L479.1 869.1L480 868.8L481 869.1L481.9 869.4L482.8 869.5L483.7 869L484.6 869.3L485.5 870L486.4 870.1L487.3 870.7L488.2 870.5L489.1 871L490 870.6L490.9 871.1L491.8 870.8L492.7 871.6L493.6 872L494.5 872.4L495.4 872L496.3 872.2L497.2 871.7L498.1 871.6L499 872.3L499.9 872.4L500.8 872.1L501.7 872.9L502.6 873.4L503.5 872.5L504.4 872.7L505.3 873.1L506.2 872.9L507.1 872.9L508 873.3L508.9 873.7L509.8 873.7L510.7 874L511.6 873.5L512.5 873.8L513.4 874.5L514.3 873.7L515.2 873.5L516.1 873.5L517 874.5L517.9 874.7L518.8 874.4L519.7 874.3L520.6 874.6L521.5 875.1L522.4 875.3L523.3 875.3L524.2 875.7L525.1 875.9L526 876.4L526.9 876.8L527.8 877.1L528.7 877.8L529.6 878.4L530.5 878.3L531.4 879.6L532.3 879.8L533.2 880.1L534.1 880.2L535 881.6L535.9 881.8L536.8 899.5L537.7 882.6L538.6 883.2L539.5 883.3L540.4 883.6L541.3 884.6L542.2 884.9L543.1 885.4L544 886.1L544.9 886.9L545.8 887L546.7 887.3L547.6 887.9L548.5 888.4L549.4 889.2L550.3 889.8L551.2 890.9L552.1 891.6L553 892.8L553.9 892.1L554.8 893.8L555.7 894.5L556.6 894.8L557.5 896.3L558.4 896.2L559.3 897.3L560.2 897.2L561.1 897.4L562 898.7L562.9 899.6L563.8 899.9L564.7 901.3L565.6 902L566.5 901.6L567.4 903.4L568.3 903.5L569.2 904.8L570.1 904.3L571 904.9L571.9 905.2L572.8 905.9L573.7 906.6L574.6 907.6L575.5 909.2L576.4 908.2L577.3 907.2L578.2 907.9L579.1 909.5L580 911L580.9 909.6L581.8 911.7L582.7 912.3L583.6 913.3L584.5 915.1L585.4 913.4L586.3 913.4L587.2 913.2L588.1 917.6L589 916.3L589.9 916.9L590.8 915.5L591.7 914.7L592.6 915.2L593.5 917.1L594.4 917.1L595.3 918.8L596.2 917.6L597.1 917.9L598 920.9L598.9 920.3L599.8 919.8L600.7 919.7L601.6 917.1L602.5 921.3L603.4 919.5L604.3 922.1L605.2 919.9L606.1 921.5L607 922L607.9 921.1L608.8 921.7L609.7 919.7L610.6 920.9L611.5 924.2L612.4 924.8L613.3 920.5L614.2 924.8L615.1 924.9L616 922.5L616.9 926.1L617.8 924.3L618.7 925.7L619.6 922.7L620.5 923.9L621.4 922.1L622.3 927.7L623.2 925.8L624.1 927.9L625 931.2L625.5 928.9V774.5" stroke="#EF4143"/>
<path d="M205.3 976.7L250.1 969L276.3 969L294.9 962.2L309.4 963.3L321.2 963.8L331.1 962.6L339.8 961.9L347.4 961.2L354.2 957.2L360.4 957.7L366 954.7L371.2 952.8L376 954.8L380.4 956.5L384.6 956.9L388.5 955.6L392.2 958.1L395.7 954L399 957.4L402.2 957.2L405.2 952.4L408.1 954.1L410.8 949L413.5 946.4L416 947.3L418.4 944.9L420.8 950.1L423.1 950.9L425.2 946.5L427.4 950.2L429.4 952.1L431.4 949.7L433.3 950.2L435.2 944L437 942.1L438.8 942.6L440.5 943.3L442.2 943.1L443.8 945.9L445.4 945.9L447 945.5L448.5 945.7L450 946.3L451.5 943.3L452.9 943.6L454.3 944.5L455.6 941.8L457 945.1L458.3 941.6L459.6 941.5L460.8 941.1L462 942L463.3 942.1L464.4 937.8L465.6 942.2L466.7 936L467.9 938.1L469 937.9L470.1 940.4L471.1 936L472.2 940L473.2 942L474.2 940.9L475.2 937.3L476.2 942.8L477.2 941.5L478.2 946.3L479.1 941.5L480 945L481 942.2L481.9 936.2L482.8 939.2L483.7 937.5L484.6 939.8L485.5 940.2L486.4 944.7L487.3 935.3L488.2 939.9L489.1 934.9L490 941.1L490.9 937.8L491.8 947.6L492.7 943.1L493.6 936.2L494.5 934.7L495.4 939L496.3 939.7L497.2 940.6L498.1 941.9L499 948.2L499.9 941L500.8 935.6L501.7 932.5L502.6 939.2L503.5 942.8L504.4 935.6L505.3 939.2L506.2 941.3L507.1 945L508 944.2L508.9 944.7L509.8 943.7L510.7 937L511.6 940.3L512.5 937.6L513.4 937.9L514.3 942L515.2 941.3L516.1 941.9L517 941.5L517.9 944.5L518.8 940.7L519.7 939.9L520.6 940L521.5 945.4L522.4 946.4L523.3 937.9L524.2 934.2L525.1 942.1L526 940.3L526.9 942.6L527.8 947.7L528.7 934.6L529.6 931.5L530.5 941.1L531.4 937.7L532.3 939.2L533.2 940L534.1 930.2L535 929.6L535.9 937.8L536.8 938.7L537.7 935.5L538.6 937.3L539.5 943.9L540.4 949L541.3 951.8L542.2 946.2L543.1 939.4L544 943.6L544.9 936.9L545.8 944.2L546.7 945.1L547.6 943L548.5 944.6L549.4 938.3L550.3 939.3L551.2 941.7L552.1 940.8L553 938.7L553.9 936.8L554.8 936.2L555.7 941.2L556.6 934.3L557.5 933L558.4 937.7L559.3 961.6L560.2 938.8L561.1 939.4L562 929L562.9 947.2L563.8 941.2L564.7 940.5L565.6 941L566.5 941.2L567.4 936L568.3 934.8L569.2 938.3L570.1 930.7L571 936.4L571.9 937.1L572.8 935.4L573.7 928L574.6 936L575.5 942.8L576.4 937.3L577.3 939.7L578.2 935.2L579.1 937.4L580 962.7L580.9 945L581.8 946.5L582.7 944.8L583.6 938.3L584.5 946.2L585.4 954.3L586.3 932.6L587.2 937.9L588.1 942.7L589 945.5L589.9 937L590.8 935.2L591.7 944.4L592.6 947.1L593.5 942.2L594.4 939.1L595.3 951.2L596.2 951.3L597.1 937.5L598 939L598.9 953.6L599.8 935.2L600.7 932.3L601.6 938.6L602.5 941.5L603.4 931.9L604.3 938.1L605.2 939.9L606.1 934.5L607 940.7L607.9 939.8L608.8 923.8L609.7 930.4L610.6 942L611.5 938.2L612.4 936.3L613.3 945.5L614.2 936L615.1 930.8L616 936L616.9 940.1L617.8 941L618.7 943.9L619.6 939.5L620.5 945.1L621.4 946.4L622.3 945L623.2 939.4L624.1 937.5L625 958L625.9 936L626.8 945.4L627.6 942.2V774.5" stroke="#EF4143"/>
<path d="M205.3 843.5L250.1 843.5L276.3 843.4L294.9 843.3L309.4 843.4L321.2 843.1L331.1 843.6L339.8 843.6L347.4 844L354.2 844.1L360.4 844L366 844L371.2 844.1L376 844.5L380.4 844.2L384.6 844L388.5 844.4L392.2 844.5L395.7 844.3L399 844.4L402.2 844.8L405.2 844.5L408.1 844.7L410.8 845L413.5 845.5L416 846.3L418.4 846.4L420.8 846.6L423.1 846.8L425.2 847.4L427.4 848.1L429.4 848.2L431.4 848.5L433.3 849.1L435.2 848.9L437 849.5L438.8 849.5L440.5 850.5L442.2 850.7L443.8 851.2L445.4 851.4L447 851.7L448.5 852L450 852.7L451.5 853.4L452.9 853.4L454.3 853.9L455.6 853.7L457 854L458.3 854.4L459.6 854.4L460.8 854.7L462 855.6L463.3 855.3L464.4 855.4L465.6 856L466.7 856.3L467.9 856.8L469 857L470.1 856.7L471.1 857L472.2 856.9L473.2 857.2L474.2 857.3L475.2 857.7L476.2 858.1L477.2 858L478.2 858.3L479.1 858.5L480 859.2L481 859.1L481.9 859.2L482.8 859.6L483.7 859.3L484.6 859.9L485.5 860.2L486.4 859.8L487.3 861L488.2 860.6L489.1 860.3L490 860.3L490.9 860.7L491.8 860.9L492.7 860.7L493.6 860.9L494.5 861.5L495.4 861.8L496.3 861.6L497.2 862.3L498.1 862L499 862.4L499.9 862.6L500.8 862.8L501.7 862.8L502.6 863.1L503.5 863.3L504.4 862.9L505.3 863.3L506.2 863.7L507.1 863.7L508 863.6L508.9 863.8L509.8 863.6L510.7 863.5L511.6 864.4L512.5 864.7L513.4 864.2L514.3 864L515.2 864.9L516.1 864.8L517 864.5L517.9 864.9L518.8 865L519.7 865.7L520.6 866.1L521.5 865.9L522.4 865.8L523.3 866.2L524.2 866.4L525.1 866.5L526 866.6L526.9 867.6L527.8 867.9L528.7 868.3L529.6 869.5L530.5 869.6L531.4 869.9L532.3 870.8L533.2 871.4L534.1 872L535 872.6L535.9 873.3L536.8 872.8L537.7 874.4L538.6 874.6L539.5 876.1L540.4 876.1L541.3 877.2L542.2 877.8L543.1 878.2L544 878.9L544.9 879.6L545.8 880.1L546.7 881.4L547.6 882L548.5 882.5L549.4 882.7L550.3 884L551.2 885.3L552.1 886L553 886.7L553.9 886.6L554.8 887.6L555.7 888L556.6 889.2L557.5 890.1L558.4 890.1L559.3 891.2L560.2 891.8L561.1 891.6L562 893.4L562.9 893.7L563.8 895L564.7 895.7L565.6 895.8L566.5 896.5L567.4 911.2L568.3 898.4L569.2 900.9L570.1 900.6L571 901.7L571.9 902.9L572.8 902.3L573.7 902.4L574.6 904L575.5 904.9L576.4 906.1L577.3 905.4L578.2 905.7L579.1 907.9L580 908.5L580.9 910L581.8 908.9L582.7 909.5L583.6 910.2L584.5 909.8L585.4 912.3L586.3 912L587.2 927.9L588.1 912.7L589 914L589.9 913.6L590.8 913.4L591.7 914.4L592.6 916.2L593.5 915.8L594.4 918.2L595.3 918.8L596.2 936.3L597.1 920L598 918.8L598.9 917.5L599.8 918.7L600.7 920L601.6 918.6L602.5 919.1L603.4 920L604.3 919.9L605.2 921.2L606.1 920.6L607 920.1L607.9 920.8L608.8 924.1L609.7 926.6L610.6 922.4L611.5 922.8L612.4 923.9L613.3 921.7L614.2 925.8L615.1 924.6L616 943.2L616.9 923.1L617.8 992.4L618.7 927.6L619.6 927.6L620.5 927.9L621.4 926.8L622.3 925.3L623.2 929.1L624.1 929.8L625 927.9L625.9 928.9L626.8 928L627.7 928.8L628.6 928.9L629.5 929.6L630.4 929.2L631.3 928.8L632.2 931.8L633.1 932.8L634 935L634.9 931L635.8 936.9L636.7 939.9L637.6 938.2L638.5 936.6L639.4 934.3L640.3 949.6L641.2 937.5L642.1 935.4L643 940.9L643.9 943.4L644.8 940.6L645.7 942.9L646.6 939.2L647.5 942.5L648.4 939.9L649.3 941.8L650.2 939.9L651.1 940L652 936.8L652.9 939.3L653 941.6V774.5" stroke="#EF4143"/>
<path d="M205.3 927.4L250.1 930.1L276.3 933L294.9 934.6L309.4 935.7L321.2 935.8L331.1 937.2L339.8 937.5L347.4 938.9L354.2 940.2L360.4 941.9L366 943.2L371.2 943.7L376 944.5L380.4 944.9L384.6 945.2L388.5 945.5L392.2 945.4L395.7 946.9L399 947.2L402.2 949.3L405.2 950L408.1 950.1L410.8 950.1L413.5 950.5L416 949.9L418.4 950.2L420.8 951.7L423.1 951L425.2 951.1L427.4 952.1L429.4 952.1L431.4 952.1L433.3 952.2L435.2 952.2L437 952L438.8 952.6L440.5 951.7L442.2 951.7L443.8 952.7L445.4 951.4L447 950.9L448.5 950.8L450 951.1L451.5 951.2L452.9 951.4L454.3 952L455.6 951.1L457 951.5L458.3 951.4L459.6 951.6L460.8 951L462 950.6L463.3 951.6L464.4 952.3L465.6 951.4L466.7 951.2L467.9 952.1L469 952.7L470.1 953.8L471.1 953.2L472.2 953.4L473.2 952.8L474.2 953.1L475.2 954.4L476.2 954L477.2 955.2L478.2 954.5L479.1 953.7L480 954.6L481 955.4L481.9 953.8L482.8 953.5L483.7 953.4L484.6 953.9L485.5 954.6L486.4 954L487.3 954.3L488.2 955.3L489.1 955.4L490 953.6L490.9 953.6L491.8 952.3L492.7 954.3L493.6 954.9L494.5 952.2L495.4 953.6L496.3 954.8L497.2 953.8L498.1 955.5L499 954.8L499.9 952.4L500.8 952.3L501.7 954.2L502.6 955.2L503.5 955.5L504.4 954.7L505.3 954.7L506.2 955.6L507.1 954.5L508 954.9L508.9 953.7L509.8 955.5L510.7 956.5L511.6 955.9L512.5 955.5L513.4 958L514.3 958.8L515.2 956.5L516.1 958.6L517 955.7L517.9 954.3L518.8 953.3L519.7 952.9L520.6 958.1L521.5 954.8L522.4 956.4L523.3 952.4L524.2 951.3L525.1 952.2L526 957.6L526.9 959.9L527.8 991.4L528.7 950.1L529.6 951.2L530.5 952.8L531.4 947.6L532.3 949.1L533.2 957L534.1 953.4L535 953.5L535.9 953.1L536.8 956.5L537.7 955.9L538.6 957.3L539.5 956.2L540.4 951.8L541.3 952.2L542.2 957.8L543.1 958.9L544 956.3L544.9 956.3L545.8 954L546.7 956.5L547.6 958.1L548.5 954.6L549.4 946.9L550.3 953.8L551.2 952L552.1 950.8L553 951.8L553.9 955.8L554.8 956.4L555.7 951.9L556.6 957L557.5 955.6L558.4 951.2L559.3 949.8L560.2 956.2L561.1 954.9L562 955L562.9 952.1L563.8 952.1L564.7 955.6L565.6 949.8L566.5 957.1L567.4 958.9L568.3 956.8L569.2 957.1L570.1 958.6L571 960.4L571.9 962.4L572.8 960.4L573.7 952.3L574.6 961.8L575.5 949.5L576.4 956.3L577.3 956.3L578.2 943.1L579.1 953.7L580 959L580.9 954.3L581.8 953.3L582.7 960.8L583.6 954L584.5 953.5L585.4 959.1L586.3 957.9L587.2 961.8L588.1 957L589 960.8L589.9 956.5L590.8 952.7L591.7 981L592.6 949L593.5 951.5L594.4 956.2L595.3 952.9L596.2 958.2L597.1 959.5L598 968.7L598.9 963.3L599.8 959.6L600.7 958.4L601.6 965.4L602.5 958L603.4 958.3L604.3 945.5L605.2 951.7L606.1 949.8L607 955.3L607.9 946.7L608.8 958.9L609.7 959.7L610.6 954.3L611.5 960.3L612.4 954.2L613.3 948.1L614.2 946.9L615.1 950.5L616 963.4L616.9 961.5L617.8 963.1L618.7 959.4L619.6 957.7L620.5 960.1L621.4 954.7L622.3 960.9L623.2 961.9L624.1 952.1L625 955.6L625.9 964.4L626.8 965.4L627.7 970L628.6 956.2L629.5 955.7L630.4 965L631.3 951.9L632.2 952L633.1 954.1L634 949.2L634.9 946.6L635.8 942.9L636.7 954.3L637.6 946.8L638.5 946L639.4 969.5L640.3 948L641.2 959.8L642.1 966.1L643 960.2L643.9 966.9L644.8 967.9L645.7 953.8L646.6 954.9L647.5 954.9L648.4 958L649.3 958.3L650.2 956.2L651.1 958L652 963.4L652.9 952.5L653.8 948.3L654.7 954.3L655.6 961.9L656.5 963.2L657.4 961.1L658.3 947.9L659.2 949.4L660.1 955.1L661 953.9L661.9 960.1L662.8 964.9L663.5 958.7V774.5" stroke="#EF4143"/>
<path d="M205.3 868.2L250.1 868.7L276.3 869.6L294.9 869.6L309.4 870.3L321.2 870.4L331.1 870.8L339.8 871.1L347.4 871.3L354.2 871.5L360.4 871.2L366 871.4L371.2 871L376 871.6L380.4 871.9L384.6 872L388.5 872L392.2 872.1L395.7 872.2L399 872L402.2 872.8L405.2 873.1L408.1 873.2L410.8 873.3L413.5 873.3L416 873.8L418.4 874.2L420.8 874.1L423.1 874.5L425.2 874.9L427.4 875L429.4 875.5L431.4 875.9L433.3 876.8L435.2 876.4L437 876.3L438.8 877.4L440.5 877.5L442.2 877.8L443.8 877.7L445.4 878.2L447 878.5L448.5 878.7L450 879.1L451.5 879.6L452.9 879.9L454.3 880.3L455.6 880.2L457 880.9L458.3 880.8L459.6 881L460.8 881.6L462 881.7L463.3 881.4L464.4 882L465.6 881.9L466.7 882.1L467.9 882.3L469 882.8L470.1 882.9L471.1 883.2L472.2 883.3L473.2 883.5L474.2 883.9L475.2 883.5L476.2 884.4L477.2 884.4L478.2 884.6L479.1 884.6L480 884.7L481 884.7L481.9 884.8L482.8 885.1L483.7 885.1L484.6 885L485.5 885.6L486.4 885.9L487.3 885.9L488.2 886.6L489.1 886.2L490 886.3L490.9 886.6L491.8 887.3L492.7 886.8L493.6 887.2L494.5 887.1L495.4 887.3L496.3 887L497.2 887.4L498.1 887.7L499 887.7L499.9 887.7L500.8 887.9L501.7 888.6L502.6 888.2L503.5 888.6L504.4 888.6L505.3 889.1L506.2 889.1L507.1 889.3L508 889.6L508.9 889.6L509.8 889.1L510.7 889.2L511.6 889.3L512.5 889.5L513.4 889.6L514.3 889.5L515.2 889.3L516.1 889.9L517 889.9L517.9 890.4L518.8 889.6L519.7 890L520.6 890.2L521.5 890L522.4 890.7L523.3 890.9L524.2 891.3L525.1 891.3L526 891.7L526.9 891.7L527.8 891.6L528.7 892L529.6 892.5L530.5 893L531.4 893.1L532.3 894L533.2 894L534.1 894.5L535 894.6L535.9 894.5L536.8 895.6L537.7 895.4L538.6 895.1L539.5 896.3L540.4 896.4L541.3 896.7L542.2 896.8L543.1 897.7L544 898.4L544.9 899.2L545.8 899.9L546.7 899.4L547.6 900.4L548.5 900.5L549.4 900.9L550.3 900.6L551.2 901.2L552.1 901.4L553 901.7L553.9 903L554.8 903.1L555.7 904.2L556.6 903L557.5 903.5L558.4 905.6L559.3 906.2L560.2 906.8L561.1 906.1L562 906.3L562.9 907.3L563.8 906.9L564.7 907.7L565.6 907.6L566.5 908.5L567.4 909.6L568.3 910L569.2 909.5L570.1 910.1L571 910.2L571.9 911.5L572.8 911.9L573.7 911.5L574.6 913L575.5 914.2L576.4 913.4L577.3 912.7L578.2 913.7L579.1 913.7L580 914L580.9 915.7L581.8 915.3L582.7 916.3L583.6 915.9L584.5 917L585.4 917.3L586.3 916.7L587.2 918.3L588.1 919.5L589 918.7L589.9 917.5L590.8 918.7L591.7 917L592.6 919.5L593.5 918L594.4 917.4L595.3 920.7L596.2 920.1L597.1 921.8L598 921.7L598.9 921.3L599.8 920.7L600.7 920L601.6 921.7L602.5 923.6L603.4 922.5L604.3 921.4L605.2 921.6L606.1 924L607 921.8L607.9 921.1L608.8 921.2L609.7 920.7L610.6 918L611.5 922.5L612.4 922.7L613.3 923.4L614.2 921.8L615.1 922.3L616 923.4L616.9 924.3L617.8 921.5L618.7 922.9L619.6 923.6L620.5 925.8L621.4 926.8L622.3 922.1L623.2 922.8L624.1 927.6L625 923L625.9 920.7L626.8 920.9L627.7 922.4L628.6 924.2L629.5 925.5L630.4 922.7L631.3 921.6L632.2 920.2L633.1 927.1L634 945.5L634.9 928.9L635.8 927.1L636.7 930.6L637.6 923.9L638.5 924.1L639.4 929.4L640.3 926.2L641.2 921.1L642.1 930.5L643 929.4L643.9 932L644.8 932.1L645.7 933.1L646.6 932.8L647.5 929L648.4 934.6L649.3 928.7L650.2 932.9L651.1 929.4L652 928.3L652.9 937L653.8 935.7L654.7 933.2L655.6 930.1L656.5 953.7L657.4 930.1L658.3 934.3L659.2 934.4L660.1 934.8L661 928.8L661.9 936.5L662.8 936.2L663.7 929.3L664.6 945L665.5 931.2L666.4 927.3L667.3 931.7L668.2 935L669.1 924.6L670 925.9L670.9 932.7L671.8 929.3L672.7 935.5L673.6 941L674.5 938.9L675.4 931.9L676.3 942.1L677.2 933.7L678.1 936.4L679 956.1L679.9 929.6L680.8 931.6L681.7 928.8L682.6 938.6L683.5 930L683.5 948.5V774.5" stroke="#EF4143"/>
<path d="M205.3 949.6L250.1 950L276.3 950.2L294.9 949.9L309.4 948.7L321.2 948.3L331.1 947.1L339.8 947.1L347.4 946.3L354.2 946.6L360.4 946.1L366 946.8L371.2 947L376 946.4L380.4 945.5L384.6 945.2L388.5 944.5L392.2 944.3L395.7 945.4L399 944.8L402.2 944.8L405.2 944.3L408.1 945.6L410.8 944.4L413.5 944.3L416 944.5L418.4 944.4L420.8 943.5L423.1 943L425.2 943.4L427.4 943.9L429.4 944.6L431.4 943.6L433.3 943.1L435.2 941.8L437 941.9L438.8 942.6L440.5 942.1L442.2 941.6L443.8 941.9L445.4 941.9L447 941.1L448.5 941.9L450 941.5L451.5 941.3L452.9 942.1L454.3 941.8L455.6 941.1L457 941.8L458.3 942.2L459.6 943.4L460.8 943.4L462 944.5L463.3 944.8L464.4 943.6L465.6 943.6L466.7 942.5L467.9 942.9L469 942.7L470.1 942.9L471.1 942.1L472.2 942L473.2 943L474.2 941.5L475.2 941.8L476.2 942.4L477.2 941.4L478.2 941.3L479.1 940.9L480 940.9L481 942.1L481.9 940.5L482.8 941.9L483.7 941.8L484.6 943.4L485.5 943.4L486.4 943.1L487.3 942.6L488.2 942.7L489.1 944L490 943.4L490.9 945.8L491.8 943.6L492.7 945.3L493.6 943.9L494.5 946.4L495.4 945.3L496.3 942.6L497.2 942.8L498.1 943.2L499 943.6L499.9 942.1L500.8 937.8L501.7 942.1L502.6 942L503.5 942L504.4 939.8L505.3 943.5L506.2 941.1L507.1 941.5L508 941.5L508.9 941.8L509.8 942L510.7 939.3L511.6 943.2L512.5 945.3L513.4 942.9L514.3 943.4L515.2 942.3L516.1 940.1L517 941.1L517.9 942.2L518.8 940L519.7 946.2L520.6 980L521.5 944.2L522.4 939.1L523.3 942.2L524.2 943.6L525.1 942.5L526 941.8L526.9 941.4L527.8 942.6L528.7 942.6L529.6 944.3L530.5 942.7L531.4 937.4L532.3 937.7L533.2 945.4L534.1 943.5L535 942.7L535.9 940.4L536.8 966.9L537.7 943.6L538.6 942.2L539.5 941L540.4 941.3L541.3 938.9L542.2 957.2L543.1 945.2L544 943.3L544.9 937.6L545.8 941.3L546.7 971.7L547.6 940.5L548.5 942.9L549.4 942.2L550.3 937.6L551.2 940.1L552.1 934L553 941.6L553.9 935.8L554.8 941.6L555.7 950.3L556.6 939.3L557.5 945.7L558.4 937.2L559.3 938.5L560.2 942.4L561.1 947L562 943.4L562.9 950L563.8 942.4L564.7 944.1L565.6 945.9L566.5 945L567.4 939.2L568.3 954.7L569.2 951.7L570.1 945.2L571 948L571.9 952.1L572.8 948L573.7 949.6L574.6 953.8L575.5 951.8L576.4 947.6L577.3 939.1L578.2 948.9L579.1 952.9L580 946.7L580.9 954.9L581.8 955.3L582.7 956.7L583.6 960.4L584.5 949.4L585.4 953.8L586.3 946.8L587.2 950.2L588.1 941.6L589 939.1L589.9 947.8L590.8 947.4L591.7 950.6L592.6 947L593.5 941.6L594.4 944.2L595.3 947.9L596.2 954.6L597.1 952.8L598 940.5L598.9 947.5L599.8 949L600.7 942.4L601.6 939.2L602.5 945.9L603.4 947.2L604.3 946.8L605.2 952.6L606.1 957.6L607 954.2L607.9 946.1L608.8 950.1L609.7 957.2L610.6 948.8L611.5 952.9L612.4 948.2L613.3 954.4L614.2 956.4L615.1 949.7L616 985.2L616.9 943L617.8 945.4L618.7 949L619.6 947.9L620.5 951.6L621.4 952.5L622.3 949.3L623.2 950.4L624.1 947.1L625 947L625.9 947.1L626.8 961.5L627.7 950.6L628.6 950.7L629.5 953.6L630.4 950.1L631.3 954.2L632.2 948.7L633.1 949L634 951.8L634.9 951.6L635.8 953.6L636.7 959L637.6 943.3L638.5 936.9L639.4 947.2L640.3 956.9L641.2 955.3L642.1 945.6L643 950.1L643.9 947.1L644.8 940.1L645.7 946.7L646.6 951.2L647.5 950.1L648.4 948.6L649.3 957.4L650.2 960.1L651.1 949.8L652 944.4L652.9 946.3L653.8 949.2L654.7 946.8L655.6 943.3L656.5 953.2L657.4 943.8L658.3 946.6L659.2 945.5L660.1 945.7L661 953.2L661.9 948.7L662.8 949.1L663.7 949.4L664.6 944.1L665.5 939.3L666.4 942.9L667.3 944.6L668.2 944L669.1 941.2L670 946.1L670.9 948L671.8 945.3L672.7 945.5L673.6 940.6L674.5 947.7L675.4 943.4L676.3 949.6L677.2 951.6L678.1 947.4L679 945.5L679.9 950.3L680.8 949.8L681.7 939.1L682.6 942.5L683.5 940.9L684.4 951.1L685.3 949.8L686.2 951.8L687.1 968.5L688 955.4L688.9 952.4L689.8 950.6L690.7 956.2L691.6 961.7L692.5 957.7L693.4 955.9L694.3 953.7L695.2 949L696.1 943.6L697 943.2L697.9 993.7L698.8 941.9L699.4 943.4V774.5" stroke="#EF4143"/>
<path d="M205.3 966.8L250.1 965.1L276.3 961.1L294.9 960.5L309.4 992.8L321.2 992.9L331.1 990.7L339.8 989.1L347.4 989.5L354.2 985.9L360.4 988.5L366 986.9L371.2 987L376 985.5L380.4 986.2L384.6 984.1L388.5 984.1L392.2 984.3L395.7 983.1L399 980.3L402.2 981.1L405.2 984.9L408.1 955.6L410.8 958.6L413.5 957.4L416 954.7L418.4 952L420.8 952.2L423.1 953L425.2 953.6L427.4 950.8L429.4 956.4L431.4 955.6L433.3 954.7L435.2 953.9L437 954.4L438.8 954.9L440.5 952.6L442.2 952.5L443.8 951L445.4 951.6L447 948.1L448.5 948.5L450 951L451.5 949L452.9 948.3L454.3 950.6L455.6 968.7L457 949.5L458.3 951.1L459.6 953L460.8 954.3L462 953L463.3 952.1L464.4 954.5L465.6 951.2L466.7 954.5L467.9 949L469 951.9L470.1 950.8L471.1 948.3L472.2 951.2L473.2 948.7L474.2 948.8L475.2 949.7L476.2 948.5L477.2 946.5L478.2 949.7L479.1 952.7L480 950.1L481 947.8L481.9 948.7L482.8 948.6L483.7 950.7L484.6 951.5L485.5 947.1L486.4 946.4L487.3 948.3L488.2 950.1L489.1 949.1L490 948.8L490.9 947.7L491.8 950.2L492.7 947.6L493.6 951.2L494.5 954L495.4 947.2L496.3 949.7L497.2 951.4L498.1 950.8L499 950.6L499.9 947.6L500.8 948.8L501.7 948L502.6 948.6L503.5 945L504.4 946.4L505.3 948.4L506.2 951L507.1 952.9L508 950L508.9 955.3L509.8 950.4L510.7 948.3L511.6 950.1L512.5 946.9L513.4 949.2L514.3 945.4L515.2 945.5L516.1 948.4L517 947L517.9 946.8L518.8 946.5L519.7 944.9L520.6 946.3L521.5 946.4L522.4 943.4L523.3 943.3L524.2 943.3L525.1 943.9L526 947.8L526.9 948.4L527.8 944.6L528.7 943.9L529.6 944.7L530.5 944.4L531.4 945.2L532.3 945.8L533.2 940.9L534.1 945.3L535 941.4L535.9 937.9L536.8 941.7L537.7 943.7L538.6 940L539.5 939.3L540.4 938L541.3 940.7L542.2 944.3L543.1 940.8L544 940.6L544.9 939.5L545.8 944.6L546.7 942.3L547.6 947.5L548.5 947.4L549.4 944.7L550.3 949L551.2 943.4L552.1 943.1L553 944.5L553.9 942.9L554.8 941.8L555.7 942.4L556.6 944.3L557.5 943.2L558.4 941.5L559.3 942.1L560.2 945.8L561.1 949.3L562 939.4L562.9 934.5L563.8 933.8L564.7 938L565.6 942.7L566.5 940.2L567.4 947.2L568.3 933.3L569.2 938.8L570.1 934.2L571 941.3L571.9 942.2L572.8 943.1L573.7 944.1L574.6 942.2L575.5 939.2L576.4 941.1L577.3 967.1L578.2 946.1L579.1 954.1L580 952.7L580.9 945.2L581.8 947.3L582.7 951.6L583.6 946.3L584.5 990L585.4 940.6L586.3 934.2L587.2 932.6L588.1 924.1L589 936L589.9 943.2L590.8 948.4L591.7 942.1L592.6 945.2L593.5 951.5L594.4 947.6L595.3 947.5L596.2 951.9L597.1 950.7L598 943.6L598.9 938.7L599.8 944.2L600.7 943.9L601.6 935.5L602.5 926.4L603.4 936.1L604.3 949.8L605.2 945.9L606.1 939.7L607 942.1L607.9 940.7L608.8 945.3L609.7 943.1L610.6 937L611.5 941.8L612.4 934.2L613.3 947.5L614.2 954.1L615.1 940.5L616 940L616.9 943.2L617.8 948.5L618.7 967.9L619.6 964.6L620.5 945.9L621.4 942.2L622.3 944.1L623.2 942.1L624.1 950.4L625 961.3L625.9 950.3L626.8 952.7L627.7 937.1L628.6 934.2L629.5 945.6L630.4 950L631.3 946L632.2 941.7L633.1 944.4L634 944.1L634.9 938.1L635.8 935.9L636.7 941.3L637.6 947.7L638.5 945.7L639.4 942.9L640.3 952L641.2 942.8L642.1 936.2L643 949L643.9 941.6L644.8 946.5L645.7 934.5L646.6 948.7L647.5 944.2L648.4 937.5L649.3 945.8L650.2 944.5L651.1 956.8L652 957.7L652.9 953.8L653.8 939.8L654.7 944L655.6 949.8L656.5 944.3L657.4 957.2L658.3 948.2L659.2 947.6L660.1 938.2L661 936.7L661.9 950.1L662.8 947.1L663.7 945.2L664.6 942.5L665.5 935L666.4 931.4L667.3 941.1L668.2 938.5L669.1 939.1L670 962.7L670.9 951.5L671.8 942.6L672.7 939.2L673.6 939.5L674.5 952.3L675.4 938.7L676.3 936.8L677.2 937.5L678.1 947.5L679 948.9L679.9 935.9L680.8 938.3L681.7 939.1L682.6 937.9L683.5 937.9L684.4 937.6L685.3 939.4L686.2 944.1L687.1 948.6L688 948.8L688.9 933.9L689.8 942.9L690.7 947.5L691.6 946.2L692.5 946.9L693.4 949.4L694.3 951.8L695.2 946.2L696.1 941.8L697 944.6L697.9 947.8L698.8 948.5L699.7 944.3L700.6 956.3L701.5 944.8L702.4 945L703.3 947.4L704.2 946.2L705.1 946L706 944L706.9 944L707.8 945.8L708.7 947.9L709.6 949.5L710.5 946.6L710.5 945.6V774.5" stroke="#EF4143"/>
<path d="M205.3 901L250.1 911.8L276.3 916.9L294.9 918L309.4 920L321.2 923L331.1 922.8L339.8 922.3L347.4 917.6L354.2 918.4L360.4 913.4L366 916.6L371.2 919.7L376 928.9L380.4 921L384.6 922.5L388.5 921.6L392.2 923.1L395.7 925L399 921.4L402.2 923.3L405.2 925.4L408.1 920.6L410.8 920.5L413.5 932.7L416 934.8L418.4 931.3L420.8 937.8L423.1 940.5L425.2 943.3L427.4 940.9L429.4 942.3L431.4 942L433.3 943.5L435.2 938.9L437 941.7L438.8 938L440.5 938L442.2 944.2L443.8 940L445.4 939.5L447 938.8L448.5 940.1L450 941.4L451.5 938.4L452.9 935.2L454.3 942.1L455.6 941.3L457 937L458.3 938.6L459.6 937.8L460.8 937.6L462 935.2L463.3 938.9L464.4 924.4L465.6 924.1L466.7 920L467.9 922.2L469 919.7L470.1 922L471.1 924.9L472.2 926.5L473.2 929.2L474.2 926.3L475.2 925.2L476.2 928.3L477.2 923L478.2 922.7L479.1 925.5L480 928.2L481 931.5L481.9 932.8L482.8 929.6L483.7 929.5L484.6 925.5L485.5 926.3L486.4 928.9L487.3 922.7L488.2 929.6L489.1 928.6L490 924.8L490.9 927.5L491.8 926.9L492.7 928.9L493.6 923.3L494.5 924.7L495.4 931L496.3 927.2L497.2 922.2L498.1 924L499 925.5L499.9 925.7L500.8 933.2L501.7 933.5L502.6 930.6L503.5 931.7L504.4 927.3L505.3 935.6L506.2 936.3L507.1 933L508 937.5L508.9 933.4L509.8 935.8L510.7 930.8L511.6 932.9L512.5 930.7L513.4 934.2L514.3 934.6L515.2 947.7L516.1 939.4L517 933.3L517.9 935.6L518.8 937.2L519.7 937.3L520.6 933.7L521.5 932.8L522.4 934.8L523.3 935.6L524.2 933.7L525.1 930.3L526 935.3L526.9 933.4L527.8 941.8L528.7 941.8L529.6 936.5L530.5 936.5L531.4 939.1L532.3 943.6L533.2 936.9L534.1 935.5L535 936.1L535.9 939.6L536.8 933L537.7 936.7L538.6 938.3L539.5 933.4L540.4 934.1L541.3 924.9L542.2 930.9L543.1 953.8L544 924.4L544.9 929.1L545.8 932.4L546.7 936.7L547.6 935.6L548.5 927.9L549.4 934.4L550.3 938.7L551.2 931.6L552.1 935.3L553 933.8L553.9 932.9L554.8 938.1L555.7 941.1L556.6 936L557.5 935.9L558.4 929.1L559.3 929.2L560.2 933.4L561.1 934.2L562 931.5L562.9 929.1L563.8 934.4L564.7 935.9L565.6 938L566.5 936.8L567.4 931.6L568.3 939L569.2 931.4L570.1 930.9L571 934.3L571.9 941.5L572.8 955.9L573.7 931.3L574.6 929.7L575.5 935.3L576.4 944.1L577.3 938.3L578.2 937.3L579.1 931.9L580 937.6L580.9 941.9L581.8 932L582.7 935.8L583.6 931.5L584.5 929.3L585.4 927.1L586.3 932.6L587.2 936.9L588.1 940L589 933.7L589.9 935.1L590.8 927.2L591.7 923.9L592.6 930.8L593.5 930.6L594.4 927.9L595.3 930.9L596.2 944.7L597.1 932.1L598 929.9L598.9 931L599.8 932.6L600.7 926.6L601.6 930L602.5 929.8L603.4 925.4L604.3 925.7L605.2 926.3L606.1 923.5L607 932L607.9 933.8L608.8 923.2L609.7 931.2L610.6 928.9L611.5 932.7L612.4 935L613.3 928.8L614.2 938.8L615.1 933.4L616 934.6L616.9 924.5L617.8 930L618.7 931.2L619.6 955.4L620.5 942L621.4 954L622.3 938.7L623.2 936.5L624.1 934.4L625 927L625.9 926.9L626.8 927.3L627.7 934.1L628.6 927.9L629.5 931.7L630.4 935.4L631.3 920.9L632.2 929.6L633.1 931.2L634 928.5L634.9 925L635.8 931.7L636.7 928.1L637.6 946.4L638.5 937.4L639.4 928.6L640.3 932.2L641.2 945.4L642.1 932.8L643 933.1L643.9 931.8L644.8 932.9L645.7 937.7L646.6 942.2L647.5 932.4L648.4 939.2L649.3 943.3L650.2 930.3L651.1 931.2L652 932.1L652.9 937.5L653.8 936.7L654.7 936.8L655.6 937L656.5 937.6L657.4 937.9L658.3 936.3L659.2 945.6L660.1 940.7L661 934.5L661.9 928.6L662.8 928.7L663.7 938.1L664.6 934.4L665.5 938.6L666.4 944.5L667.3 942.6L668.2 941.5L669.1 939.1L670 944.7L670.9 941.4L671.8 936.1L672.7 938.3L673.6 931.2L674.5 940.9L675.4 940.5L676.3 933.8L677.2 936.2L678.1 939.9L679 941.7L679.9 930.8L680.8 944L681.7 943.7L682.6 941.6L683.5 936.4L684.4 933.1L685.3 940.2L686.2 946.8L687.1 935.8L688 946.3L688.9 942.2L689.8 945.8L690.7 937.5L691.6 946.7L692.5 932.6L693.4 932.1L694.3 932.8L695.2 939L696.1 936.1L697 940.6L697.9 951.4L698.8 947L699.7 936L700.6 927.2L701.5 965.9L702.4 937.1L703.3 943.7L704.2 933.5L705.1 936.9L706 936.8L706.9 966.9L707.8 931.9L708.7 935.5L709.6 944.8L710.5 942.4L711.4 949.5L712.3 955.6L713.2 948.7L714.1 945.7L715 933.3L715.9 942.3L716.8 939.6L717.7 947.3L718.6 940.5L719.5 941.6L720.4 950.4L721.3 944.5L722.2 939.3L723.1 941.9L724 944.7L724.9 941L725.8 941.6L726.7 949.2L726.8 942V774.5" stroke="#EF4143"/>
<path d="M205.3 990.1L250.1 984.9L276.3 976.4L294.9 970.9L309.4 994.7L321.2 993.9L331.1 993.7L339.8 991.4L347.4 991.3L354.2 964.6L360.4 965L366 965.1L371.2 965L376 963.3L380.4 962.8L384.6 961.5L388.5 964.2L392.2 962.1L395.7 961.7L399 958.9L402.2 957.9L405.2 959.8L408.1 958.4L410.8 958.6L413.5 957.1L416 957.9L418.4 957.3L420.8 958.1L423.1 961.1L425.2 957.8L427.4 958.2L429.4 956.7L431.4 957.1L433.3 957.7L435.2 960.2L437 959.8L438.8 955.7L440.5 955.8L442.2 956.1L443.8 957.6L445.4 956.3L447 955.5L448.5 957L450 955.6L451.5 959.1L452.9 958.3L454.3 955.4L455.6 953.4L457 955.9L458.3 954.3L459.6 958.2L460.8 953.2L462 955L463.3 952.4L464.4 954.9L465.6 956.8L466.7 955.5L467.9 958.3L469 957.4L470.1 954.5L471.1 957.7L472.2 958.3L473.2 953.9L474.2 952.3L475.2 953L476.2 953.1L477.2 949.2L478.2 949.6L479.1 953.4L480 949.8L481 952.4L481.9 953.1L482.8 949.6L483.7 947.5L484.6 948.7L485.5 950.6L486.4 948.6L487.3 946.6L488.2 949.1L489.1 947.8L490 949L490.9 946.5L491.8 949.8L492.7 947.1L493.6 949.1L494.5 948.5L495.4 947.4L496.3 945.8L497.2 946L498.1 947.4L499 951.6L499.9 945.1L500.8 948.6L501.7 980.5L502.6 945.8L503.5 945.6L504.4 945.2L505.3 943L506.2 946L507.1 944.6L508 949.6L508.9 946.4L509.8 943.4L510.7 944.6L511.6 943.3L512.5 947.2L513.4 947.3L514.3 948.2L515.2 943.9L516.1 982.9L517 948.2L517.9 944.1L518.8 961.5L519.7 941.5L520.6 951.2L521.5 943.1L522.4 946.4L523.3 947.1L524.2 946.6L525.1 946.4L526 946.2L526.9 946.7L527.8 946L528.7 950L529.6 946.6L530.5 947.1L531.4 949.4L532.3 949.1L533.2 943.2L534.1 946.4L535 944.4L535.9 946.4L536.8 952L537.7 952.3L538.6 956.2L539.5 948.2L540.4 943.5L541.3 948.8L542.2 947.5L543.1 940.6L544 941.8L544.9 940.8L545.8 939L546.7 945.9L547.6 941.7L548.5 943.6L549.4 945.9L550.3 944.8L551.2 943.2L552.1 945.6L553 941.7L553.9 943.6L554.8 943.7L555.7 943.1L556.6 944.4L557.5 945.9L558.4 937L559.3 939.9L560.2 934.7L561.1 940.1L562 947.6L562.9 941.9L563.8 943.6L564.7 946.2L565.6 947.2L566.5 939.2L567.4 936.1L568.3 933.8L569.2 940.3L570.1 944.4L571 945.1L571.9 947.7L572.8 946.6L573.7 942.2L574.6 941.6L575.5 941.2L576.4 938.4L577.3 946.6L578.2 945.9L579.1 952.1L580 938.9L580.9 934.2L581.8 938.1L582.7 942.8L583.6 947.2L584.5 936.1L585.4 947.5L586.3 937.4L587.2 941.3L588.1 945.9L589 939.7L589.9 934.4L590.8 934L591.7 950L592.6 947.3L593.5 948.7L594.4 938.4L595.3 935.5L596.2 936.2L597.1 938.3L598 946.2L598.9 946.3L599.8 938.3L600.7 950.2L601.6 953.6L602.5 944.5L603.4 950.8L604.3 944.3L605.2 946.7L606.1 945.3L607 950L607.9 940.5L608.8 943.1L609.7 939.7L610.6 935.2L611.5 930.2L612.4 931.5L613.3 926.4L614.2 935.6L615.1 939.3L616 936L616.9 941.6L617.8 946.9L618.7 943L619.6 936.6L620.5 951.2L621.4 930.4L622.3 942.3L623.2 935.1L624.1 938.1L625 933.4L625.9 937.5L626.8 944.9L627.7 937.5L628.6 935.2L629.5 930L630.4 941.5L631.3 936L632.2 943.5L633.1 942.5L634 951.8L634.9 941.9L635.8 944.1L636.7 982.6L637.6 954.9L638.5 943.2L639.4 940.4L640 942.2" stroke="#EF4143"/>
<path d="M205.3 883.6L250.1 890.9L276.3 895.1L294.9 899.5L309.4 901.4L321.2 903.2L331.1 904.9L339.8 905.4L347.4 906.9L354.2 907.8L360.4 908.1L366 909.6L371.2 911.9L376 912.5L380.4 913.7L384.6 914.1L388.5 915.2L392.2 916.3L395.7 917.8L399 918.9L402.2 920.1L405.2 921.5L408.1 921.7L410.8 922.4L413.5 924.1L416 925.4L418.4 925.8L420.8 926.4L423.1 927.4L425.2 927.2L427.4 928.1L429.4 928.9L431.4 929.5L433.3 929.7L435.2 928.9L437 928.7L438.8 929.1L440.5 929.6L442.2 929.8L443.8 930.8L445.4 929.9L447 929.8L448.5 929.5L450 928.7L451.5 930.1L452.9 930L454.3 930.3L455.6 930L457 930.6L458.3 931.6L459.6 930.8L460.8 930.6L462 931.7L463.3 930.8L464.4 932.1L465.6 932.7L466.7 933.6L467.9 933.4L469 933.4L470.1 934L471.1 932.5L472.2 933L473.2 935.3L474.2 934L475.2 934L476.2 934.4L477.2 932.6L478.2 934L479.1 935.2L480 934.1L481 936.3L481.9 937.1L482.8 935.6L483.7 937.6L484.6 935.8L485.5 936L486.4 935.8L487.3 933.5L488.2 936.6L489.1 935.6L490 936.8L490.9 938L491.8 937.4L492.7 936.3L493.6 936L494.5 939L495.4 940.2L496.3 938L497.2 939L498.1 937.3L499 938.5L499.9 938.5L500.8 936.9L501.7 940.7L502.6 939L503.5 939.7L504.4 942.1L505.3 940.8L506.2 940.8L507.1 938.9L508 938.7L508.9 941.3L509.8 940.6L510.7 941.5L511.6 942.1L512.5 940.8L513.4 942.3L514.3 943.7L515.2 945.1L516.1 943.8L517 939.6L517.9 941.1L518.8 940.9L519.7 946.2L520.6 943.9L521.5 942.8L522.4 940.2L523.3 944L524.2 942.4L525.1 943.8L526 946.6L526.9 944.9L527.8 943.2L528.7 938.5L529.6 940.4L530.5 943.7L531.4 943.7L532.3 942.2L533.2 943.5L534.1 944.9L535 947.4L535.9 945.5L536.8 949.6L537.7 950.3L538.6 948.4L539.5 942.1L540.4 945.9L541.3 945.7L542.2 948.2L543.1 950.3L544 947.7L544.9 945.8L545.8 948.2L546.7 946.4L547.6 953.5L548.5 940.6L549.4 943.6L550.3 943.8L551.2 943.9L552.1 938.9L553 948L553.9 941.7L554.8 942.4L555.7 948L556.6 948.1L557.5 943.5L558.4 942.2L559.3 947.6L560.2 965.9L561.1 944.9L562 943.5L562.9 944.3L563.8 946.5L564.7 937.7L565.6 950.9L566.5 942.7L567.4 948.1L568.3 953.7L569.2 947.3L570.1 948.3L571 950.7L571.9 954.5L572.8 945.2L573.7 949.6L574.6 955.2L575.5 951.4L576.4 952.5L577.3 951.2L578.2 944.1L579.1 938.1L580 939.2L580.9 949.3L581.8 944.1L582.7 959.6L583.6 947.9L584.5 951.3L585.4 947.5L586.3 944.9L587.2 948.9L588.1 958.4L589 952L589.9 955.5L590.8 950.2L591.7 951.6L592.6 961.7L593.5 952.6L594.4 958.9L595.3 951.4L596.2 944.6L597.1 949.2L598 947.1L598.9 946.4L599.8 943.2L600.7 952.5L601.6 946.6L602.5 946.1L603.4 956.8L604.3 950.2L605.2 986.8L606.1 950L607 959.1L607.9 948.1L608.8 956.8L609.7 941.7L610.6 953.2L611.5 952.9L612.4 974.1L613.3 947.6L614.2 976L615.1 955.9L616 950.8L616.9 943.3L617.8 949.7L618.7 951.5L619.6 942L620.5 951.5L621.4 947.7L622.3 955.7L623.2 946.6L624.1 947.9L625 946.1L625.9 952.7L626.8 945.9L627.7 945.4L628.6 953L629.5 944L630.4 946.5L631.3 942.4L632.2 946.1L633.1 954.3L634 952.8L634.9 948.9L635.8 949.3L636.7 949.9L637.6 963.8L638.5 946.6L639.4 957.8L640.3 961.2L641.2 954.8L642.1 954L643 946.6L643.9 941.4L644.8 947.4L645.7 956.3L646.6 946.1L647.5 956.8L648.4 955.5L649.3 953.4L650.2 953.6L651.1 958.9L652 949.8L652.9 954.7L653.8 955.1L654.7 956.7L655.6 949.2L656.5 949.4L657.4 944.9L658.3 962L659.2 957.9L660.1 958.2L661 958.3L661.9 956.6L662.8 952.6L663.7 950.6L664.6 947.9L665.5 948.2L666.4 947.6L667.3 951.6L668.2 955.4L669.1 956.5L670 951.8L670.9 951.8L671.8 951.8L672 953.7" stroke="#EF4143"/>
<path d="M205.3 1011.5L250.1 999.5L276.3 993.4L294.9 988.7L309.4 988L321.2 984.9L331.1 986.1L339.8 983.7L347.4 983L354.2 980.4L360.4 982.3L366 980L371.2 979.9L376 979L380.4 978.4L384.6 979.1L388.5 974.9L392.2 977.6L395.7 975L399 972.2L402.2 973.9L405.2 972L408.1 971.9L410.8 971.2L413.5 970.6L416 971L418.4 973.4L420.8 973.4L423.1 971.3L425.2 971.6L427.4 972L429.4 972.3L431.4 969.7L433.3 968.7L435.2 966L437 969.9L438.8 971.5L440.5 970.6L442.2 971.2L443.8 969.6L445.4 972L447 968L448.5 969.9L450 970.2L451.5 970.9L452.9 971.3L454.3 968.7L455.6 967.9L457 971.2L458.3 968.2L459.6 971.1L460.8 969.9L462 968.9L463.3 971.6L464.4 969.6L465.6 967.3L466.7 968.3L467.9 969.1L469 966L470.1 967.8L471.1 967.9L472.2 967.4L473.2 964.4L474.2 963.2L475.2 964.5L476.2 963.8L477.2 964L478.2 964.9L479.1 966.1L480 966.6L481 966.9L481.9 963.5L482.8 967.3L483.7 962.8L484.6 964L485.5 965.1L486.4 966.6L487.3 968.5L488.2 969.6L489.1 971L490 969.3L490.9 966.5L491.8 970.2L492.7 967.2L493.6 971.7L494.5 964.9L495.4 965.6L496.3 963.6L497.2 964.7L498.1 965.7L499 963.8L499.9 965.2L500.8 966.6L501.7 964.8L502.6 965.8L503.5 961.5L504.4 966L505.3 993.9L506.2 960.8L507.1 960.8L508 958.9L508.9 957.9L509.8 960.5L510.7 961.1L511.6 962.2L512.5 960.9L513.4 956.4L514.3 963.5L515.2 965.1L516.1 957.5L517 961.6L517.9 959.8L518.8 959.2L519.7 962.8L520.6 964L521.5 959.4L522.4 959.5L523.3 954L524.2 953.4L525.1 957.5L526 955.9L526.9 953L527.8 951.7L528.7 957.3L529.6 950.7L530.5 956.8L531.4 963.4L532.3 961.8L533.2 951.4L534.1 956.1L535 960.2L535.9 959.4L536.8 957.2L537.7 952.7L538.6 955.3L539.5 957.1L540.4 958.4L541.3 961.4L542.2 969.1L543.1 962.9L544 962.4L544.9 964.8L545.8 959L546.7 959.5L547.6 957.2L548.5 954.7L549.4 957.6L550.3 952L551.2 952.4L552.1 948.2L553 946.1L553.9 952.5L554.8 961.7L555.7 955.8L556.6 951.8L557.5 954.9L558.4 951.5L559.3 951.4L560.2 957.1L561.1 954L562 954.6L562.9 947.9L563.8 956.6L564.7 955.8L565.6 947.4L566.5 948.8L567.4 945.8L568.3 945.7L569.2 948.4L570.1 940.1L571 938.7L571.9 944.7L572.8 944.1L573.7 959.5L574.6 955.2L575.5 947.8L576.4 953.7L577.3 951.2L578.2 952.1L579.1 963.8L580 958.3L580.9 953.2L581.8 959.5L582.7 959.4L583.6 956.8L584.5 960L585.4 953.9L586.3 958.8L587.2 961.2L588.1 950.7L589 950.7L589.9 956.6L590.8 961.8L591.7 955.2L592.6 950.3L593.5 955.5L594.4 957L595.3 956.8L596.2 954.8L597.1 946.7L598 955.2L598.9 958.9L599.8 959.7L600.7 948.6L601.6 944.4L602.5 944L603.4 955.1L604.3 955.1L605.2 956.6L606.1 949.8L607 953.9L607.9 955.8L608.8 957.9L609.7 952.6L610.6 948.1L611.5 954.8L612.4 953.4L613.3 949.6L614.2 946.9L615.1 944L616 953.8L616.9 952.7L617.8 960.1L618.7 955.6L619.6 951.6L620.5 947.2L621.4 943.7L622.3 951.3L623.2 942.6L624.1 955.4L625 954.5L625.9 948.5L626.8 948.5L627.7 950L628.6 950.2L629.5 963.3L630.4 952.1L631.3 947L632.2 948.6L633.1 944.4L634 949.9L634.9 956.4L635.8 966.9L636.7 952.8L637.6 953.7L638.5 952.2L639.4 952.1L640.3 953.2L641.2 952.7L642.1 951.5L643 954.2L643.9 954.4L644.8 956.8L645.7 947.4L646.6 944.8L647.5 947L648.4 952L649.3 950.5L650.2 946.5L651.1 945.9L652 936.9L652.9 955.9L653.8 954.6L654.7 953.7L655.6 944.2L656.5 958.5L657.4 948.4L658.3 949.1L659.2 951.2L660.1 957.4L661 946.9L661.9 957.4L662.8 955.9L663.7 944.4L664.6 946.9L665.5 951.8L666.4 947.5L667.3 933.4L668.2 943.4L669.1 943.5L670 938.6L670.9 942.9L671.8 950.4L672.7 950.9L673.6 943.3L674.5 949.2L675.4 949.1L676.3 959.2L677.2 944.8L678.1 948.2L679 948.6L679.9 954.1L680.8 947.7L681.7 951L682.6 947.2L683.5 950.1L684.4 944.8L685.3 951.9L686.2 946.3L687.1 948L688 951L688.9 953L689.8 943.5L690 940.6" stroke="#EF4143"/>
<path d="M205.3 962.1L250.1 962.3L276.3 961.4L294.9 961.1L309.4 962.4L321.2 961.7L331.1 960L339.8 958.4L347.4 959.1L354.2 957.9L360.4 958.3L366 958.2L371.2 956.5L376 955.7L380.4 956.7L384.6 956.7L388.5 955.7L392.2 953.5L395.7 955.6L399 953.9L402.2 952.1L405.2 951.2L408.1 951.8L410.8 951.3L413.5 951.1L416 951L418.4 951.4L420.8 951L423.1 951.4L425.2 950.7L427.4 950.6L429.4 951.1L431.4 951.9L433.3 952.4L435.2 951.8L437 951L438.8 950.2L440.5 949.5L442.2 950.1L443.8 948.9L445.4 949L447 947.8L448.5 947.7L450 947.4L451.5 947.8L452.9 947.4L454.3 947.1L455.6 947.5L457 946.9L458.3 946.3L459.6 946.6L460.8 947L462 946.8L463.3 947.6L464.4 946.5L465.6 946.7L466.7 946.9L467.9 948.1L469 947.4L470.1 946.7L471.1 948.1L472.2 947.5L473.2 947.4L474.2 948L475.2 947.3L476.2 947.2L477.2 949.2L478.2 947.9L479.1 947.2L480 947.7L481 947.6L481.9 949.7L482.8 949.2L483.7 949.1L484.6 950.5L485.5 951.1L486.4 950.6L487.3 951.4L488.2 951.3L489.1 952.1L490 952.9L490.9 952.5L491.8 953L492.7 951.5L493.6 951.5L494.5 950.4L495.4 952.8L496.3 952.7L497.2 950.4L498.1 949.4L499 951.4L499.9 950.8L500.8 952.2L501.7 949.7L502.6 954.6L503.5 953.9L504.4 953.9L505.3 952.5L506.2 951.4L507.1 953L508 951.3L508.9 952.7L509.8 951.2L510.7 949.8L511.6 952.8L512.5 952L513.4 950.3L514.3 950.1L515.2 950.4L516.1 952.5L517 950.8L517.9 961.9L518.8 951.6L519.7 948L520.6 950.6L521.5 951.1L522.4 953.1L523.3 953.7L524.2 949.6L525.1 950.1L526 955.1L526.9 951.4L527.8 952.2L528.7 949.2L529.6 953.5L530.5 953.3L531.4 951.7L532.3 951.2L533.2 955.9L534.1 951L535 955.9L535.9 953.6L536.8 953.5L537.7 954.4L538.6 954.8L539.5 955.3L540.4 957.4L541.3 948.9L542.2 958.5L543.1 950L544 954.5L544.9 957.4L545.8 954.8L546.7 954.3L547.6 956.8L548.5 958.6L549.4 957.8L550.3 958.4L551.2 958.8L552.1 957.5L553 957.4L553.9 951.4L554.8 953.2L555.7 951.9L556.6 959.4L557.5 951.6L558.4 958.9L559.3 949.6L560.2 956.2L561.1 955.1L562 955.1L562.9 949.4L563.8 944.1L564.7 956.3L565.6 959.4L566.5 959.3L567.4 953.9L568.3 990.8L569.2 953L570.1 949.8L571 947.3L571.9 948.2L572.8 951.4L573.7 946.7L574.6 949L575.5 949.7L576.4 968L577.3 957.7L578.2 953.2L579.1 952.2L580 957.9L580.9 952.2L581.8 953.6L582.7 944.9L583.6 943.7L584.5 947L585.4 942.4L586.3 948.5L587.2 948.2L588.1 943.4L589 952.8L589.9 951.7L590.8 954.6L591.7 952.3L592.6 943.6L593.5 942.2L594.4 940.6L595.3 942L596.2 949.4L597.1 949.5L598 942.6L598.9 952.2L599.8 953L600.7 955.8L601.6 949.3L602.5 957.5L603.4 957.8L604.3 941.4L605.2 953.2L606.1 946.4L607 949.2L607.9 947.3L608.8 958.6L609.7 954L610.6 947.2L611.5 950.1L612.4 945.3L613.3 947.6L614.2 943.6L615.1 948.4L616 952.4L616.9 950.6L617.8 951.1L618.7 935.8L619.6 950.9L620.5 941.6L621.4 950.8L622.3 953.4L623.2 949L624.1 948L625 949.8L625.9 947.1L626.8 945.6L627.7 942.1L628.6 940.5L629.5 946.3L630.4 944.4L631.3 944L632.2 942.6L633.1 954.8L634 944.7L634.9 947.2L635.8 949.9L636.7 948.4L637.6 950.1L638.5 953.3L639.4 959.2L640.3 965.3L641.2 959.8L642.1 953.5L643 947.1L643.9 956.4L644.8 947.3L645.7 952.1L646.6 952.6L647.5 950.9L648.4 951.6L649.3 951.7L650.2 939.6L651.1 970.5L652 941.2L652.9 947.2L653.8 955.8L654.7 946.6L655.6 935.5L656.5 940L657.4 936.3L658.3 949.6L659.2 952.9L660.1 948.8L661 962.9L661.9 954.3L662.8 956L663.7 952.7L664.6 951.3L665.5 947.4L666.4 960.9L667.3 963.6L668.2 961L669.1 946.5L670 952.1L670.9 952.4L671.8 944.7L672.7 950.3L673.6 952.8L674.5 949L675.4 947.3L676.3 949.5L677.2 953.7L678.1 957.8L679 954.1L679.9 959.3L680.8 966.8L681.7 949.7L682.6 944.1L683.5 955L684.4 945.9L685.3 958.8L686.2 955.7L687.1 956.8L688 956.1L688.9 950.7L689.8 952.2L690.7 957.4L691.6 964.8L692.5 951.4L693.4 954.5L694.3 961.9L695.2 958.4L696.1 964.1L697 953.1L697.9 955.8L698.8 951.8L699.7 952.1L700.6 957.8L701.5 964.5L702.4 959.9L703.3 961.4L704.2 958.8L705 962.2" stroke="#EF4143"/>
<path d="M205.3 957.3L250.1 956.1L276.3 955.7L294.9 955.4L309.4 955.5L321.2 955.1L331.1 953.7L339.8 953.3L347.4 953L354.2 953.4L360.4 953.2L366 952.2L371.2 953.1L376 953.1L380.4 971L384.6 952.8L388.5 950.1L392.2 950.5L395.7 950.8L399 949.5L402.2 950.6L405.2 950.4L408.1 951.7L410.8 951.7L413.5 964.2L416 950.4L418.4 950.7L420.8 995.1L423.1 950.9L425.2 951.7L427.4 950.9L429.4 950.9L431.4 950.9L433.3 952.7L435.2 952.6L437 952.2L438.8 951.9L440.5 952L442.2 949L443.8 949.2L445.4 953.7L447 952.3L448.5 949.5L450 950.5L451.5 949.6L452.9 950.8L454.3 950.5L455.6 952.9L457 950.2L458.3 951.4L459.6 949.1L460.8 951.2L462 951.6L463.3 948L464.4 945.8L465.6 979.1L466.7 949.5L467.9 952.2L469 951.2L470.1 954L471.1 948L472.2 973.1L473.2 949L474.2 949.4L475.2 948.2L476.2 947.2L477.2 951.1L478.2 943.2L479.1 947.5L480 948.1L481 1001.5L481.9 948.4L482.8 949.7L483.7 947.7L484.6 945L485.5 949.3L486.4 945.5L487.3 989.9L488.2 952.7L489.1 950L490 948.5L490.9 950.9L491.8 950.8L492.7 949.7L493.6 949.8L494.5 954.3L495.4 950L496.3 950.9L497.2 951.6L498.1 947.2L499 947.4L499.9 984.5L500.8 946.7L501.7 950.8L502.6 951.1L503.5 948.8L504.4 952.3L505.3 948.9L506.2 949.9L507.1 948.9L508 949.2L508.9 956.2L509.8 952.7L510.7 949.3L511.6 947.3L512.5 949.1L513.4 946.5L514.3 962L515.2 941.6L516.1 943.9L517 946.7L517.9 942L518.8 944.3L519.7 948.7L520.6 948L521.5 947.4L522.4 951.4L523.3 953.2L524.2 962.9L525.1 949L526 984L526.9 955.4L527.8 938.3L528.7 945.3L529.6 967.1L530.5 1007.3L531.4 937L532.3 946.6L533.2 949.2L534.1 942.5L535 940.2L535.9 951.6L536.8 947.9L537.7 947.8L538.6 951.6L539.5 949.5L540.4 951.2L541.3 952.3L542.2 943.8L543.1 945.3L544 952.1L544.9 945.3L545.8 948.8L546.7 948L547.6 941.7L548.5 948.2L549.4 946L550.3 945.5L551.2 945.7L552.1 939.6L553 936.4L553.9 943.7L554.8 949.9L555.7 949.1L556.6 988.2L557.5 948.4L558.4 949.9L559.3 949.6L560.2 949.7L561.1 937.9L562 933.4L562.9 946.9L563.8 945.3L564.7 945.9L565.6 945.9L566.5 986.3L567.4 942.8L568.3 943.9L569.2 946L570.1 947.8L571 959.8L571.9 943L572.8 946.2L573.7 948.6L574.6 944.9L575.5 944.1L576.4 954.2L577.3 952.8L578.2 944.7L579.1 941.3L580 947L580.9 944.6L581.8 942.3L582.7 946.5L583.6 944L584.5 943.1L585.4 939.4L586.3 942.4L587.2 941.1L588.1 948.4L589 957.7L589.9 960.3L590.8 951.2L591.7 950L592.6 957.6L593.5 953L594.4 944.9L595.3 957.8L596.2 951.4L597.1 944.9L598 982.4L598.9 956.5L599.8 952.8L600.7 946.2L601.6 944.8L602.5 947.7L603.4 948.9L604.3 946.4L605.2 950.9L606.1 953.7L607 978.4L607.9 954.9L608.8 954.6L609.7 953.6L610.6 960.4L611.5 945.4L612.4 955.7L613.3 953.2L614.2 946.6L615.1 953.6L616 975.4L616.9 940.4L617.8 936.7L618.7 946.8L619.6 945.1L620.5 942.5L621.4 951.6L622.3 977.8L623.2 953.1L624.1 941.2L625 946.3L625.9 942.5L626.8 984.5L627.7 954.9L628.6 942.1L629.5 952.6L630.4 969.8L631.3 956.4L632.2 939.7L633.1 940.9L634 938.3L634.9 945.6L635.8 945.7L636.7 941.3L637.6 944L638.5 951.8L639.4 974.6L640.3 963.4L641.2 954L642.1 950L643 950.7L643.9 950.7L644.8 939.9L645.7 934.9L646.6 955.8L647.5 951.2L648.4 942.9L649.3 939L650.2 945.7L651.1 946.5L652 971.7L652.9 964.9L653.8 943L654.7 954.1L655.6 972.1L656.5 944.7L657.4 973.3L658.3 957.2L659.2 991.9L660.1 939.4L661 938.2L661.9 949.3L662.8 928.5L663.7 946L664.6 949.7L665.5 946.7L666.4 952.3L667.3 949.4L668.2 936.7L669.1 943.7L670 930.7L670.9 941.5L671.8 942.5L672.7 937.7L673.6 941L674.5 938.3L675.4 947.6L676.3 947.6L677.2 988.2L678.1 957.1L679 947L679.9 934.4L680.8 935.4L681.7 960.1L682.6 949.5L683.5 953L684.4 946L685.3 962.6L686.2 942.3L687.1 935.8L688 945.1L688.9 932.9L689.8 961L690.7 954.4L691.6 963.4L692.5 939L693.4 952.8L694.3 946.6L695.2 954.2L696.1 950L697 958.6L697.9 958.9L698.8 962.1L699.7 947.6L700.6 946.1L701.5 939.4L702.4 1000.6L703.3 963.6L704.2 944.6L705.1 945.5L706 942.4L706.9 943.1L707.8 958.2L708.7 944.6L709.6 963.5L710.5 956.8L710.5 964.3V774.5" stroke="#EF4143"/>
<path d="M205.3 1099.7L250.1 1078.3L276.3 958.7L294.9 955.5L309.4 954.6L321.2 954.1L331.1 953.5L339.8 953.5L347.4 952.6L354.2 952.3L360.4 952L366 952L371.2 951.2L376 951.3L380.4 951.2L384.6 950.2L388.5 950.5L392.2 950.1L395.7 949.5L399 949.5L402.2 949.7L405.2 949.6L408.1 949.8L410.8 949L413.5 948.3L416 949L418.4 949.6L420.8 950.5L423.1 949.9L425.2 949.4L427.4 949L429.4 949.1L431.4 948.6L433.3 947.3L435.2 947.4L437 947.2L438.8 947.2L440.5 946.8L442.2 949.4L443.8 948.2L445.4 950.2L447 950.4L448.5 951L450 949.5L451.5 950.5L452.9 949.9L454.3 950.4L455.6 949.2L457 948.8L458.3 947.6L459.6 950.9L460.8 950.5L462 947.8L463.3 947.7L464.4 948.4L465.6 948.7L466.7 948.5L467.9 948.1L469 945.3L470.1 946.5L471.1 947.5L472.2 947L473.2 948.1L474.2 949.4L475.2 949.9L476.2 950L477.2 948.3L478.2 949.6L479.1 945.2L480 945L481 943.1L481.9 944.9L482.8 947.7L483.7 945.5L484.6 944.4L485.5 944.9L486.4 944.6L487.3 944.1L488.2 946.1L489.1 946.1L490 949L490.9 947.1L491.8 945.6L492.7 947.7L493.6 946L494.5 945.8L495.4 945.8L496.3 948.8L497.2 946.3L498.1 945.3L499 946.6L499.9 946.3L500.8 947.7L501.7 949.2L502.6 948.9L503.5 946.8L504.4 948.8L505.3 943.1L506.2 947.2L507.1 947.5L508 946.4L508.9 944.8L509.8 947.4L510.7 950.5L511.6 948.5L512.5 947.9L513.4 946.8L514.3 949.8L515.2 945.8L516.1 944.8L517 946.1L517.9 950.1L518.8 951.2L519.6 950.6V774.5" stroke="#EF4143"/>
</g>
<line x1="228" y1="1094.4" x2="282.3" y2="1094.4" stroke="#1E6FE0" stroke-width="6.3"/>
<line x1="228" y1="1134.7" x2="282.3" y2="1134.7" stroke="#ABABAB" stroke-width="6.3"/>
<line x1="472.1" y1="1094.4" x2="526" y2="1094.4" stroke="#FF1010" stroke-width="6.3"/>
<line x1="472.1" y1="1134.7" x2="526" y2="1134.7" stroke="#FFC215" stroke-width="6.3"/>
<text font-size="30.8" stroke="#000" stroke-width="0.2" transform="translate(301.5 1102.5) scale(1 1.03)">rGO/SAM</text>
<text font-size="30.8" stroke="#000" stroke-width="0.2" transform="translate(301.5 1141.9) scale(1 1.03)">w/o barrier</text>
<text font-size="30.8" stroke="#000" stroke-width="0.2" transform="translate(545.5 1102.5) scale(1 1.03)">Ru SA-rGO/SAM</text>
<text font-size="30.8" stroke="#000" stroke-width="0.2" transform="translate(545.5 1141.9) scale(1 1.03)">TaN/Ta</text>
<line x1="205.3" y1="774.5" x2="801" y2="774.5" stroke="#3B65BE" stroke-width="3.6"/>
<text font-size="31.1" fill="#3B63B5" stroke="#3B63B5" stroke-width="0.2" transform="translate(369.3 758.6) scale(1 1.03)">breakdown current</text>
<rect x="205.3" y="687.5" width="595.7" height="476.1" fill="none" stroke="#000" stroke-width="4.9"/>
<line x1="354.2" y1="1163.6" x2="354.2" y2="1152.6" stroke="#000" stroke-width="4.9"/>
<line x1="503.1" y1="1163.6" x2="503.1" y2="1152.6" stroke="#000" stroke-width="4.9"/>
<line x1="652" y1="1163.6" x2="652" y2="1152.6" stroke="#000" stroke-width="4.9"/>
<line x1="250.1" y1="1163.6" x2="250.1" y2="1158.1" stroke="#000" stroke-width="4"/>
<line x1="276.3" y1="1163.6" x2="276.3" y2="1158.1" stroke="#000" stroke-width="4"/>
<line x1="294.9" y1="1163.6" x2="294.9" y2="1158.1" stroke="#000" stroke-width="4"/>
<line x1="309.4" y1="1163.6" x2="309.4" y2="1158.1" stroke="#000" stroke-width="4"/>
<line x1="321.2" y1="1163.6" x2="321.2" y2="1158.1" stroke="#000" stroke-width="4"/>
<line x1="331.1" y1="1163.6" x2="331.1" y2="1158.1" stroke="#000" stroke-width="4"/>
<line x1="339.8" y1="1163.6" x2="339.8" y2="1158.1" stroke="#000" stroke-width="4"/>
<line x1="347.4" y1="1163.6" x2="347.4" y2="1158.1" stroke="#000" stroke-width="4"/>
<line x1="399" y1="1163.6" x2="399" y2="1158.1" stroke="#000" stroke-width="4"/>
<line x1="425.2" y1="1163.6" x2="425.2" y2="1158.1" stroke="#000" stroke-width="4"/>
<line x1="443.8" y1="1163.6" x2="443.8" y2="1158.1" stroke="#000" stroke-width="4"/>
<line x1="458.3" y1="1163.6" x2="458.3" y2="1158.1" stroke="#000" stroke-width="4"/>
<line x1="470.1" y1="1163.6" x2="470.1" y2="1158.1" stroke="#000" stroke-width="4"/>
<line x1="480" y1="1163.6" x2="480" y2="1158.1" stroke="#000" stroke-width="4"/>
<line x1="488.7" y1="1163.6" x2="488.7" y2="1158.1" stroke="#000" stroke-width="4"/>
<line x1="496.3" y1="1163.6" x2="496.3" y2="1158.1" stroke="#000" stroke-width="4"/>
<line x1="547.9" y1="1163.6" x2="547.9" y2="1158.1" stroke="#000" stroke-width="4"/>
<line x1="574.1" y1="1163.6" x2="574.1" y2="1158.1" stroke="#000" stroke-width="4"/>
<line x1="592.7" y1="1163.6" x2="592.7" y2="1158.1" stroke="#000" stroke-width="4"/>
<line x1="607.2" y1="1163.6" x2="607.2" y2="1158.1" stroke="#000" stroke-width="4"/>
<line x1="619" y1="1163.6" x2="619" y2="1158.1" stroke="#000" stroke-width="4"/>
<line x1="628.9" y1="1163.6" x2="628.9" y2="1158.1" stroke="#000" stroke-width="4"/>
<line x1="637.6" y1="1163.6" x2="637.6" y2="1158.1" stroke="#000" stroke-width="4"/>
<line x1="645.2" y1="1163.6" x2="645.2" y2="1158.1" stroke="#000" stroke-width="4"/>
<line x1="696.8" y1="1163.6" x2="696.8" y2="1158.1" stroke="#000" stroke-width="4"/>
<line x1="723" y1="1163.6" x2="723" y2="1158.1" stroke="#000" stroke-width="4"/>
<line x1="741.6" y1="1163.6" x2="741.6" y2="1158.1" stroke="#000" stroke-width="4"/>
<line x1="756.1" y1="1163.6" x2="756.1" y2="1158.1" stroke="#000" stroke-width="4"/>
<line x1="767.9" y1="1163.6" x2="767.9" y2="1158.1" stroke="#000" stroke-width="4"/>
<line x1="777.8" y1="1163.6" x2="777.8" y2="1158.1" stroke="#000" stroke-width="4"/>
<line x1="786.5" y1="1163.6" x2="786.5" y2="1158.1" stroke="#000" stroke-width="4"/>
<line x1="794.1" y1="1163.6" x2="794.1" y2="1158.1" stroke="#000" stroke-width="4"/>
<line x1="205.3" y1="1120.4" x2="216.3" y2="1120.4" stroke="#000" stroke-width="4.9"/>
<line x1="205.3" y1="1077.1" x2="216.3" y2="1077.1" stroke="#000" stroke-width="4.9"/>
<line x1="205.3" y1="1033.9" x2="216.3" y2="1033.9" stroke="#000" stroke-width="4.9"/>
<line x1="205.3" y1="990.7" x2="216.3" y2="990.7" stroke="#000" stroke-width="4.9"/>
<line x1="205.3" y1="947.4" x2="216.3" y2="947.4" stroke="#000" stroke-width="4.9"/>
<line x1="205.3" y1="904.2" x2="216.3" y2="904.2" stroke="#000" stroke-width="4.9"/>
<line x1="205.3" y1="861" x2="216.3" y2="861" stroke="#000" stroke-width="4.9"/>
<line x1="205.3" y1="817.7" x2="216.3" y2="817.7" stroke="#000" stroke-width="4.9"/>
<line x1="205.3" y1="774.5" x2="216.3" y2="774.5" stroke="#000" stroke-width="4.9"/>
<line x1="205.3" y1="731.3" x2="216.3" y2="731.3" stroke="#000" stroke-width="4.9"/>
<line x1="205.3" y1="1150.6" x2="210.8" y2="1150.6" stroke="#000" stroke-width="3.4"/>
<line x1="205.3" y1="1143" x2="210.8" y2="1143" stroke="#000" stroke-width="3.4"/>
<line x1="205.3" y1="1137.6" x2="210.8" y2="1137.6" stroke="#000" stroke-width="3.4"/>
<line x1="205.3" y1="1133.4" x2="210.8" y2="1133.4" stroke="#000" stroke-width="3.4"/>
<line x1="205.3" y1="1130" x2="210.8" y2="1130" stroke="#000" stroke-width="3.4"/>
<line x1="205.3" y1="1127.1" x2="210.8" y2="1127.1" stroke="#000" stroke-width="3.4"/>
<line x1="205.3" y1="1124.6" x2="210.8" y2="1124.6" stroke="#000" stroke-width="3.4"/>
<line x1="205.3" y1="1122.3" x2="210.8" y2="1122.3" stroke="#000" stroke-width="3.4"/>
<line x1="205.3" y1="1107.4" x2="210.8" y2="1107.4" stroke="#000" stroke-width="3.4"/>
<line x1="205.3" y1="1099.7" x2="210.8" y2="1099.7" stroke="#000" stroke-width="3.4"/>
<line x1="205.3" y1="1094.3" x2="210.8" y2="1094.3" stroke="#000" stroke-width="3.4"/>
<line x1="205.3" y1="1090.1" x2="210.8" y2="1090.1" stroke="#000" stroke-width="3.4"/>
<line x1="205.3" y1="1086.7" x2="210.8" y2="1086.7" stroke="#000" stroke-width="3.4"/>
<line x1="205.3" y1="1083.8" x2="210.8" y2="1083.8" stroke="#000" stroke-width="3.4"/>
<line x1="205.3" y1="1081.3" x2="210.8" y2="1081.3" stroke="#000" stroke-width="3.4"/>
<line x1="205.3" y1="1079.1" x2="210.8" y2="1079.1" stroke="#000" stroke-width="3.4"/>
<line x1="205.3" y1="1064.1" x2="210.8" y2="1064.1" stroke="#000" stroke-width="3.4"/>
<line x1="205.3" y1="1056.5" x2="210.8" y2="1056.5" stroke="#000" stroke-width="3.4"/>
<line x1="205.3" y1="1051.1" x2="210.8" y2="1051.1" stroke="#000" stroke-width="3.4"/>
<line x1="205.3" y1="1046.9" x2="210.8" y2="1046.9" stroke="#000" stroke-width="3.4"/>
<line x1="205.3" y1="1043.5" x2="210.8" y2="1043.5" stroke="#000" stroke-width="3.4"/>
<line x1="205.3" y1="1040.6" x2="210.8" y2="1040.6" stroke="#000" stroke-width="3.4"/>
<line x1="205.3" y1="1038.1" x2="210.8" y2="1038.1" stroke="#000" stroke-width="3.4"/>
<line x1="205.3" y1="1035.9" x2="210.8" y2="1035.9" stroke="#000" stroke-width="3.4"/>
<line x1="205.3" y1="1020.9" x2="210.8" y2="1020.9" stroke="#000" stroke-width="3.4"/>
<line x1="205.3" y1="1013.3" x2="210.8" y2="1013.3" stroke="#000" stroke-width="3.4"/>
<line x1="205.3" y1="1007.9" x2="210.8" y2="1007.9" stroke="#000" stroke-width="3.4"/>
<line x1="205.3" y1="1003.7" x2="210.8" y2="1003.7" stroke="#000" stroke-width="3.4"/>
<line x1="205.3" y1="1000.3" x2="210.8" y2="1000.3" stroke="#000" stroke-width="3.4"/>
<line x1="205.3" y1="997.4" x2="210.8" y2="997.4" stroke="#000" stroke-width="3.4"/>
<line x1="205.3" y1="994.9" x2="210.8" y2="994.9" stroke="#000" stroke-width="3.4"/>
<line x1="205.3" y1="992.6" x2="210.8" y2="992.6" stroke="#000" stroke-width="3.4"/>
<line x1="205.3" y1="977.7" x2="210.8" y2="977.7" stroke="#000" stroke-width="3.4"/>
<line x1="205.3" y1="970" x2="210.8" y2="970" stroke="#000" stroke-width="3.4"/>
<line x1="205.3" y1="964.6" x2="210.8" y2="964.6" stroke="#000" stroke-width="3.4"/>
<line x1="205.3" y1="960.4" x2="210.8" y2="960.4" stroke="#000" stroke-width="3.4"/>
<line x1="205.3" y1="957" x2="210.8" y2="957" stroke="#000" stroke-width="3.4"/>
<line x1="205.3" y1="954.1" x2="210.8" y2="954.1" stroke="#000" stroke-width="3.4"/>
<line x1="205.3" y1="951.6" x2="210.8" y2="951.6" stroke="#000" stroke-width="3.4"/>
<line x1="205.3" y1="949.4" x2="210.8" y2="949.4" stroke="#000" stroke-width="3.4"/>
<line x1="205.3" y1="934.4" x2="210.8" y2="934.4" stroke="#000" stroke-width="3.4"/>
<line x1="205.3" y1="926.8" x2="210.8" y2="926.8" stroke="#000" stroke-width="3.4"/>
<line x1="205.3" y1="921.4" x2="210.8" y2="921.4" stroke="#000" stroke-width="3.4"/>
<line x1="205.3" y1="917.2" x2="210.8" y2="917.2" stroke="#000" stroke-width="3.4"/>
<line x1="205.3" y1="913.8" x2="210.8" y2="913.8" stroke="#000" stroke-width="3.4"/>
<line x1="205.3" y1="910.9" x2="210.8" y2="910.9" stroke="#000" stroke-width="3.4"/>
<line x1="205.3" y1="908.4" x2="210.8" y2="908.4" stroke="#000" stroke-width="3.4"/>
<line x1="205.3" y1="906.2" x2="210.8" y2="906.2" stroke="#000" stroke-width="3.4"/>
<line x1="205.3" y1="891.2" x2="210.8" y2="891.2" stroke="#000" stroke-width="3.4"/>
<line x1="205.3" y1="883.6" x2="210.8" y2="883.6" stroke="#000" stroke-width="3.4"/>
<line x1="205.3" y1="878.2" x2="210.8" y2="878.2" stroke="#000" stroke-width="3.4"/>
<line x1="205.3" y1="874" x2="210.8" y2="874" stroke="#000" stroke-width="3.4"/>
<line x1="205.3" y1="870.6" x2="210.8" y2="870.6" stroke="#000" stroke-width="3.4"/>
<line x1="205.3" y1="867.7" x2="210.8" y2="867.7" stroke="#000" stroke-width="3.4"/>
<line x1="205.3" y1="865.2" x2="210.8" y2="865.2" stroke="#000" stroke-width="3.4"/>
<line x1="205.3" y1="862.9" x2="210.8" y2="862.9" stroke="#000" stroke-width="3.4"/>
<line x1="205.3" y1="848" x2="210.8" y2="848" stroke="#000" stroke-width="3.4"/>
<line x1="205.3" y1="840.3" x2="210.8" y2="840.3" stroke="#000" stroke-width="3.4"/>
<line x1="205.3" y1="834.9" x2="210.8" y2="834.9" stroke="#000" stroke-width="3.4"/>
<line x1="205.3" y1="830.7" x2="210.8" y2="830.7" stroke="#000" stroke-width="3.4"/>
<line x1="205.3" y1="827.3" x2="210.8" y2="827.3" stroke="#000" stroke-width="3.4"/>
<line x1="205.3" y1="824.4" x2="210.8" y2="824.4" stroke="#000" stroke-width="3.4"/>
<line x1="205.3" y1="821.9" x2="210.8" y2="821.9" stroke="#000" stroke-width="3.4"/>
<line x1="205.3" y1="819.7" x2="210.8" y2="819.7" stroke="#000" stroke-width="3.4"/>
<line x1="205.3" y1="804.7" x2="210.8" y2="804.7" stroke="#000" stroke-width="3.4"/>
<line x1="205.3" y1="797.1" x2="210.8" y2="797.1" stroke="#000" stroke-width="3.4"/>
<line x1="205.3" y1="791.7" x2="210.8" y2="791.7" stroke="#000" stroke-width="3.4"/>
<line x1="205.3" y1="787.5" x2="210.8" y2="787.5" stroke="#000" stroke-width="3.4"/>
<line x1="205.3" y1="784.1" x2="210.8" y2="784.1" stroke="#000" stroke-width="3.4"/>
<line x1="205.3" y1="781.2" x2="210.8" y2="781.2" stroke="#000" stroke-width="3.4"/>
<line x1="205.3" y1="778.7" x2="210.8" y2="778.7" stroke="#000" stroke-width="3.4"/>
<line x1="205.3" y1="776.5" x2="210.8" y2="776.5" stroke="#000" stroke-width="3.4"/>
<line x1="205.3" y1="761.5" x2="210.8" y2="761.5" stroke="#000" stroke-width="3.4"/>
<line x1="205.3" y1="753.9" x2="210.8" y2="753.9" stroke="#000" stroke-width="3.4"/>
<line x1="205.3" y1="748.5" x2="210.8" y2="748.5" stroke="#000" stroke-width="3.4"/>
<line x1="205.3" y1="744.3" x2="210.8" y2="744.3" stroke="#000" stroke-width="3.4"/>
<line x1="205.3" y1="740.9" x2="210.8" y2="740.9" stroke="#000" stroke-width="3.4"/>
<line x1="205.3" y1="738" x2="210.8" y2="738" stroke="#000" stroke-width="3.4"/>
<line x1="205.3" y1="735.5" x2="210.8" y2="735.5" stroke="#000" stroke-width="3.4"/>
<line x1="205.3" y1="733.2" x2="210.8" y2="733.2" stroke="#000" stroke-width="3.4"/>
<line x1="205.3" y1="718.3" x2="210.8" y2="718.3" stroke="#000" stroke-width="3.4"/>
<line x1="205.3" y1="710.6" x2="210.8" y2="710.6" stroke="#000" stroke-width="3.4"/>
<line x1="205.3" y1="705.2" x2="210.8" y2="705.2" stroke="#000" stroke-width="3.4"/>
<line x1="205.3" y1="701" x2="210.8" y2="701" stroke="#000" stroke-width="3.4"/>
<line x1="205.3" y1="697.6" x2="210.8" y2="697.6" stroke="#000" stroke-width="3.4"/>
<line x1="205.3" y1="694.7" x2="210.8" y2="694.7" stroke="#000" stroke-width="3.4"/>
<line x1="205.3" y1="692.2" x2="210.8" y2="692.2" stroke="#000" stroke-width="3.4"/>
<line x1="205.3" y1="690" x2="210.8" y2="690" stroke="#000" stroke-width="3.4"/>
<text font-size="27.5" text-anchor="end" stroke="#000" stroke-width="0.5" transform="translate(191.6 786.7) scale(1 1.08)">10<tspan font-size="17.5" dy="-11.5" stroke-width="0.25">0</tspan></text>
<text font-size="27.5" text-anchor="end" stroke="#000" stroke-width="0.5" transform="translate(191.6 916.4) scale(1 1.08)">10<tspan font-size="17.5" dy="-11.5" stroke-width="0.25">-3</tspan></text>
<text font-size="27.5" text-anchor="end" stroke="#000" stroke-width="0.5" transform="translate(191.6 1046.1) scale(1 1.08)">10<tspan font-size="17.5" dy="-11.5" stroke-width="0.25">-6</tspan></text>
<text font-size="27.5" text-anchor="end" stroke="#000" stroke-width="0.5" transform="translate(191.6 1175.8) scale(1 1.08)">10<tspan font-size="17.5" dy="-11.5" stroke-width="0.25">-9</tspan></text>
<text font-size="28" text-anchor="middle" stroke="#000" stroke-width="0.5" transform="translate(205.9 1203.8) scale(1 1.08)">10<tspan font-size="17.5" dy="-11.5" stroke-width="0.25">0</tspan></text>
<text font-size="28" text-anchor="middle" stroke="#000" stroke-width="0.5" transform="translate(354.8 1203.8) scale(1 1.08)">10<tspan font-size="17.5" dy="-11.5" stroke-width="0.25">1</tspan></text>
<text font-size="28" text-anchor="middle" stroke="#000" stroke-width="0.5" transform="translate(503.7 1203.8) scale(1 1.08)">10<tspan font-size="17.5" dy="-11.5" stroke-width="0.25">2</tspan></text>
<text font-size="28" text-anchor="middle" stroke="#000" stroke-width="0.5" transform="translate(652.6 1203.8) scale(1 1.08)">10<tspan font-size="17.5" dy="-11.5" stroke-width="0.25">3</tspan></text>
<text font-size="28" text-anchor="middle" stroke="#000" stroke-width="0.5" transform="translate(801.5 1203.8) scale(1 1.08)">10<tspan font-size="17.5" dy="-11.5" stroke-width="0.25">4</tspan></text>
<text font-size="37.3" text-anchor="middle" stroke="#000" stroke-width="0.3" transform="translate(502.7 1248.3) scale(1 1.03)">Time-to-Breakdown (s)</text>
<text font-size="37" text-anchor="middle" stroke="#000" stroke-width="0.3" transform="translate(131.7 924.6) rotate(-90) scale(1 1.03)">Leakage Current (A)</text>
</g>
<g>
<text x="955.9" y="684.7" font-size="56.5">d</text>
<clipPath id="cd"><rect x="1134.8" y="685.3" width="596" height="476.3"/></clipPath>
<line x1="1134.8" y1="924" x2="1190.7" y2="924" stroke="#000" stroke-width="4.5"/>
<line x1="1302" y1="924" x2="1730.8" y2="924" stroke="#000" stroke-width="4.5"/>
<g clip-path="url(#cd)">
<line x1="1203.4" y1="1161.6" x2="1518.4" y2="685.3" stroke="#808080" stroke-width="10" stroke-linecap="square"/>
</g>
<rect x="1227.6" y="1098.5" width="14.8" height="14.8" fill="#505050" fill-opacity="0.97"/>
<rect x="1246.6" y="1082" width="14.8" height="14.8" fill="#505050" fill-opacity="0.97"/>
<rect x="1262.4" y="1065.4" width="14.8" height="14.8" fill="#505050" fill-opacity="0.97"/>
<rect x="1269.8" y="1048.8" width="14.8" height="14.8" fill="#505050" fill-opacity="0.97"/>
<rect x="1280.3" y="1032.3" width="14.8" height="14.8" fill="#505050" fill-opacity="0.97"/>
<rect x="1300.4" y="1015.7" width="14.8" height="14.8" fill="#505050" fill-opacity="0.97"/>
<rect x="1312" y="999.2" width="14.8" height="14.8" fill="#505050" fill-opacity="0.97"/>
<rect x="1313" y="982.6" width="14.8" height="14.8" fill="#505050" fill-opacity="0.97"/>
<rect x="1314.5" y="966" width="14.8" height="14.8" fill="#505050" fill-opacity="0.97"/>
<rect x="1316.6" y="949.5" width="14.8" height="14.8" fill="#505050" fill-opacity="0.97"/>
<rect x="1330.9" y="932.9" width="14.8" height="14.8" fill="#505050" fill-opacity="0.97"/>
<rect x="1335.2" y="916.4" width="14.8" height="14.8" fill="#505050" fill-opacity="0.97"/>
<rect x="1370" y="899.8" width="14.8" height="14.8" fill="#505050" fill-opacity="0.97"/>
<rect x="1381.6" y="883.2" width="14.8" height="14.8" fill="#505050" fill-opacity="0.97"/>
<rect x="1383.3" y="866.7" width="14.8" height="14.8" fill="#505050" fill-opacity="0.97"/>
<rect x="1396.3" y="850.1" width="14.8" height="14.8" fill="#505050" fill-opacity="0.97"/>
<rect x="1398.4" y="833.5" width="14.8" height="14.8" fill="#505050" fill-opacity="0.97"/>
<rect x="1422.3" y="817" width="14.8" height="14.8" fill="#505050" fill-opacity="0.97"/>
<rect x="1429.6" y="800.4" width="14.8" height="14.8" fill="#505050" fill-opacity="0.97"/>
<rect x="1430.6" y="783.9" width="14.8" height="14.8" fill="#505050" fill-opacity="0.97"/>
<rect x="1448.7" y="767.3" width="14.8" height="14.8" fill="#505050" fill-opacity="0.97"/>
<rect x="1478.7" y="750.7" width="14.8" height="14.8" fill="#505050" fill-opacity="0.97"/>
<rect x="1479.7" y="734.2" width="14.8" height="14.8" fill="#505050" fill-opacity="0.97"/>
<rect x="1489.2" y="717.6" width="14.8" height="14.8" fill="#505050" fill-opacity="0.97"/>
<g clip-path="url(#cd)">
<line x1="1193.9" y1="1161.6" x2="1655.5" y2="685.3" stroke="#1B6BDF" stroke-width="10" stroke-linecap="square" stroke-opacity="0.7"/>
</g>
<circle cx="1244.1" cy="1105.2" r="8" fill="#1B6BDF"/>
<circle cx="1264.5" cy="1087.9" r="8" fill="#1B6BDF"/>
<circle cx="1283.5" cy="1070.7" r="8" fill="#1B6BDF"/>
<circle cx="1309.9" cy="1053.4" r="8" fill="#1B6BDF"/>
<circle cx="1313" cy="1036.1" r="8" fill="#1B6BDF"/>
<circle cx="1323.6" cy="1018.8" r="8" fill="#1B6BDF"/>
<circle cx="1326.7" cy="1001.5" r="8" fill="#1B6BDF"/>
<circle cx="1383.7" cy="984.2" r="8" fill="#1B6BDF"/>
<circle cx="1391.1" cy="967" r="8" fill="#1B6BDF"/>
<circle cx="1404.8" cy="949.7" r="8" fill="#1B6BDF"/>
<circle cx="1408" cy="932.4" r="8" fill="#1B6BDF"/>
<circle cx="1432.2" cy="915.1" r="8" fill="#1B6BDF"/>
<circle cx="1465.6" cy="897.8" r="8" fill="#1B6BDF"/>
<circle cx="1486.7" cy="880.5" r="8" fill="#1B6BDF"/>
<circle cx="1510.5" cy="863.3" r="8" fill="#1B6BDF"/>
<circle cx="1520" cy="846" r="8" fill="#1B6BDF"/>
<circle cx="1530.6" cy="828.7" r="8" fill="#1B6BDF"/>
<circle cx="1534.8" cy="811.4" r="8" fill="#1B6BDF"/>
<circle cx="1538.8" cy="794.1" r="8" fill="#1B6BDF"/>
<circle cx="1559.5" cy="776.8" r="8" fill="#1B6BDF"/>
<circle cx="1563.1" cy="759.6" r="8" fill="#1B6BDF"/>
<circle cx="1598.5" cy="742.3" r="8" fill="#1B6BDF"/>
<circle cx="1608" cy="725" r="8" fill="#1B6BDF"/>
<polygon points="1425.5,1089.8 1416,1107.1 1435,1107.1" fill="#FFC215" fill-opacity="0.85"/>
<polygon points="1473,1067.7 1463.5,1085 1482.5,1085" fill="#FFC215" fill-opacity="0.85"/>
<polygon points="1478.3,1045.6 1468.8,1062.9 1487.8,1062.9" fill="#FFC215" fill-opacity="0.85"/>
<polygon points="1498.3,1023.5 1488.8,1040.8 1507.8,1040.8" fill="#FFC215" fill-opacity="0.85"/>
<polygon points="1499.4,1001.4 1489.9,1018.7 1508.9,1018.7" fill="#FFC215" fill-opacity="0.85"/>
<polygon points="1507.8,979.4 1498.3,996.6 1517.3,996.6" fill="#FFC215" fill-opacity="0.85"/>
<polygon points="1515.8,957.3 1506.3,974.6 1525.3,974.6" fill="#FFC215" fill-opacity="0.85"/>
<polygon points="1526.4,935.2 1516.9,952.5 1535.9,952.5" fill="#FFC215" fill-opacity="0.85"/>
<polygon points="1529.5,913.1 1520,930.4 1539,930.4" fill="#FFC215" fill-opacity="0.85"/>
<polygon points="1544.3,891 1534.8,908.3 1553.8,908.3" fill="#FFC215" fill-opacity="0.85"/>
<polygon points="1551,868.9 1541.5,886.2 1560.5,886.2" fill="#FFC215" fill-opacity="0.85"/>
<polygon points="1555.9,846.9 1546.4,864.1 1565.4,864.1" fill="#FFC215" fill-opacity="0.85"/>
<polygon points="1560.1,824.8 1550.6,842.1 1569.6,842.1" fill="#FFC215" fill-opacity="0.85"/>
<polygon points="1563.7,802.7 1554.2,820 1573.2,820" fill="#FFC215" fill-opacity="0.85"/>
<polygon points="1579.5,780.6 1570,797.9 1589,797.9" fill="#FFC215" fill-opacity="0.85"/>
<polygon points="1588.4,758.5 1578.9,775.8 1597.9,775.8" fill="#FFC215" fill-opacity="0.85"/>
<polygon points="1592.2,736.4 1582.7,753.7 1601.7,753.7" fill="#FFC215" fill-opacity="0.85"/>
<polygon points="1605.9,714.4 1596.4,731.6 1615.4,731.6" fill="#FFC215" fill-opacity="0.85"/>
<g clip-path="url(#cd)">
<line x1="1431.9" y1="1161.6" x2="1623.8" y2="685.3" stroke="#FFC215" stroke-width="10" stroke-linecap="square" stroke-opacity="0.72"/>
</g>
<polygon points="1449.8,1111.1 1440.3,1093.8 1459.3,1093.8" fill="#EF4143" fill-opacity="0.92"/>
<polygon points="1476.2,1089 1466.7,1071.7 1485.7,1071.7" fill="#EF4143" fill-opacity="0.92"/>
<polygon points="1481.4,1066.9 1471.9,1049.6 1490.9,1049.6" fill="#EF4143" fill-opacity="0.92"/>
<polygon points="1481,1044.8 1471.5,1027.5 1490.5,1027.5" fill="#EF4143" fill-opacity="0.92"/>
<polygon points="1530,1022.7 1520.5,1005.4 1539.5,1005.4" fill="#EF4143" fill-opacity="0.92"/>
<polygon points="1555.3,1000.6 1545.8,983.4 1564.8,983.4" fill="#EF4143" fill-opacity="0.92"/>
<polygon points="1556.3,978.6 1546.8,961.3 1565.8,961.3" fill="#EF4143" fill-opacity="0.92"/>
<polygon points="1561.2,956.5 1551.7,939.2 1570.7,939.2" fill="#EF4143" fill-opacity="0.92"/>
<polygon points="1582.7,934.4 1573.2,917.1 1592.2,917.1" fill="#EF4143" fill-opacity="0.92"/>
<polygon points="1593.9,912.3 1584.4,895 1603.4,895" fill="#EF4143" fill-opacity="0.92"/>
<polygon points="1607.4,890.2 1597.9,872.9 1616.9,872.9" fill="#EF4143" fill-opacity="0.92"/>
<polygon points="1611.8,868.1 1602.3,850.9 1621.3,850.9" fill="#EF4143" fill-opacity="0.92"/>
<polygon points="1612.2,846.1 1602.7,828.8 1621.7,828.8" fill="#EF4143" fill-opacity="0.92"/>
<polygon points="1613.3,824 1603.8,806.7 1622.8,806.7" fill="#EF4143" fill-opacity="0.92"/>
<polygon points="1629.1,801.9 1619.6,784.6 1638.6,784.6" fill="#EF4143" fill-opacity="0.92"/>
<polygon points="1640.3,779.8 1630.8,762.5 1649.8,762.5" fill="#EF4143" fill-opacity="0.92"/>
<polygon points="1640.7,757.7 1631.2,740.4 1650.2,740.4" fill="#EF4143" fill-opacity="0.92"/>
<polygon points="1656.9,735.6 1647.4,718.4 1666.4,718.4" fill="#EF4143" fill-opacity="0.92"/>
<g clip-path="url(#cd)">
<line x1="1437.1" y1="1161.6" x2="1695.5" y2="685.3" stroke="#EF4143" stroke-width="10" stroke-linecap="square" stroke-opacity="0.7"/>
</g>
<polygon points="1177.4,745.6 1167.9,728.4 1186.9,728.4" fill="#EF4143"/>
<polygon points="1177.4,757.4 1167.9,774.6 1186.9,774.6" fill="#FFC215"/>
<circle cx="1177.4" cy="803.4" r="8" fill="#1B6BDF"/>
<rect x="1170" y="830.8" width="14.8" height="14.8" fill="#505050"/>
<text font-size="27.8" stroke="#000" stroke-width="0.5" transform="translate(1217.5 746.1) scale(1 1.08)">Ru SA-rGO/SAM</text>
<text font-size="27.8" stroke="#000" stroke-width="0.5" transform="translate(1217.5 780.2) scale(1 1.08)">TaN/Ta</text>
<text font-size="27.8" stroke="#000" stroke-width="0.5" transform="translate(1217.5 815) scale(1 1.08)">rGO/SAM</text>
<text font-size="27.8" stroke="#000" stroke-width="0.5" transform="translate(1217.5 849.8) scale(1 1.08)">w/o barrier</text>
<text font-size="29.5" stroke="#000" stroke-width="0.2" transform="translate(1197 932.3) scale(1 1.03)">TTF<tspan font-size="21" dy="5.5" stroke-width="0.25">50%</tspan></text>
<text font-size="26.5" stroke="#000" stroke-width="0.5" transform="translate(1596 1132.5) scale(1 1.08)">7 MV/cm</text>
<rect x="1134.8" y="685.3" width="596" height="476.3" fill="none" stroke="#000" stroke-width="4.9"/>
<line x1="1283.8" y1="1161.6" x2="1283.8" y2="1150.6" stroke="#000" stroke-width="4.9"/>
<line x1="1432.8" y1="1161.6" x2="1432.8" y2="1150.6" stroke="#000" stroke-width="4.9"/>
<line x1="1581.8" y1="1161.6" x2="1581.8" y2="1150.6" stroke="#000" stroke-width="4.9"/>
<line x1="1179.7" y1="1161.6" x2="1179.7" y2="1156.1" stroke="#000" stroke-width="4"/>
<line x1="1205.9" y1="1161.6" x2="1205.9" y2="1156.1" stroke="#000" stroke-width="4"/>
<line x1="1224.5" y1="1161.6" x2="1224.5" y2="1156.1" stroke="#000" stroke-width="4"/>
<line x1="1238.9" y1="1161.6" x2="1238.9" y2="1156.1" stroke="#000" stroke-width="4"/>
<line x1="1250.7" y1="1161.6" x2="1250.7" y2="1156.1" stroke="#000" stroke-width="4"/>
<line x1="1260.7" y1="1161.6" x2="1260.7" y2="1156.1" stroke="#000" stroke-width="4"/>
<line x1="1269.4" y1="1161.6" x2="1269.4" y2="1156.1" stroke="#000" stroke-width="4"/>
<line x1="1277" y1="1161.6" x2="1277" y2="1156.1" stroke="#000" stroke-width="4"/>
<line x1="1328.7" y1="1161.6" x2="1328.7" y2="1156.1" stroke="#000" stroke-width="4"/>
<line x1="1354.9" y1="1161.6" x2="1354.9" y2="1156.1" stroke="#000" stroke-width="4"/>
<line x1="1373.5" y1="1161.6" x2="1373.5" y2="1156.1" stroke="#000" stroke-width="4"/>
<line x1="1387.9" y1="1161.6" x2="1387.9" y2="1156.1" stroke="#000" stroke-width="4"/>
<line x1="1399.7" y1="1161.6" x2="1399.7" y2="1156.1" stroke="#000" stroke-width="4"/>
<line x1="1409.7" y1="1161.6" x2="1409.7" y2="1156.1" stroke="#000" stroke-width="4"/>
<line x1="1418.4" y1="1161.6" x2="1418.4" y2="1156.1" stroke="#000" stroke-width="4"/>
<line x1="1426" y1="1161.6" x2="1426" y2="1156.1" stroke="#000" stroke-width="4"/>
<line x1="1477.7" y1="1161.6" x2="1477.7" y2="1156.1" stroke="#000" stroke-width="4"/>
<line x1="1503.9" y1="1161.6" x2="1503.9" y2="1156.1" stroke="#000" stroke-width="4"/>
<line x1="1522.5" y1="1161.6" x2="1522.5" y2="1156.1" stroke="#000" stroke-width="4"/>
<line x1="1536.9" y1="1161.6" x2="1536.9" y2="1156.1" stroke="#000" stroke-width="4"/>
<line x1="1548.7" y1="1161.6" x2="1548.7" y2="1156.1" stroke="#000" stroke-width="4"/>
<line x1="1558.7" y1="1161.6" x2="1558.7" y2="1156.1" stroke="#000" stroke-width="4"/>
<line x1="1567.4" y1="1161.6" x2="1567.4" y2="1156.1" stroke="#000" stroke-width="4"/>
<line x1="1575" y1="1161.6" x2="1575" y2="1156.1" stroke="#000" stroke-width="4"/>
<line x1="1626.7" y1="1161.6" x2="1626.7" y2="1156.1" stroke="#000" stroke-width="4"/>
<line x1="1652.9" y1="1161.6" x2="1652.9" y2="1156.1" stroke="#000" stroke-width="4"/>
<line x1="1671.5" y1="1161.6" x2="1671.5" y2="1156.1" stroke="#000" stroke-width="4"/>
<line x1="1685.9" y1="1161.6" x2="1685.9" y2="1156.1" stroke="#000" stroke-width="4"/>
<line x1="1697.7" y1="1161.6" x2="1697.7" y2="1156.1" stroke="#000" stroke-width="4"/>
<line x1="1707.7" y1="1161.6" x2="1707.7" y2="1156.1" stroke="#000" stroke-width="4"/>
<line x1="1716.4" y1="1161.6" x2="1716.4" y2="1156.1" stroke="#000" stroke-width="4"/>
<line x1="1724" y1="1161.6" x2="1724" y2="1156.1" stroke="#000" stroke-width="4"/>
<line x1="1134.8" y1="1122.5" x2="1145.8" y2="1122.5" stroke="#000" stroke-width="4.9"/>
<line x1="1134.8" y1="1043" x2="1145.8" y2="1043" stroke="#000" stroke-width="4.9"/>
<line x1="1134.8" y1="963.5" x2="1145.8" y2="963.5" stroke="#000" stroke-width="4.9"/>
<line x1="1134.8" y1="884" x2="1145.8" y2="884" stroke="#000" stroke-width="4.9"/>
<line x1="1134.8" y1="804.5" x2="1145.8" y2="804.5" stroke="#000" stroke-width="4.9"/>
<line x1="1134.8" y1="725" x2="1145.8" y2="725" stroke="#000" stroke-width="4.9"/>
<line x1="1134.8" y1="1082.8" x2="1140.8" y2="1082.8" stroke="#000" stroke-width="4.9"/>
<line x1="1134.8" y1="1003.2" x2="1140.8" y2="1003.2" stroke="#000" stroke-width="4.9"/>
<line x1="1134.8" y1="923.8" x2="1140.8" y2="923.8" stroke="#000" stroke-width="4.9"/>
<line x1="1134.8" y1="844.2" x2="1140.8" y2="844.2" stroke="#000" stroke-width="4.9"/>
<line x1="1134.8" y1="764.8" x2="1140.8" y2="764.8" stroke="#000" stroke-width="4.9"/>
<text font-size="27.3" text-anchor="end" stroke="#000" stroke-width="0.5" transform="translate(1122.5 1132.9) scale(1 1.08)">0.0</text>
<text font-size="27.3" text-anchor="end" stroke="#000" stroke-width="0.5" transform="translate(1122.5 1053.4) scale(1 1.08)">0.2</text>
<text font-size="27.3" text-anchor="end" stroke="#000" stroke-width="0.5" transform="translate(1122.5 973.9) scale(1 1.08)">0.4</text>
<text font-size="27.3" text-anchor="end" stroke="#000" stroke-width="0.5" transform="translate(1122.5 894.4) scale(1 1.08)">0.6</text>
<text font-size="27.3" text-anchor="end" stroke="#000" stroke-width="0.5" transform="translate(1122.5 814.9) scale(1 1.08)">0.8</text>
<text font-size="27.3" text-anchor="end" stroke="#000" stroke-width="0.5" transform="translate(1122.5 735.4) scale(1 1.08)">1.0</text>
<text font-size="28" text-anchor="middle" stroke="#000" stroke-width="0.5" transform="translate(1135.6 1203.3) scale(1 1.08)">10<tspan font-size="17.5" dy="-11.5" stroke-width="0.25">0</tspan></text>
<text font-size="28" text-anchor="middle" stroke="#000" stroke-width="0.5" transform="translate(1284.6 1203.3) scale(1 1.08)">10<tspan font-size="17.5" dy="-11.5" stroke-width="0.25">1</tspan></text>
<text font-size="28" text-anchor="middle" stroke="#000" stroke-width="0.5" transform="translate(1433.6 1203.3) scale(1 1.08)">10<tspan font-size="17.5" dy="-11.5" stroke-width="0.25">2</tspan></text>
<text font-size="28" text-anchor="middle" stroke="#000" stroke-width="0.5" transform="translate(1582.6 1203.3) scale(1 1.08)">10<tspan font-size="17.5" dy="-11.5" stroke-width="0.25">3</tspan></text>
<text font-size="28" text-anchor="middle" stroke="#000" stroke-width="0.5" transform="translate(1731.6 1203.3) scale(1 1.08)">10<tspan font-size="17.5" dy="-11.5" stroke-width="0.25">4</tspan></text>
<text font-size="37.3" text-anchor="middle" stroke="#000" stroke-width="0.3" transform="translate(1433 1248.3) scale(1 1.03)">Time-to-Breakdown (s)</text>
<text font-size="37.3" text-anchor="middle" stroke="#000" stroke-width="0.3" transform="translate(1070.6 924.5) rotate(-90) scale(1 1.03)">Cumulative Probability</text>
</g>
<g>
<text x="-2.2" y="1320.4" font-size="56.5">e</text>
<polygon points="322.1,1350.2 327.9,1368 346.6,1368 331.5,1379 337.3,1396.9 322.1,1385.9 306.9,1396.9 312.7,1379 297.6,1368 316.3,1368" fill="#FF0000"/>
<text font-size="33.3" fill="#FF0000" stroke="#FF0000" stroke-width="0.1" transform="translate(358.5 1390.5) scale(1 1.03)">This work</text>
<polygon points="333.3,1521.5 318.4,1546.3 348.2,1546.3" fill="#1B6BDF"/>
<circle cx="375.9" cy="1537.6" r="12.3" fill="#1B6BDF"/>
<text font-size="30" fill="#1B6BDF" stroke="#1B6BDF" stroke-width="0.1" transform="translate(395 1527) scale(1 1.03)">TaN<tspan dx="1.5" font-size="16" dy="-7.5" stroke-width="0.15">[18]</tspan></text>
<text font-size="30" fill="#1B6BDF" stroke="#1B6BDF" stroke-width="0.1" transform="translate(294 1583.3) scale(1 1.03)">TaS<tspan font-size="21" dy="6" stroke-width="0.15">x</tspan><tspan dx="1.5" font-size="16" dy="-13.5" stroke-width="0.15">[18]</tspan></text>
<polygon points="758.4,1487 743.8,1511.8 773,1511.8" fill="#3DAA6A"/>
<text font-size="30" fill="#3DAA6A" stroke="#3DAA6A" stroke-width="0.1" transform="translate(662.5 1474.1) scale(1 1.03)">MoS<tspan font-size="21" dy="6" stroke-width="0.15">2</tspan><tspan dx="1.5" font-size="16" dy="-13.5" stroke-width="0.15">[19]</tspan></text>
<text font-size="30" fill="#F08030" stroke="#F08030" stroke-width="0.1" transform="translate(536.5 1628.4) scale(1 1.03)">TaN<tspan dx="1.5" font-size="16" dy="-7.5" stroke-width="0.15">[28]</tspan></text>
<circle cx="546.3" cy="1657.4" r="12.3" fill="#FF8000"/>
<text font-size="30" fill="#F08030" stroke="#F08030" stroke-width="0.1" transform="translate(537 1747.5) scale(1 1.03)">MLG<tspan dx="1.5" font-size="19.5" dy="-9.3" stroke-width="0.15">[28]</tspan></text>
<rect x="535" y="1765" width="22" height="22" fill="#FF8000"/>
<text font-size="30" fill="#F08030" stroke="#F08030" stroke-width="0.1" transform="translate(412 1778.5) scale(1 1.03)">TaN<tspan dx="1.5" font-size="16" dy="-7.5" stroke-width="0.15">[28]</tspan></text>
<polygon points="392.8,1736.5 378.2,1761.3 407.4,1761.3" fill="#3DAA6A"/>
<circle cx="375.9" cy="1772.3" r="12.3" fill="#FF8000"/>
<text font-size="30" fill="#3DAA6A" stroke="#3DAA6A" stroke-width="0.1" transform="translate(411 1725.9) scale(1 1.03)">MoS<tspan font-size="21" dy="6" stroke-width="0.15">2</tspan><tspan dx="1.5" font-size="16" dy="-13.5" stroke-width="0.15">[19]</tspan></text>
<text font-size="30" fill="#B27AE0" stroke="#B27AE0" stroke-width="0.1" transform="translate(325.5 1706) scale(1 1.03)">h-BN<tspan dx="1.5" font-size="16" dy="-7.5" stroke-width="0.15">[30]</tspan></text>
<text font-size="30" fill="#B27AE0" stroke="#B27AE0" stroke-width="0.1" transform="translate(216.8 1694.9) scale(1 1.03)">MoS<tspan font-size="21" dy="6" stroke-width="0.15">2</tspan><tspan dx="1.5" font-size="16" dy="-13.5" stroke-width="0.15">[58]</tspan></text>
<polygon points="282.4,1736.3 270.6,1729.5 270.6,1715.9 282.4,1709.1 294.2,1715.9 294.2,1729.5" fill="#B27AE0"/>
<polygon points="303.5,1731.3 291.7,1724.5 291.7,1710.9 303.5,1704.1 315.3,1710.9 315.3,1724.5" fill="#B27AE0"/>
<rect x="224.4" y="1721" width="22.2" height="22.2" fill="#FF8000"/>
<text font-size="30" fill="#F08030" stroke="#F08030" stroke-width="0.1" transform="translate(223.3 1778.5) scale(1 1.03)">SLG<tspan dx="1.5" font-size="16" dy="-7.5" stroke-width="0.15">[28]</tspan></text>
<rect x="206" y="1323" width="595.1" height="472.4" fill="none" stroke="#000" stroke-width="4.9"/>
<line x1="291" y1="1795.4" x2="291" y2="1784.4" stroke="#000" stroke-width="4.9"/>
<line x1="376" y1="1795.4" x2="376" y2="1784.4" stroke="#000" stroke-width="4.9"/>
<line x1="461" y1="1795.4" x2="461" y2="1784.4" stroke="#000" stroke-width="4.9"/>
<line x1="546" y1="1795.4" x2="546" y2="1784.4" stroke="#000" stroke-width="4.9"/>
<line x1="631" y1="1795.4" x2="631" y2="1784.4" stroke="#000" stroke-width="4.9"/>
<line x1="716" y1="1795.4" x2="716" y2="1784.4" stroke="#000" stroke-width="4.9"/>
<line x1="248.5" y1="1795.4" x2="248.5" y2="1789.4" stroke="#000" stroke-width="4.9"/>
<line x1="333.5" y1="1795.4" x2="333.5" y2="1789.4" stroke="#000" stroke-width="4.9"/>
<line x1="418.5" y1="1795.4" x2="418.5" y2="1789.4" stroke="#000" stroke-width="4.9"/>
<line x1="503.5" y1="1795.4" x2="503.5" y2="1789.4" stroke="#000" stroke-width="4.9"/>
<line x1="588.5" y1="1795.4" x2="588.5" y2="1789.4" stroke="#000" stroke-width="4.9"/>
<line x1="673.5" y1="1795.4" x2="673.5" y2="1789.4" stroke="#000" stroke-width="4.9"/>
<line x1="758.5" y1="1795.4" x2="758.5" y2="1789.4" stroke="#000" stroke-width="4.9"/>
<line x1="206" y1="1711" x2="217" y2="1711" stroke="#000" stroke-width="4.9"/>
<line x1="206" y1="1624.4" x2="217" y2="1624.4" stroke="#000" stroke-width="4.9"/>
<line x1="206" y1="1537.8" x2="217" y2="1537.8" stroke="#000" stroke-width="4.9"/>
<line x1="206" y1="1451.1" x2="217" y2="1451.1" stroke="#000" stroke-width="4.9"/>
<line x1="206" y1="1364.5" x2="217" y2="1364.5" stroke="#000" stroke-width="4.9"/>
<line x1="206" y1="1754.4" x2="212" y2="1754.4" stroke="#000" stroke-width="4.9"/>
<line x1="206" y1="1667.7" x2="212" y2="1667.7" stroke="#000" stroke-width="4.9"/>
<line x1="206" y1="1581.1" x2="212" y2="1581.1" stroke="#000" stroke-width="4.9"/>
<line x1="206" y1="1494.4" x2="212" y2="1494.4" stroke="#000" stroke-width="4.9"/>
<line x1="206" y1="1407.8" x2="212" y2="1407.8" stroke="#000" stroke-width="4.9"/>
<text font-size="27.3" text-anchor="middle" stroke="#000" stroke-width="0.5" transform="translate(206 1831.6) scale(1 1.08)">0</text>
<text font-size="27.3" text-anchor="middle" stroke="#000" stroke-width="0.5" transform="translate(291 1831.6) scale(1 1.08)">1</text>
<text font-size="27.3" text-anchor="middle" stroke="#000" stroke-width="0.5" transform="translate(376 1831.6) scale(1 1.08)">2</text>
<text font-size="27.3" text-anchor="middle" stroke="#000" stroke-width="0.5" transform="translate(461 1831.6) scale(1 1.08)">3</text>
<text font-size="27.3" text-anchor="middle" stroke="#000" stroke-width="0.5" transform="translate(546 1831.6) scale(1 1.08)">4</text>
<text font-size="27.3" text-anchor="middle" stroke="#000" stroke-width="0.5" transform="translate(631 1831.6) scale(1 1.08)">5</text>
<text font-size="27.3" text-anchor="middle" stroke="#000" stroke-width="0.5" transform="translate(716 1831.6) scale(1 1.08)">6</text>
<text font-size="27.3" text-anchor="middle" stroke="#000" stroke-width="0.5" transform="translate(801 1831.6) scale(1 1.08)">7</text>
<text font-size="27.3" text-anchor="end" stroke="#000" stroke-width="0.5" transform="translate(192.6 1721.5) scale(1 1.08)">5</text>
<text font-size="27.3" text-anchor="end" stroke="#000" stroke-width="0.5" transform="translate(192.6 1634.9) scale(1 1.08)">10</text>
<text font-size="27.3" text-anchor="end" stroke="#000" stroke-width="0.5" transform="translate(192.6 1548.2) scale(1 1.08)">15</text>
<text font-size="27.3" text-anchor="end" stroke="#000" stroke-width="0.5" transform="translate(192.6 1461.6) scale(1 1.08)">20</text>
<text font-size="27.3" text-anchor="end" stroke="#000" stroke-width="0.5" transform="translate(192.6 1375) scale(1 1.08)">25</text>
<text font-size="37.3" text-anchor="middle" stroke="#000" stroke-width="0.3" transform="translate(493.7 1881.4) scale(1 1.03)">Thickness (nm)</text>
<text font-size="37.3" text-anchor="middle" stroke="#000" stroke-width="0.3" transform="translate(148 1551) rotate(-90) scale(1 1.03)">TTF<tspan font-size="26" dy="7" stroke-width="0.25">50%</tspan><tspan dy="-7">  ratio</tspan></text>
</g>
<g>
<text x="957" y="1319" font-size="56.5">f</text>
<rect x="1182.2" y="1340.1" width="253.8" height="36" fill="url(#fi1)"/>
<rect x="1182.2" y="1375.9" width="253.8" height="42" fill="url(#fi2)"/>
<rect x="1182.2" y="1417.7" width="253.8" height="31" fill="url(#fi3)"/>
<text x="1317" y="1364.3" font-size="19.3" text-anchor="middle" stroke="#000" stroke-width="0.2">Surface scattering</text>
<text x="1308.5" y="1439.6" font-size="19.3" text-anchor="middle" stroke="#000" stroke-width="0.2">Grain boundary scattering</text>
<line x1="1212.8" y1="1375.9" x2="1232.4" y2="1417.7" stroke="#000" stroke-width="1.6"/>
<line x1="1295.7" y1="1375.9" x2="1304.1" y2="1417.7" stroke="#000" stroke-width="1.6"/>
<line x1="1366.4" y1="1375.9" x2="1345.3" y2="1417.7" stroke="#000" stroke-width="1.6"/>
<line x1="1390.6" y1="1375.9" x2="1406.9" y2="1417.7" stroke="#000" stroke-width="1.6"/>
<text x="1227.3" y="1391.8" font-size="19.5" stroke="#000" stroke-width="0.2">e<tspan font-size="14" dy="-7" stroke-width="0.25">-</tspan></text>
<circle cx="1247" cy="1401.7" r="6" fill="url(#so)"/>
<line x1="1254.6" y1="1392.8" x2="1270" y2="1381.1" stroke="#4472C4" stroke-width="2.6"/>
<polygon points="1276,1376.6 1271.8,1385.1 1266.7,1378.4" fill="#4472C4"/>
<line x1="1278.4" y1="1377" x2="1281.7" y2="1390.7" stroke="#4472C4" stroke-width="2.6"/>
<polygon points="1283.5,1398 1277.4,1390.7 1285.6,1388.7" fill="#4472C4"/>
<line x1="1255" y1="1406.5" x2="1293.5" y2="1409.5" stroke="#0E8A3E" stroke-width="2.6"/>
<polygon points="1301,1410.1 1292.2,1413.6 1292.9,1405.2" fill="#0E8A3E"/>
<line x1="1305.2" y1="1409.9" x2="1320.4" y2="1402" stroke="#0E8A3E" stroke-width="2.6"/>
<polygon points="1327,1398.5 1321.4,1406.2 1317.5,1398.7" fill="#0E8A3E"/>
<polygon points="1442.9,1386.2 1459.1,1386.2 1459.1,1377.9 1475.1,1393.9 1459.1,1409.8 1459.1,1401.8 1442.9,1401.8" fill="#6EB52D"/>
<rect x="1483" y="1340.1" width="196.8" height="29" fill="url(#fi1)"/>
<rect x="1483" y="1375.5" width="196.8" height="42.5" fill="url(#fi2)"/>
<rect x="1483" y="1368.4" width="196.8" height="7.6" fill="url(#fi4)"/>
<rect x="1483" y="1417.4" width="196.8" height="7.8" fill="url(#fi4)"/>
<rect x="1483" y="1425.1" width="196.8" height="23.5" fill="url(#fi3)"/>
<text x="1577.3" y="1362.3" font-size="19.3" text-anchor="middle" fill="#FF0000" stroke="#FF0000" stroke-width="0.2">Surface scattering</text>
<line x1="1492.3" y1="1375.9" x2="1512.5" y2="1417.4" stroke="#000" stroke-width="1.6"/>
<line x1="1581.1" y1="1375.9" x2="1583.5" y2="1417.4" stroke="#000" stroke-width="1.6"/>
<line x1="1646.5" y1="1375.9" x2="1625.1" y2="1417.4" stroke="#000" stroke-width="1.6"/>
<text x="1507.5" y="1391.4" font-size="19.5" stroke="#000" stroke-width="0.2">e<tspan font-size="14" dy="-7" stroke-width="0.25">-</tspan></text>
<circle cx="1527.4" cy="1401.8" r="6" fill="url(#so)"/>
<line x1="1532.2" y1="1392.9" x2="1548.9" y2="1380.6" stroke="#4472C4" stroke-width="2.6"/>
<polygon points="1555,1376.2 1550.6,1384.6 1545.7,1377.8" fill="#4472C4"/>
<line x1="1556.5" y1="1382" x2="1561" y2="1397" stroke="#A6AAD2" stroke-width="3" stroke-dasharray="3.5 2"/>
<line x1="1557.2" y1="1377.9" x2="1571.5" y2="1391.4" stroke="#FF1010" stroke-width="2.6"/>
<polygon points="1577,1396.5 1567.9,1393.7 1573.7,1387.6" fill="#FF1010"/>
<line x1="1534.9" y1="1406.6" x2="1573.5" y2="1409.5" stroke="#0E8A3E" stroke-width="2.6"/>
<polygon points="1581,1410.1 1572.2,1413.6 1572.8,1405.3" fill="#0E8A3E"/>
<line x1="1585.2" y1="1410.1" x2="1600.8" y2="1402" stroke="#0E8A3E" stroke-width="2.6"/>
<polygon points="1607.5,1398.5 1601.9,1406.1 1598,1398.7" fill="#0E8A3E"/>
<rect x="1183.4" y="1472" width="98.9" height="323.8" fill="url(#fb1)" stroke="#000" stroke-width="4.5"/>
<rect x="1381.6" y="1548" width="99.1" height="247.8" fill="url(#fb2)" stroke="#000" stroke-width="4.5"/>
<rect x="1580.6" y="1557" width="98.6" height="238.8" fill="url(#fb3)" stroke="#000" stroke-width="4.5"/>
<line x1="1284.5" y1="1472.5" x2="1682" y2="1472.5" stroke="#808080" stroke-width="4.2" stroke-dasharray="12.3 4.6"/>
<line x1="1310.3" y1="1548.3" x2="1379.5" y2="1548.3" stroke="#808080" stroke-width="4.2" stroke-dasharray="12.3 4.6"/>
<line x1="1508.9" y1="1556.3" x2="1578.5" y2="1556.3" stroke="#808080" stroke-width="4.2" stroke-dasharray="12.3 4.6"/>
<polygon points="1343.6,1474.6 1366.4,1474.6 1366.4,1522.1 1379,1522.1 1355,1546.6 1330.9,1522.1 1343.6,1522.1" fill="url(#fa1)"/>
<polygon points="1541.2,1474.6 1563.8,1474.6 1563.8,1530 1575.9,1530 1552,1554.3 1528.1,1530 1541.2,1530" fill="url(#fa2)"/>
<text font-size="30.5" fill="#1B6BDF" stroke="#1B6BDF" stroke-width="0.2" transform="translate(1372.5 1523) scale(1 1.03)">- 23.4 %</text>
<text font-size="30.5" fill="#FF0000" stroke="#FF0000" stroke-width="0.2" transform="translate(1582.3 1528) scale(1 1.03)">- 26 %</text>
<circle cx="1233.3" cy="1469.8" r="12" fill="url(#sK)"/>
<circle cx="1431.7" cy="1548.9" r="12" fill="url(#sb)"/>
<circle cx="1629.9" cy="1555.6" r="12" fill="url(#sR)"/>
<rect x="1133.7" y="1322.8" width="595.8" height="473" fill="none" stroke="#000" stroke-width="4.9"/>
<line x1="1133.7" y1="1701.5" x2="1144.7" y2="1701.5" stroke="#000" stroke-width="4.9"/>
<line x1="1133.7" y1="1606.4" x2="1144.7" y2="1606.4" stroke="#000" stroke-width="4.9"/>
<line x1="1133.7" y1="1511.4" x2="1144.7" y2="1511.4" stroke="#000" stroke-width="4.9"/>
<line x1="1133.7" y1="1416.4" x2="1144.7" y2="1416.4" stroke="#000" stroke-width="4.9"/>
<text font-size="27.8" text-anchor="end" stroke="#000" stroke-width="0.5" transform="translate(1121 1806.8) scale(1 1.08)">0</text>
<text font-size="27.8" text-anchor="end" stroke="#000" stroke-width="0.5" transform="translate(1121 1711.8) scale(1 1.08)">100</text>
<text font-size="27.8" text-anchor="end" stroke="#000" stroke-width="0.5" transform="translate(1121 1616.7) scale(1 1.08)">200</text>
<text font-size="27.8" text-anchor="end" stroke="#000" stroke-width="0.5" transform="translate(1121 1521.7) scale(1 1.08)">300</text>
<text font-size="27.8" text-anchor="end" stroke="#000" stroke-width="0.5" transform="translate(1121 1426.7) scale(1 1.08)">400</text>
<text font-size="27.8" text-anchor="end" stroke="#000" stroke-width="0.5" transform="translate(1121 1331.6) scale(1 1.08)">500</text>
<text font-size="30.5" text-anchor="middle" stroke="#000" stroke-width="0.2" transform="translate(1233.5 1843) scale(1 1.03)">SiO<tspan font-size="21" dy="7.5" stroke-width="0.25">2</tspan></text>
<text font-size="30.5" text-anchor="middle" stroke="#000" stroke-width="0.2" transform="translate(1432 1843) scale(1 1.03)">rGO/SAM</text>
<text font-size="30.5" text-anchor="middle" stroke="#000" stroke-width="0.2" transform="translate(1629.5 1843) scale(1 1.03)">Ru SA-</text>
<text font-size="30.5" text-anchor="middle" stroke="#000" stroke-width="0.2" transform="translate(1630 1878.5) scale(1 1.03)">rGO/SAM</text>
<text font-size="37.8" text-anchor="middle" stroke="#000" stroke-width="0.3" transform="translate(1052.5 1545) rotate(-90) scale(1 1.03)">Sheet Resistance (mΩ □<tspan font-size="24" dy="-13" stroke-width="0.25">-1</tspan><tspan dy="13">)</tspan></text>
</g>
<g>
<text x="-2" y="1924" font-size="56.5">g</text>
<line x1="209.4" y1="2373" x2="799.1" y2="2373" stroke="#F08030" stroke-width="4.6" stroke-dasharray="4.5 4.45"/>
<text font-size="27.6" fill="#F08030" stroke="#F08030" stroke-width="0.5" transform="translate(367 2358) scale(1 1.08)">Bulk resistivity of Cu</text>
<path d="M269.2 1982.2L319.9 2124.5M335.6 2146.3L462.9 2246M487.7 2257.2L734 2303.4" stroke="#808080" stroke-width="5.5" fill="none"/>
<circle cx="264.5" cy="1969" r="10" fill="url(#sg)"/>
<circle cx="324.6" cy="2137.7" r="10" fill="url(#sg)"/>
<circle cx="473.9" cy="2254.6" r="10" fill="url(#sg)"/>
<circle cx="747.8" cy="2306" r="10" fill="url(#sg)"/>
<path d="M270.2 2081L318.9 2190.9M336.6 2210.9L461.9 2285.8M487.6 2295.7L734.1 2343.2" stroke="#EF4143" stroke-width="5.5" fill="none"/>
<circle cx="264.5" cy="2068.2" r="10" fill="url(#sr)"/>
<circle cx="324.6" cy="2203.7" r="10" fill="url(#sr)"/>
<circle cx="473.9" cy="2293" r="10" fill="url(#sr)"/>
<circle cx="747.8" cy="2345.9" r="10" fill="url(#sr)"/>
<line x1="472.8" y1="2002.5" x2="488.5" y2="2002.5" stroke="#808080" stroke-width="5.5"/>
<line x1="514" y1="2002.5" x2="529.6" y2="2002.5" stroke="#808080" stroke-width="5.5"/>
<circle cx="501.4" cy="2002.5" r="10" fill="url(#sg)"/>
<line x1="472.8" y1="2047.6" x2="488.5" y2="2047.6" stroke="#EF4143" stroke-width="5.5"/>
<line x1="514" y1="2047.6" x2="529.6" y2="2047.6" stroke="#EF4143" stroke-width="5.5"/>
<circle cx="501.4" cy="2047.6" r="10" fill="url(#sr)"/>
<text font-size="24.4" stroke="#000" stroke-width="0.5" transform="translate(536.5 2012.9) scale(1 1.08)" letter-spacing="0">Cu/SiO<tspan font-size="17" dy="6.5" stroke-width="0.25">2</tspan></text>
<text font-size="24.4" stroke="#000" stroke-width="0.5" transform="translate(536.5 2057.3) scale(1 1.08)">Cu/Ru SA-rGO/SAM</text>
<rect x="207.4" y="1933.5" width="593.7" height="478.2" fill="none" stroke="#000" stroke-width="4.9"/>
<line x1="356.3" y1="2411.7" x2="356.3" y2="2402.3" stroke="#000" stroke-width="4.9"/>
<line x1="504.6" y1="2411.7" x2="504.6" y2="2402.3" stroke="#000" stroke-width="4.9"/>
<line x1="652.9" y1="2411.7" x2="652.9" y2="2402.3" stroke="#000" stroke-width="4.9"/>
<line x1="282.1" y1="2411.7" x2="282.1" y2="2406.7" stroke="#000" stroke-width="4.9"/>
<line x1="430.5" y1="2411.7" x2="430.5" y2="2406.7" stroke="#000" stroke-width="4.9"/>
<line x1="578.8" y1="2411.7" x2="578.8" y2="2406.7" stroke="#000" stroke-width="4.9"/>
<line x1="727.1" y1="2411.7" x2="727.1" y2="2406.7" stroke="#000" stroke-width="4.9"/>
<line x1="207.4" y1="2345.2" x2="216.8" y2="2345.2" stroke="#000" stroke-width="4.9"/>
<line x1="207.4" y1="2238.7" x2="216.8" y2="2238.7" stroke="#000" stroke-width="4.9"/>
<line x1="207.4" y1="2132.3" x2="216.8" y2="2132.3" stroke="#000" stroke-width="4.9"/>
<line x1="207.4" y1="2025.8" x2="216.8" y2="2025.8" stroke="#000" stroke-width="4.9"/>
<line x1="207.4" y1="2398.4" x2="212.4" y2="2398.4" stroke="#000" stroke-width="4.9"/>
<line x1="207.4" y1="2292" x2="212.4" y2="2292" stroke="#000" stroke-width="4.9"/>
<line x1="207.4" y1="2185.5" x2="212.4" y2="2185.5" stroke="#000" stroke-width="4.9"/>
<line x1="207.4" y1="2079" x2="212.4" y2="2079" stroke="#000" stroke-width="4.9"/>
<line x1="207.4" y1="1972.6" x2="212.4" y2="1972.6" stroke="#000" stroke-width="4.9"/>
<text font-size="27.3" text-anchor="middle" stroke="#000" stroke-width="0.5" transform="translate(356.3 2443.8) scale(1 1.08)">50</text>
<text font-size="27.3" text-anchor="middle" stroke="#000" stroke-width="0.5" transform="translate(504.6 2443.8) scale(1 1.08)">100</text>
<text font-size="27.3" text-anchor="middle" stroke="#000" stroke-width="0.5" transform="translate(652.9 2443.8) scale(1 1.08)">150</text>
<text font-size="27.3" text-anchor="middle" stroke="#000" stroke-width="0.5" transform="translate(801.2 2443.8) scale(1 1.08)">200</text>
<text font-size="27.3" text-anchor="end" stroke="#000" stroke-width="0.5" transform="translate(195.5 2355.7) scale(1 1.08)">2</text>
<text font-size="27.3" text-anchor="end" stroke="#000" stroke-width="0.5" transform="translate(195.5 2249.2) scale(1 1.08)">4</text>
<text font-size="27.3" text-anchor="end" stroke="#000" stroke-width="0.5" transform="translate(195.5 2142.8) scale(1 1.08)">6</text>
<text font-size="27.3" text-anchor="end" stroke="#000" stroke-width="0.5" transform="translate(195.5 2036.3) scale(1 1.08)">8</text>
<text font-size="37.3" text-anchor="middle" stroke="#000" stroke-width="0.3" transform="translate(493.7 2491.6) scale(1 1.03)">Thickness (nm)</text>
<text font-size="37.3" text-anchor="middle" stroke="#000" stroke-width="0.3" transform="translate(147.3 2147.5) rotate(-90) scale(1 1.03)">Resistivity<tspan dx="3" dy="5">（</tspan><tspan dx="4.5" dy="-5">μΩ·cm</tspan><tspan dx="9" dy="5">）</tspan></text>
</g>
<g>
<text x="956.3" y="1927" font-size="56.5">h</text>
<line x1="1188.8" y1="2305.5" x2="1651.5" y2="1980" stroke="#BEBEBE" stroke-width="7"/>
<line x1="1188.8" y1="2343.2" x2="1651.5" y2="2079" stroke="#FF7F7F" stroke-width="7"/>
<circle cx="1189.3" cy="2317.9" r="10" fill="url(#sk)"/>
<circle cx="1245.2" cy="2266.5" r="10" fill="url(#sk)"/>
<circle cx="1385.4" cy="2148.9" r="10" fill="url(#sk)"/>
<circle cx="1651.5" cy="1980.1" r="10" fill="url(#sk)"/>
<circle cx="1189.3" cy="2358.1" r="10" fill="url(#sr)"/>
<circle cx="1245.2" cy="2305.5" r="10" fill="url(#sr)"/>
<circle cx="1385.4" cy="2213.2" r="10" fill="url(#sr)"/>
<circle cx="1651.5" cy="2079.2" r="10" fill="url(#sr)"/>
<line x1="1178.2" y1="1984.9" x2="1234" y2="1984.9" stroke="#BEBEBE" stroke-width="7.4"/>
<line x1="1178.2" y1="2025.8" x2="1234" y2="2025.8" stroke="#FF7F7F" stroke-width="7.4"/>
<text font-size="24.4" stroke="#000" stroke-width="0.5" transform="translate(1241.5 1994.8) scale(1 1.08)">Cu/SiO<tspan font-size="17" dy="6.5" stroke-width="0.25">2</tspan></text>
<text font-size="24.4" stroke="#000" stroke-width="0.5" transform="translate(1241.5 2035.2) scale(1 1.08)">Cu/Ru SA-rGO/SAM</text>
<text x="1195" y="2128.3" font-size="28" fill="#7030A0" stroke="#7030A0" stroke-width="0.2" style='font-family:"Liberation Serif", "DejaVu Serif", serif' font-style="italic">ρ</text>
<text x="1218" y="2129.3" font-size="33" fill="#7030A0" stroke="#7030A0" stroke-width="0.2" style='font-family:"Liberation Serif", "DejaVu Serif", serif' font-style="normal">=</text>
<text x="1255.3" y="2107.5" font-size="23.5" text-anchor="middle" fill="#7030A0" stroke="#7030A0" stroke-width="0.2" style='font-family:"Liberation Serif", "DejaVu Serif", serif' font-style="normal">1</text>
<line x1="1247.1" y1="2119.6" x2="1263.8" y2="2119.6" stroke="#7030A0" stroke-width="1.6"/>
<text x="1255.3" y="2146.4" font-size="23.5" text-anchor="middle" fill="#7030A0" stroke="#7030A0" stroke-width="0.2" style='font-family:"Liberation Serif", "DejaVu Serif", serif' font-style="italic">d</text>
<text x="1268" y="2128.3" font-size="28" fill="#7030A0" stroke="#7030A0" stroke-width="0.2" style='font-family:"Liberation Serif", "DejaVu Serif", serif' font-style="italic">K</text>
<text x="1296" y="2129.3" font-size="33" fill="#7030A0" stroke="#7030A0" stroke-width="0.2" style='font-family:"Liberation Serif", "DejaVu Serif", serif' font-style="normal">+</text>
<text x="1322.3" y="2128.3" font-size="28" fill="#7030A0" stroke="#7030A0" stroke-width="0.2" style='font-family:"Liberation Serif", "DejaVu Serif", serif' font-style="italic" textLength="25.5" lengthAdjust="spacingAndGlyphs">ρ<tspan font-size="20" dy="6" font-style="normal">0</tspan></text>
<text x="1397.5" y="2288.1" font-size="28" fill="#7030A0" stroke="#7030A0" stroke-width="0.2" style='font-family:"Liberation Serif", "DejaVu Serif", serif' font-style="italic"><tspan font-style="normal">Δ</tspan>p</text>
<text x="1438" y="2289.1" font-size="33" fill="#7030A0" stroke="#7030A0" stroke-width="0.2" style='font-family:"Liberation Serif", "DejaVu Serif", serif' font-style="normal">=</text>
<line x1="1466.2" y1="2279.9" x2="1557.7" y2="2279.9" stroke="#7030A0" stroke-width="1.6"/>
<text x="1467" y="2266.5" font-size="28" fill="#7030A0" stroke="#7030A0" stroke-width="0.2" style='font-family:"Liberation Serif", "DejaVu Serif", serif' font-style="italic" textLength="90" lengthAdjust="spacingAndGlyphs">K<tspan font-size="20" dy="6" font-style="normal">1</tspan><tspan dy="-6" font-style="normal"> − </tspan>K<tspan font-size="20" dy="6" font-style="normal">2</tspan></text>
<text x="1487" y="2302.5" font-size="23" text-anchor="middle" fill="#7030A0" stroke="#7030A0" stroke-width="0.2" style='font-family:"Liberation Serif", "DejaVu Serif", serif' font-style="normal">3</text>
<line x1="1480" y1="2312.2" x2="1494.5" y2="2312.2" stroke="#7030A0" stroke-width="1.6"/>
<text x="1487" y="2331.5" font-size="23" text-anchor="middle" fill="#7030A0" stroke="#7030A0" stroke-width="0.2" style='font-family:"Liberation Serif", "DejaVu Serif", serif' font-style="normal">4</text>
<text x="1500" y="2323.3" font-size="28" fill="#7030A0" stroke="#7030A0" stroke-width="0.2" style='font-family:"Liberation Serif", "DejaVu Serif", serif' font-style="italic" textLength="41" lengthAdjust="spacingAndGlyphs">ρ<tspan font-size="20" dy="6" font-style="normal">0</tspan><tspan dy="-6">λ</tspan></text>
<text x="1566" y="2288.1" font-size="29" fill="#E36C0A" stroke="#E36C0A" stroke-width="0.2" style='font-family:"Liberation Serif", "DejaVu Serif", serif' font-style="normal" textLength="83" lengthAdjust="spacingAndGlyphs">= ~ 0.5</text>
<rect x="1134.7" y="1932.3" width="595" height="478.1" fill="none" stroke="#000" stroke-width="4.9"/>
<line x1="1333" y1="2410.4" x2="1333" y2="2401" stroke="#000" stroke-width="4.9"/>
<line x1="1531.4" y1="2410.4" x2="1531.4" y2="2401" stroke="#000" stroke-width="4.9"/>
<line x1="1233.9" y1="2410.4" x2="1233.9" y2="2405.4" stroke="#000" stroke-width="4.9"/>
<line x1="1432.2" y1="2410.4" x2="1432.2" y2="2405.4" stroke="#000" stroke-width="4.9"/>
<line x1="1630.6" y1="2410.4" x2="1630.6" y2="2405.4" stroke="#000" stroke-width="4.9"/>
<line x1="1134.7" y1="2357.1" x2="1144.1" y2="2357.1" stroke="#000" stroke-width="4.9"/>
<line x1="1134.7" y1="2250.5" x2="1144.1" y2="2250.5" stroke="#000" stroke-width="4.9"/>
<line x1="1134.7" y1="2143.9" x2="1144.1" y2="2143.9" stroke="#000" stroke-width="4.9"/>
<line x1="1134.7" y1="2037.3" x2="1144.1" y2="2037.3" stroke="#000" stroke-width="4.9"/>
<line x1="1134.7" y1="2303.8" x2="1139.7" y2="2303.8" stroke="#000" stroke-width="4.9"/>
<line x1="1134.7" y1="2197.2" x2="1139.7" y2="2197.2" stroke="#000" stroke-width="4.9"/>
<line x1="1134.7" y1="2090.6" x2="1139.7" y2="2090.6" stroke="#000" stroke-width="4.9"/>
<line x1="1134.7" y1="1984" x2="1139.7" y2="1984" stroke="#000" stroke-width="4.9"/>
<text font-size="27.3" text-anchor="middle" stroke="#000" stroke-width="0.5" transform="translate(1133.7 2443.4) scale(1 1.08)">0.00</text>
<text font-size="27.3" text-anchor="middle" stroke="#000" stroke-width="0.5" transform="translate(1332 2443.4) scale(1 1.08)">0.02</text>
<text font-size="27.3" text-anchor="middle" stroke="#000" stroke-width="0.5" transform="translate(1530.4 2443.4) scale(1 1.08)">0.04</text>
<text font-size="27.3" text-anchor="middle" stroke="#000" stroke-width="0.5" transform="translate(1728.7 2443.4) scale(1 1.08)">0.06</text>
<text font-size="27.3" text-anchor="end" stroke="#000" stroke-width="0.5" transform="translate(1121.2 2367.6) scale(1 1.08)">2</text>
<text font-size="27.3" text-anchor="end" stroke="#000" stroke-width="0.5" transform="translate(1121.2 2261) scale(1 1.08)">4</text>
<text font-size="27.3" text-anchor="end" stroke="#000" stroke-width="0.5" transform="translate(1121.2 2154.4) scale(1 1.08)">6</text>
<text font-size="27.3" text-anchor="end" stroke="#000" stroke-width="0.5" transform="translate(1121.2 2047.8) scale(1 1.08)">8</text>
<text font-size="27.3" text-anchor="end" stroke="#000" stroke-width="0.5" transform="translate(1121.2 1941.2) scale(1 1.08)">10</text>
<text font-size="37.3" text-anchor="middle" stroke="#000" stroke-width="0.3" transform="translate(1442.5 2491.6) scale(1 1.03)">1 / thickness (nm<tspan font-size="24" dy="-13" stroke-width="0.25">-1</tspan><tspan dy="13">)</tspan></text>
<text font-size="37.7" text-anchor="middle" stroke="#000" stroke-width="0.3" transform="translate(1085.8 2140) rotate(-90) scale(1 1.03)">Resistivity<tspan dx="3" dy="5">（</tspan><tspan dx="4.5" dy="-5">μΩ·cm</tspan><tspan dx="9" dy="5">）</tspan></text>
</g>
</svg>
</body></html>
